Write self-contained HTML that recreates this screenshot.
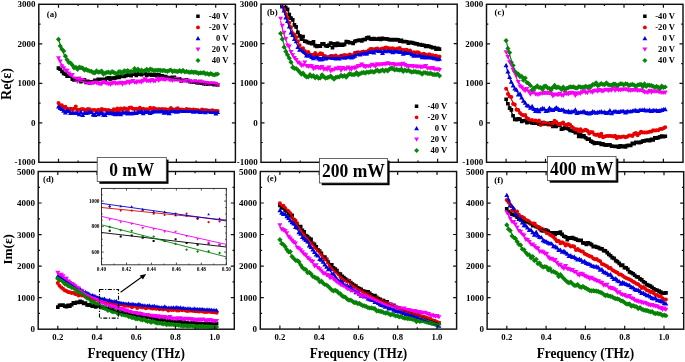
<!DOCTYPE html>
<html><head><meta charset="utf-8"><style>
html,body{margin:0;padding:0;background:#fff;}
body{width:685px;height:362px;overflow:hidden;font-family:"Liberation Serif",serif;}
svg{display:block;will-change:transform;filter:blur(0.3px);}
</style></head><body>
<svg width="685" height="362" viewBox="0 0 685 362">
<rect width="685" height="362" fill="#fff"/>
<defs>
<clipPath id="cpa"><rect x="38.8" y="4.3" width="196.6" height="158.0"/></clipPath>
<clipPath id="cpi"><rect x="101.5" y="188.4" width="124.8" height="76.4"/></clipPath>
<clipPath id="cpb"><rect x="261.0" y="4.2" width="196.2" height="158.1"/></clipPath>
<clipPath id="cpc"><rect x="486.5" y="4.3" width="196.5" height="158.0"/></clipPath>
<clipPath id="cpd"><rect x="38.2" y="171.5" width="196.1" height="157.7"/></clipPath>
<clipPath id="cpe"><rect x="260.3" y="171.5" width="196.3" height="157.6"/></clipPath>
<clipPath id="cpf"><rect x="487.1" y="171.7" width="196.6" height="157.5"/></clipPath>
</defs>
<g clip-path="url(#cpa)">
<path fill="#000000" d="M56.6 66.3h3.7v3.7h-3.7zM58.3 67.4h3.7v3.7h-3.7zM60.1 69.5h3.7v3.7h-3.7zM61.8 71.6h3.7v3.7h-3.7zM63.5 72.3h3.7v3.7h-3.7zM65.3 74.3h3.7v3.7h-3.7zM67.0 74.3h3.7v3.7h-3.7zM68.7 74.1h3.7v3.7h-3.7zM70.5 77.2h3.7v3.7h-3.7zM72.2 78.1h3.7v3.7h-3.7zM73.9 77.3h3.7v3.7h-3.7zM75.6 77.7h3.7v3.7h-3.7zM77.4 78.3h3.7v3.7h-3.7zM79.1 79.7h3.7v3.7h-3.7zM80.8 78.8h3.7v3.7h-3.7zM82.6 78.1h3.7v3.7h-3.7zM84.3 80.5h3.7v3.7h-3.7zM86.0 79.5h3.7v3.7h-3.7zM87.8 81.0h3.7v3.7h-3.7zM89.5 80.2h3.7v3.7h-3.7zM91.2 80.6h3.7v3.7h-3.7zM92.9 78.6h3.7v3.7h-3.7zM94.7 79.5h3.7v3.7h-3.7zM96.4 77.6h3.7v3.7h-3.7zM98.1 77.5h3.7v3.7h-3.7zM99.9 77.6h3.7v3.7h-3.7zM101.6 79.7h3.7v3.7h-3.7zM103.3 77.4h3.7v3.7h-3.7zM105.1 76.6h3.7v3.7h-3.7zM106.8 76.1h3.7v3.7h-3.7zM108.5 77.5h3.7v3.7h-3.7zM110.2 76.2h3.7v3.7h-3.7zM112.0 76.4h3.7v3.7h-3.7zM113.7 76.0h3.7v3.7h-3.7zM115.4 74.0h3.7v3.7h-3.7zM117.2 75.5h3.7v3.7h-3.7zM118.9 74.6h3.7v3.7h-3.7zM120.6 73.5h3.7v3.7h-3.7zM122.4 74.6h3.7v3.7h-3.7zM124.1 73.8h3.7v3.7h-3.7zM125.8 73.2h3.7v3.7h-3.7zM127.5 72.9h3.7v3.7h-3.7zM129.3 73.7h3.7v3.7h-3.7zM131.0 72.3h3.7v3.7h-3.7zM132.7 71.0h3.7v3.7h-3.7zM134.5 73.5h3.7v3.7h-3.7zM136.2 71.5h3.7v3.7h-3.7zM137.9 72.2h3.7v3.7h-3.7zM139.7 72.9h3.7v3.7h-3.7zM141.4 70.8h3.7v3.7h-3.7zM143.1 71.9h3.7v3.7h-3.7zM144.8 73.6h3.7v3.7h-3.7zM146.6 72.7h3.7v3.7h-3.7zM148.3 72.5h3.7v3.7h-3.7zM150.0 73.2h3.7v3.7h-3.7zM151.8 72.7h3.7v3.7h-3.7zM153.5 73.4h3.7v3.7h-3.7zM155.2 73.0h3.7v3.7h-3.7zM157.0 72.7h3.7v3.7h-3.7zM158.7 74.5h3.7v3.7h-3.7zM160.4 74.1h3.7v3.7h-3.7zM162.1 74.8h3.7v3.7h-3.7zM163.9 74.7h3.7v3.7h-3.7zM165.6 75.9h3.7v3.7h-3.7zM167.3 75.8h3.7v3.7h-3.7zM169.1 75.8h3.7v3.7h-3.7zM170.8 75.4h3.7v3.7h-3.7zM172.5 75.6h3.7v3.7h-3.7zM174.3 77.5h3.7v3.7h-3.7zM176.0 77.5h3.7v3.7h-3.7zM177.7 76.9h3.7v3.7h-3.7zM179.4 79.0h3.7v3.7h-3.7zM181.2 78.4h3.7v3.7h-3.7zM182.9 78.6h3.7v3.7h-3.7zM184.6 78.1h3.7v3.7h-3.7zM186.4 78.8h3.7v3.7h-3.7zM188.1 79.8h3.7v3.7h-3.7zM189.8 80.1h3.7v3.7h-3.7zM191.6 80.3h3.7v3.7h-3.7zM193.3 79.5h3.7v3.7h-3.7zM195.0 80.9h3.7v3.7h-3.7zM196.7 81.1h3.7v3.7h-3.7zM198.5 80.9h3.7v3.7h-3.7zM200.2 81.4h3.7v3.7h-3.7zM201.9 81.7h3.7v3.7h-3.7zM203.7 82.4h3.7v3.7h-3.7zM205.4 82.0h3.7v3.7h-3.7zM207.1 82.4h3.7v3.7h-3.7zM208.9 81.8h3.7v3.7h-3.7zM210.6 82.2h3.7v3.7h-3.7zM212.3 82.7h3.7v3.7h-3.7zM214.0 82.5h3.7v3.7h-3.7zM215.8 83.1h3.7v3.7h-3.7z"/>
<path fill="#ee0000" d="M56.5 103.1a2.0 2.0 0 1 0 4.0 0a2.0 2.0 0 1 0 -4.0 0zM58.2 105.2a2.0 2.0 0 1 0 4.0 0a2.0 2.0 0 1 0 -4.0 0zM59.9 105.2a2.0 2.0 0 1 0 4.0 0a2.0 2.0 0 1 0 -4.0 0zM61.7 108.1a2.0 2.0 0 1 0 4.0 0a2.0 2.0 0 1 0 -4.0 0zM63.4 106.7a2.0 2.0 0 1 0 4.0 0a2.0 2.0 0 1 0 -4.0 0zM65.1 109.6a2.0 2.0 0 1 0 4.0 0a2.0 2.0 0 1 0 -4.0 0zM66.8 110.4a2.0 2.0 0 1 0 4.0 0a2.0 2.0 0 1 0 -4.0 0zM68.6 108.7a2.0 2.0 0 1 0 4.0 0a2.0 2.0 0 1 0 -4.0 0zM70.3 109.7a2.0 2.0 0 1 0 4.0 0a2.0 2.0 0 1 0 -4.0 0zM72.0 108.7a2.0 2.0 0 1 0 4.0 0a2.0 2.0 0 1 0 -4.0 0zM73.8 106.5a2.0 2.0 0 1 0 4.0 0a2.0 2.0 0 1 0 -4.0 0zM75.5 110.1a2.0 2.0 0 1 0 4.0 0a2.0 2.0 0 1 0 -4.0 0zM77.2 110.0a2.0 2.0 0 1 0 4.0 0a2.0 2.0 0 1 0 -4.0 0zM79.0 109.2a2.0 2.0 0 1 0 4.0 0a2.0 2.0 0 1 0 -4.0 0zM80.7 109.0a2.0 2.0 0 1 0 4.0 0a2.0 2.0 0 1 0 -4.0 0zM82.4 109.8a2.0 2.0 0 1 0 4.0 0a2.0 2.0 0 1 0 -4.0 0zM84.1 109.9a2.0 2.0 0 1 0 4.0 0a2.0 2.0 0 1 0 -4.0 0zM85.9 109.0a2.0 2.0 0 1 0 4.0 0a2.0 2.0 0 1 0 -4.0 0zM87.6 109.3a2.0 2.0 0 1 0 4.0 0a2.0 2.0 0 1 0 -4.0 0zM89.3 111.0a2.0 2.0 0 1 0 4.0 0a2.0 2.0 0 1 0 -4.0 0zM91.1 110.0a2.0 2.0 0 1 0 4.0 0a2.0 2.0 0 1 0 -4.0 0zM92.8 109.9a2.0 2.0 0 1 0 4.0 0a2.0 2.0 0 1 0 -4.0 0zM94.5 111.1a2.0 2.0 0 1 0 4.0 0a2.0 2.0 0 1 0 -4.0 0zM96.3 109.7a2.0 2.0 0 1 0 4.0 0a2.0 2.0 0 1 0 -4.0 0zM98.0 110.9a2.0 2.0 0 1 0 4.0 0a2.0 2.0 0 1 0 -4.0 0zM99.7 109.0a2.0 2.0 0 1 0 4.0 0a2.0 2.0 0 1 0 -4.0 0zM101.4 109.8a2.0 2.0 0 1 0 4.0 0a2.0 2.0 0 1 0 -4.0 0zM103.2 109.8a2.0 2.0 0 1 0 4.0 0a2.0 2.0 0 1 0 -4.0 0zM104.9 110.5a2.0 2.0 0 1 0 4.0 0a2.0 2.0 0 1 0 -4.0 0zM106.6 109.9a2.0 2.0 0 1 0 4.0 0a2.0 2.0 0 1 0 -4.0 0zM108.4 111.7a2.0 2.0 0 1 0 4.0 0a2.0 2.0 0 1 0 -4.0 0zM110.1 110.7a2.0 2.0 0 1 0 4.0 0a2.0 2.0 0 1 0 -4.0 0zM111.8 109.2a2.0 2.0 0 1 0 4.0 0a2.0 2.0 0 1 0 -4.0 0zM113.6 111.5a2.0 2.0 0 1 0 4.0 0a2.0 2.0 0 1 0 -4.0 0zM115.3 108.6a2.0 2.0 0 1 0 4.0 0a2.0 2.0 0 1 0 -4.0 0zM117.0 110.9a2.0 2.0 0 1 0 4.0 0a2.0 2.0 0 1 0 -4.0 0zM118.7 108.5a2.0 2.0 0 1 0 4.0 0a2.0 2.0 0 1 0 -4.0 0zM120.5 109.9a2.0 2.0 0 1 0 4.0 0a2.0 2.0 0 1 0 -4.0 0zM122.2 108.3a2.0 2.0 0 1 0 4.0 0a2.0 2.0 0 1 0 -4.0 0zM123.9 108.8a2.0 2.0 0 1 0 4.0 0a2.0 2.0 0 1 0 -4.0 0zM125.7 110.2a2.0 2.0 0 1 0 4.0 0a2.0 2.0 0 1 0 -4.0 0zM127.4 107.7a2.0 2.0 0 1 0 4.0 0a2.0 2.0 0 1 0 -4.0 0zM129.1 107.5a2.0 2.0 0 1 0 4.0 0a2.0 2.0 0 1 0 -4.0 0zM130.9 108.8a2.0 2.0 0 1 0 4.0 0a2.0 2.0 0 1 0 -4.0 0zM132.6 108.9a2.0 2.0 0 1 0 4.0 0a2.0 2.0 0 1 0 -4.0 0zM134.3 108.8a2.0 2.0 0 1 0 4.0 0a2.0 2.0 0 1 0 -4.0 0zM136.0 109.5a2.0 2.0 0 1 0 4.0 0a2.0 2.0 0 1 0 -4.0 0zM137.8 107.8a2.0 2.0 0 1 0 4.0 0a2.0 2.0 0 1 0 -4.0 0zM139.5 109.2a2.0 2.0 0 1 0 4.0 0a2.0 2.0 0 1 0 -4.0 0zM141.2 108.8a2.0 2.0 0 1 0 4.0 0a2.0 2.0 0 1 0 -4.0 0zM143.0 109.4a2.0 2.0 0 1 0 4.0 0a2.0 2.0 0 1 0 -4.0 0zM144.7 109.3a2.0 2.0 0 1 0 4.0 0a2.0 2.0 0 1 0 -4.0 0zM146.4 109.8a2.0 2.0 0 1 0 4.0 0a2.0 2.0 0 1 0 -4.0 0zM148.2 107.8a2.0 2.0 0 1 0 4.0 0a2.0 2.0 0 1 0 -4.0 0zM149.9 108.9a2.0 2.0 0 1 0 4.0 0a2.0 2.0 0 1 0 -4.0 0zM151.6 108.1a2.0 2.0 0 1 0 4.0 0a2.0 2.0 0 1 0 -4.0 0zM153.3 108.8a2.0 2.0 0 1 0 4.0 0a2.0 2.0 0 1 0 -4.0 0zM155.1 109.4a2.0 2.0 0 1 0 4.0 0a2.0 2.0 0 1 0 -4.0 0zM156.8 109.1a2.0 2.0 0 1 0 4.0 0a2.0 2.0 0 1 0 -4.0 0zM158.5 109.3a2.0 2.0 0 1 0 4.0 0a2.0 2.0 0 1 0 -4.0 0zM160.3 108.9a2.0 2.0 0 1 0 4.0 0a2.0 2.0 0 1 0 -4.0 0zM162.0 109.2a2.0 2.0 0 1 0 4.0 0a2.0 2.0 0 1 0 -4.0 0zM163.7 109.2a2.0 2.0 0 1 0 4.0 0a2.0 2.0 0 1 0 -4.0 0zM165.5 110.0a2.0 2.0 0 1 0 4.0 0a2.0 2.0 0 1 0 -4.0 0zM167.2 109.6a2.0 2.0 0 1 0 4.0 0a2.0 2.0 0 1 0 -4.0 0zM168.9 107.9a2.0 2.0 0 1 0 4.0 0a2.0 2.0 0 1 0 -4.0 0zM170.6 109.5a2.0 2.0 0 1 0 4.0 0a2.0 2.0 0 1 0 -4.0 0zM172.4 109.8a2.0 2.0 0 1 0 4.0 0a2.0 2.0 0 1 0 -4.0 0zM174.1 108.9a2.0 2.0 0 1 0 4.0 0a2.0 2.0 0 1 0 -4.0 0zM175.8 108.3a2.0 2.0 0 1 0 4.0 0a2.0 2.0 0 1 0 -4.0 0zM177.6 110.2a2.0 2.0 0 1 0 4.0 0a2.0 2.0 0 1 0 -4.0 0zM179.3 109.4a2.0 2.0 0 1 0 4.0 0a2.0 2.0 0 1 0 -4.0 0zM181.0 109.7a2.0 2.0 0 1 0 4.0 0a2.0 2.0 0 1 0 -4.0 0zM182.8 110.5a2.0 2.0 0 1 0 4.0 0a2.0 2.0 0 1 0 -4.0 0zM184.5 109.0a2.0 2.0 0 1 0 4.0 0a2.0 2.0 0 1 0 -4.0 0zM186.2 109.5a2.0 2.0 0 1 0 4.0 0a2.0 2.0 0 1 0 -4.0 0zM187.9 109.5a2.0 2.0 0 1 0 4.0 0a2.0 2.0 0 1 0 -4.0 0zM189.7 110.1a2.0 2.0 0 1 0 4.0 0a2.0 2.0 0 1 0 -4.0 0zM191.4 109.4a2.0 2.0 0 1 0 4.0 0a2.0 2.0 0 1 0 -4.0 0zM193.1 110.1a2.0 2.0 0 1 0 4.0 0a2.0 2.0 0 1 0 -4.0 0zM194.9 109.9a2.0 2.0 0 1 0 4.0 0a2.0 2.0 0 1 0 -4.0 0zM196.6 110.5a2.0 2.0 0 1 0 4.0 0a2.0 2.0 0 1 0 -4.0 0zM198.3 110.7a2.0 2.0 0 1 0 4.0 0a2.0 2.0 0 1 0 -4.0 0zM200.1 109.4a2.0 2.0 0 1 0 4.0 0a2.0 2.0 0 1 0 -4.0 0zM201.8 110.4a2.0 2.0 0 1 0 4.0 0a2.0 2.0 0 1 0 -4.0 0zM203.5 110.1a2.0 2.0 0 1 0 4.0 0a2.0 2.0 0 1 0 -4.0 0zM205.2 110.4a2.0 2.0 0 1 0 4.0 0a2.0 2.0 0 1 0 -4.0 0zM207.0 110.7a2.0 2.0 0 1 0 4.0 0a2.0 2.0 0 1 0 -4.0 0zM208.7 110.8a2.0 2.0 0 1 0 4.0 0a2.0 2.0 0 1 0 -4.0 0zM210.4 110.3a2.0 2.0 0 1 0 4.0 0a2.0 2.0 0 1 0 -4.0 0zM212.2 110.9a2.0 2.0 0 1 0 4.0 0a2.0 2.0 0 1 0 -4.0 0zM213.9 110.9a2.0 2.0 0 1 0 4.0 0a2.0 2.0 0 1 0 -4.0 0zM215.6 110.9a2.0 2.0 0 1 0 4.0 0a2.0 2.0 0 1 0 -4.0 0z"/>
<path fill="#0000ee" d="M58.5 104.1l2.5 4.4h-5.0zM60.2 105.5l2.5 4.4h-5.0zM61.9 106.6l2.5 4.4h-5.0zM63.7 108.4l2.5 4.4h-5.0zM65.4 110.0l2.5 4.4h-5.0zM67.1 107.9l2.5 4.4h-5.0zM68.8 108.7l2.5 4.4h-5.0zM70.6 110.6l2.5 4.4h-5.0zM72.3 110.4l2.5 4.4h-5.0zM74.0 110.4l2.5 4.4h-5.0zM75.8 110.5l2.5 4.4h-5.0zM77.5 110.3l2.5 4.4h-5.0zM79.2 111.9l2.5 4.4h-5.0zM81.0 109.6l2.5 4.4h-5.0zM82.7 112.7l2.5 4.4h-5.0zM84.4 110.3l2.5 4.4h-5.0zM86.1 110.6l2.5 4.4h-5.0zM87.9 110.2l2.5 4.4h-5.0zM89.6 109.0l2.5 4.4h-5.0zM91.3 109.4l2.5 4.4h-5.0zM93.1 112.1l2.5 4.4h-5.0zM94.8 112.6l2.5 4.4h-5.0zM96.5 109.9l2.5 4.4h-5.0zM98.3 111.8l2.5 4.4h-5.0zM100.0 110.7l2.5 4.4h-5.0zM101.7 109.8l2.5 4.4h-5.0zM103.4 112.3l2.5 4.4h-5.0zM105.2 112.7l2.5 4.4h-5.0zM106.9 110.3l2.5 4.4h-5.0zM108.6 110.5l2.5 4.4h-5.0zM110.4 110.8l2.5 4.4h-5.0zM112.1 110.5l2.5 4.4h-5.0zM113.8 111.3l2.5 4.4h-5.0zM115.6 111.9l2.5 4.4h-5.0zM117.3 110.6l2.5 4.4h-5.0zM119.0 111.3l2.5 4.4h-5.0zM120.7 111.9l2.5 4.4h-5.0zM122.5 109.9l2.5 4.4h-5.0zM124.2 110.4l2.5 4.4h-5.0zM125.9 109.9l2.5 4.4h-5.0zM127.7 111.1l2.5 4.4h-5.0zM129.4 110.8l2.5 4.4h-5.0zM131.1 111.1l2.5 4.4h-5.0zM132.9 110.9l2.5 4.4h-5.0zM134.6 109.9l2.5 4.4h-5.0zM136.3 110.7l2.5 4.4h-5.0zM138.0 109.7l2.5 4.4h-5.0zM139.8 109.7l2.5 4.4h-5.0zM141.5 108.2l2.5 4.4h-5.0zM143.2 110.9l2.5 4.4h-5.0zM145.0 109.0l2.5 4.4h-5.0zM146.7 109.7l2.5 4.4h-5.0zM148.4 109.5l2.5 4.4h-5.0zM150.2 110.6l2.5 4.4h-5.0zM151.9 109.7l2.5 4.4h-5.0zM153.6 108.6l2.5 4.4h-5.0zM155.3 109.2l2.5 4.4h-5.0zM157.1 109.0l2.5 4.4h-5.0zM158.8 109.2l2.5 4.4h-5.0zM160.5 108.0l2.5 4.4h-5.0zM162.3 108.8l2.5 4.4h-5.0zM164.0 110.3l2.5 4.4h-5.0zM165.7 109.1l2.5 4.4h-5.0zM167.5 110.0l2.5 4.4h-5.0zM169.2 110.8l2.5 4.4h-5.0zM170.9 108.9l2.5 4.4h-5.0zM172.6 107.6l2.5 4.4h-5.0zM174.4 108.5l2.5 4.4h-5.0zM176.1 109.3l2.5 4.4h-5.0zM177.8 109.1l2.5 4.4h-5.0zM179.6 107.8l2.5 4.4h-5.0zM181.3 108.4l2.5 4.4h-5.0zM183.0 108.5l2.5 4.4h-5.0zM184.8 108.6l2.5 4.4h-5.0zM186.5 108.6l2.5 4.4h-5.0zM188.2 108.1l2.5 4.4h-5.0zM189.9 108.3l2.5 4.4h-5.0zM191.7 108.6l2.5 4.4h-5.0zM193.4 109.3l2.5 4.4h-5.0zM195.1 108.5l2.5 4.4h-5.0zM196.9 109.2l2.5 4.4h-5.0zM198.6 108.3l2.5 4.4h-5.0zM200.3 109.6l2.5 4.4h-5.0zM202.1 109.1l2.5 4.4h-5.0zM203.8 109.1l2.5 4.4h-5.0zM205.5 109.9l2.5 4.4h-5.0zM207.2 108.4l2.5 4.4h-5.0zM209.0 108.6l2.5 4.4h-5.0zM210.7 109.7l2.5 4.4h-5.0zM212.4 109.2l2.5 4.4h-5.0zM214.2 109.5l2.5 4.4h-5.0zM215.9 111.0l2.5 4.4h-5.0zM217.6 109.7l2.5 4.4h-5.0z"/>
<path fill="#ff00ff" d="M58.5 60.6l2.5 -4.4h-5.0zM60.2 64.0l2.5 -4.4h-5.0zM61.9 68.7l2.5 -4.4h-5.0zM63.7 70.6l2.5 -4.4h-5.0zM65.4 72.8l2.5 -4.4h-5.0zM67.1 73.2l2.5 -4.4h-5.0zM68.8 75.9l2.5 -4.4h-5.0zM70.6 77.9l2.5 -4.4h-5.0zM72.3 77.4l2.5 -4.4h-5.0zM74.0 81.0l2.5 -4.4h-5.0zM75.8 81.7l2.5 -4.4h-5.0zM77.5 84.1l2.5 -4.4h-5.0zM79.2 81.0l2.5 -4.4h-5.0zM81.0 82.4l2.5 -4.4h-5.0zM82.7 83.0l2.5 -4.4h-5.0zM84.4 83.8l2.5 -4.4h-5.0zM86.1 84.7l2.5 -4.4h-5.0zM87.9 84.9l2.5 -4.4h-5.0zM89.6 85.6l2.5 -4.4h-5.0zM91.3 85.7l2.5 -4.4h-5.0zM93.1 85.5l2.5 -4.4h-5.0zM94.8 84.1l2.5 -4.4h-5.0zM96.5 85.2l2.5 -4.4h-5.0zM98.3 85.9l2.5 -4.4h-5.0zM100.0 86.4l2.5 -4.4h-5.0zM101.7 86.5l2.5 -4.4h-5.0zM103.4 84.2l2.5 -4.4h-5.0zM105.2 85.3l2.5 -4.4h-5.0zM106.9 85.8l2.5 -4.4h-5.0zM108.6 86.2l2.5 -4.4h-5.0zM110.4 86.9l2.5 -4.4h-5.0zM112.1 85.9l2.5 -4.4h-5.0zM113.8 85.0l2.5 -4.4h-5.0zM115.6 86.1l2.5 -4.4h-5.0zM117.3 85.8l2.5 -4.4h-5.0zM119.0 85.7l2.5 -4.4h-5.0zM120.7 85.2l2.5 -4.4h-5.0zM122.5 86.7l2.5 -4.4h-5.0zM124.2 85.3l2.5 -4.4h-5.0zM125.9 85.7l2.5 -4.4h-5.0zM127.7 84.1l2.5 -4.4h-5.0zM129.4 85.5l2.5 -4.4h-5.0zM131.1 84.2l2.5 -4.4h-5.0zM132.9 83.3l2.5 -4.4h-5.0zM134.6 84.8l2.5 -4.4h-5.0zM136.3 84.9l2.5 -4.4h-5.0zM138.0 84.0l2.5 -4.4h-5.0zM139.8 84.0l2.5 -4.4h-5.0zM141.5 84.6l2.5 -4.4h-5.0zM143.2 83.2l2.5 -4.4h-5.0zM145.0 81.7l2.5 -4.4h-5.0zM146.7 83.4l2.5 -4.4h-5.0zM148.4 83.2l2.5 -4.4h-5.0zM150.2 83.7l2.5 -4.4h-5.0zM151.9 82.4l2.5 -4.4h-5.0zM153.6 83.6l2.5 -4.4h-5.0zM155.3 83.4l2.5 -4.4h-5.0zM157.1 81.5l2.5 -4.4h-5.0zM158.8 83.1l2.5 -4.4h-5.0zM160.5 81.6l2.5 -4.4h-5.0zM162.3 81.2l2.5 -4.4h-5.0zM164.0 82.1l2.5 -4.4h-5.0zM165.7 81.9l2.5 -4.4h-5.0zM167.5 80.8l2.5 -4.4h-5.0zM169.2 82.3l2.5 -4.4h-5.0zM170.9 82.6l2.5 -4.4h-5.0zM172.6 83.1l2.5 -4.4h-5.0zM174.4 82.1l2.5 -4.4h-5.0zM176.1 81.2l2.5 -4.4h-5.0zM177.8 81.7l2.5 -4.4h-5.0zM179.6 83.1l2.5 -4.4h-5.0zM181.3 83.2l2.5 -4.4h-5.0zM183.0 83.1l2.5 -4.4h-5.0zM184.8 82.9l2.5 -4.4h-5.0zM186.5 83.4l2.5 -4.4h-5.0zM188.2 83.4l2.5 -4.4h-5.0zM189.9 83.5l2.5 -4.4h-5.0zM191.7 84.1l2.5 -4.4h-5.0zM193.4 84.1l2.5 -4.4h-5.0zM195.1 84.1l2.5 -4.4h-5.0zM196.9 84.5l2.5 -4.4h-5.0zM198.6 84.3l2.5 -4.4h-5.0zM200.3 83.8l2.5 -4.4h-5.0zM202.1 84.7l2.5 -4.4h-5.0zM203.8 85.1l2.5 -4.4h-5.0zM205.5 86.2l2.5 -4.4h-5.0zM207.2 85.3l2.5 -4.4h-5.0zM209.0 86.7l2.5 -4.4h-5.0zM210.7 86.6l2.5 -4.4h-5.0zM212.4 85.7l2.5 -4.4h-5.0zM214.2 85.9l2.5 -4.4h-5.0zM215.9 86.6l2.5 -4.4h-5.0zM217.6 87.5l2.5 -4.4h-5.0z"/>
<path fill="#0a850a" d="M58.5 36.7l2.6 2.6l-2.6 2.6l-2.6 -2.6zM60.2 43.4l2.6 2.6l-2.6 2.6l-2.6 -2.6zM61.9 46.6l2.6 2.6l-2.6 2.6l-2.6 -2.6zM63.7 48.3l2.6 2.6l-2.6 2.6l-2.6 -2.6zM65.4 53.6l2.6 2.6l-2.6 2.6l-2.6 -2.6zM67.1 57.2l2.6 2.6l-2.6 2.6l-2.6 -2.6zM68.8 59.8l2.6 2.6l-2.6 2.6l-2.6 -2.6zM70.6 60.4l2.6 2.6l-2.6 2.6l-2.6 -2.6zM72.3 62.5l2.6 2.6l-2.6 2.6l-2.6 -2.6zM74.0 65.2l2.6 2.6l-2.6 2.6l-2.6 -2.6zM75.8 64.7l2.6 2.6l-2.6 2.6l-2.6 -2.6zM77.5 66.7l2.6 2.6l-2.6 2.6l-2.6 -2.6zM79.2 64.6l2.6 2.6l-2.6 2.6l-2.6 -2.6zM81.0 65.1l2.6 2.6l-2.6 2.6l-2.6 -2.6zM82.7 65.4l2.6 2.6l-2.6 2.6l-2.6 -2.6zM84.4 67.5l2.6 2.6l-2.6 2.6l-2.6 -2.6zM86.1 66.7l2.6 2.6l-2.6 2.6l-2.6 -2.6zM87.9 67.8l2.6 2.6l-2.6 2.6l-2.6 -2.6zM89.6 68.4l2.6 2.6l-2.6 2.6l-2.6 -2.6zM91.3 68.7l2.6 2.6l-2.6 2.6l-2.6 -2.6zM93.1 70.0l2.6 2.6l-2.6 2.6l-2.6 -2.6zM94.8 70.4l2.6 2.6l-2.6 2.6l-2.6 -2.6zM96.5 68.3l2.6 2.6l-2.6 2.6l-2.6 -2.6zM98.3 69.6l2.6 2.6l-2.6 2.6l-2.6 -2.6zM100.0 69.3l2.6 2.6l-2.6 2.6l-2.6 -2.6zM101.7 68.6l2.6 2.6l-2.6 2.6l-2.6 -2.6zM103.4 71.5l2.6 2.6l-2.6 2.6l-2.6 -2.6zM105.2 70.6l2.6 2.6l-2.6 2.6l-2.6 -2.6zM106.9 69.7l2.6 2.6l-2.6 2.6l-2.6 -2.6zM108.6 69.6l2.6 2.6l-2.6 2.6l-2.6 -2.6zM110.4 70.4l2.6 2.6l-2.6 2.6l-2.6 -2.6zM112.1 69.0l2.6 2.6l-2.6 2.6l-2.6 -2.6zM113.8 69.8l2.6 2.6l-2.6 2.6l-2.6 -2.6zM115.6 71.1l2.6 2.6l-2.6 2.6l-2.6 -2.6zM117.3 70.8l2.6 2.6l-2.6 2.6l-2.6 -2.6zM119.0 69.0l2.6 2.6l-2.6 2.6l-2.6 -2.6zM120.7 69.3l2.6 2.6l-2.6 2.6l-2.6 -2.6zM122.5 71.3l2.6 2.6l-2.6 2.6l-2.6 -2.6zM124.2 68.2l2.6 2.6l-2.6 2.6l-2.6 -2.6zM125.9 68.8l2.6 2.6l-2.6 2.6l-2.6 -2.6zM127.7 67.9l2.6 2.6l-2.6 2.6l-2.6 -2.6zM129.4 69.2l2.6 2.6l-2.6 2.6l-2.6 -2.6zM131.1 68.8l2.6 2.6l-2.6 2.6l-2.6 -2.6zM132.9 69.3l2.6 2.6l-2.6 2.6l-2.6 -2.6zM134.6 66.0l2.6 2.6l-2.6 2.6l-2.6 -2.6zM136.3 68.2l2.6 2.6l-2.6 2.6l-2.6 -2.6zM138.0 66.6l2.6 2.6l-2.6 2.6l-2.6 -2.6zM139.8 68.4l2.6 2.6l-2.6 2.6l-2.6 -2.6zM141.5 67.6l2.6 2.6l-2.6 2.6l-2.6 -2.6zM143.2 69.0l2.6 2.6l-2.6 2.6l-2.6 -2.6zM145.0 67.9l2.6 2.6l-2.6 2.6l-2.6 -2.6zM146.7 66.7l2.6 2.6l-2.6 2.6l-2.6 -2.6zM148.4 68.4l2.6 2.6l-2.6 2.6l-2.6 -2.6zM150.2 66.5l2.6 2.6l-2.6 2.6l-2.6 -2.6zM151.9 67.1l2.6 2.6l-2.6 2.6l-2.6 -2.6zM153.6 68.1l2.6 2.6l-2.6 2.6l-2.6 -2.6zM155.3 67.7l2.6 2.6l-2.6 2.6l-2.6 -2.6zM157.1 67.7l2.6 2.6l-2.6 2.6l-2.6 -2.6zM158.8 67.4l2.6 2.6l-2.6 2.6l-2.6 -2.6zM160.5 67.8l2.6 2.6l-2.6 2.6l-2.6 -2.6zM162.3 68.1l2.6 2.6l-2.6 2.6l-2.6 -2.6zM164.0 67.8l2.6 2.6l-2.6 2.6l-2.6 -2.6zM165.7 68.4l2.6 2.6l-2.6 2.6l-2.6 -2.6zM167.5 68.7l2.6 2.6l-2.6 2.6l-2.6 -2.6zM169.2 67.9l2.6 2.6l-2.6 2.6l-2.6 -2.6zM170.9 67.4l2.6 2.6l-2.6 2.6l-2.6 -2.6zM172.6 69.1l2.6 2.6l-2.6 2.6l-2.6 -2.6zM174.4 68.2l2.6 2.6l-2.6 2.6l-2.6 -2.6zM176.1 68.7l2.6 2.6l-2.6 2.6l-2.6 -2.6zM177.8 69.0l2.6 2.6l-2.6 2.6l-2.6 -2.6zM179.6 68.0l2.6 2.6l-2.6 2.6l-2.6 -2.6zM181.3 69.0l2.6 2.6l-2.6 2.6l-2.6 -2.6zM183.0 67.8l2.6 2.6l-2.6 2.6l-2.6 -2.6zM184.8 69.4l2.6 2.6l-2.6 2.6l-2.6 -2.6zM186.5 68.8l2.6 2.6l-2.6 2.6l-2.6 -2.6zM188.2 69.4l2.6 2.6l-2.6 2.6l-2.6 -2.6zM189.9 69.8l2.6 2.6l-2.6 2.6l-2.6 -2.6zM191.7 69.2l2.6 2.6l-2.6 2.6l-2.6 -2.6zM193.4 69.8l2.6 2.6l-2.6 2.6l-2.6 -2.6zM195.1 69.5l2.6 2.6l-2.6 2.6l-2.6 -2.6zM196.9 70.0l2.6 2.6l-2.6 2.6l-2.6 -2.6zM198.6 70.7l2.6 2.6l-2.6 2.6l-2.6 -2.6zM200.3 70.3l2.6 2.6l-2.6 2.6l-2.6 -2.6zM202.1 70.4l2.6 2.6l-2.6 2.6l-2.6 -2.6zM203.8 70.1l2.6 2.6l-2.6 2.6l-2.6 -2.6zM205.5 71.2l2.6 2.6l-2.6 2.6l-2.6 -2.6zM207.2 70.9l2.6 2.6l-2.6 2.6l-2.6 -2.6zM209.0 71.9l2.6 2.6l-2.6 2.6l-2.6 -2.6zM210.7 70.9l2.6 2.6l-2.6 2.6l-2.6 -2.6zM212.4 71.9l2.6 2.6l-2.6 2.6l-2.6 -2.6zM214.2 72.4l2.6 2.6l-2.6 2.6l-2.6 -2.6zM215.9 71.7l2.6 2.6l-2.6 2.6l-2.6 -2.6zM217.6 71.4l2.6 2.6l-2.6 2.6l-2.6 -2.6z"/>
<polyline fill="none" stroke="#000000" stroke-width="1.2" points="58.5,68.2 60.5,69.9 62.5,71.5 64.5,73.0 66.5,74.5 68.5,76.0 70.6,77.5 72.6,78.7 74.6,79.4 76.6,79.8 78.6,80.2 80.6,80.4 82.6,80.6 84.7,80.8 86.7,80.8 88.7,80.8 90.7,80.7 92.7,80.5 94.7,80.2 96.8,80.0 98.8,79.7 100.8,79.4 102.8,79.1 104.8,78.8 106.8,78.4 108.9,78.1 110.9,77.7 112.9,77.4 114.9,77.1 116.9,76.9 118.9,76.6 120.9,76.3 123.0,76.1 125.0,75.7 127.0,75.3 129.0,74.9 131.0,74.5 133.0,74.1 135.1,74.0 137.1,74.0 139.1,74.1 141.1,74.2 143.1,74.3 145.1,74.4 147.2,74.5 149.2,74.7 151.2,74.9 153.2,75.0 155.2,75.2 157.2,75.4 159.2,75.7 161.3,75.9 163.3,76.2 165.3,76.6 167.3,76.9 169.3,77.3 171.3,77.6 173.4,78.0 175.4,78.4 177.4,78.8 179.4,79.2 181.4,79.6 183.4,80.1 185.5,80.5 187.5,80.9 189.5,81.3 191.5,81.7 193.5,82.0 195.5,82.3 197.5,82.6 199.6,82.9 201.6,83.1 203.6,83.4 205.6,83.6 207.6,83.9 209.6,84.1 211.7,84.3 213.7,84.5 215.7,84.7 217.7,84.8"/>
<polyline fill="none" stroke="#dd0000" stroke-width="1.2" points="58.5,104.4 60.5,105.3 62.5,106.2 64.5,106.9 66.5,107.4 68.5,107.9 70.6,108.4 72.6,108.7 74.6,109.0 76.6,109.1 78.6,109.3 80.6,109.4 82.6,109.5 84.7,109.6 86.7,109.7 88.7,109.8 90.7,109.9 92.7,109.9 94.7,110.0 96.8,110.0 98.8,110.0 100.8,110.0 102.8,110.0 104.8,109.9 106.8,109.9 108.9,109.8 110.9,109.7 112.9,109.6 114.9,109.5 116.9,109.4 118.9,109.3 120.9,109.2 123.0,109.0 125.0,109.0 127.0,108.9 129.0,108.8 131.0,108.7 133.0,108.7 135.1,108.7 137.1,108.7 139.1,108.7 141.1,108.7 143.1,108.7 145.1,108.7 147.2,108.7 149.2,108.8 151.2,108.8 153.2,108.8 155.2,108.8 157.2,108.9 159.2,108.9 161.3,108.9 163.3,108.9 165.3,109.0 167.3,109.0 169.3,109.0 171.3,109.1 173.4,109.1 175.4,109.1 177.4,109.2 179.4,109.2 181.4,109.3 183.4,109.3 185.5,109.4 187.5,109.5 189.5,109.5 191.5,109.6 193.5,109.7 195.5,109.8 197.5,109.9 199.6,110.0 201.6,110.1 203.6,110.2 205.6,110.3 207.6,110.4 209.6,110.5 211.7,110.6 213.7,110.7 215.7,110.8 217.7,111.0"/>
<polyline fill="none" stroke="#0000cc" stroke-width="1.2" points="58.5,108.1 60.5,109.0 62.5,109.8 64.5,110.6 66.5,111.3 68.5,112.2 70.6,113.0 72.6,113.6 74.6,113.9 76.6,113.9 78.6,113.9 80.6,113.8 82.6,113.8 84.7,113.7 86.7,113.6 88.7,113.6 90.7,113.5 92.7,113.4 94.7,113.3 96.8,113.3 98.8,113.2 100.8,113.2 102.8,113.1 104.8,113.1 106.8,113.1 108.9,113.0 110.9,113.0 112.9,113.0 114.9,112.9 116.9,112.9 118.9,112.9 120.9,112.9 123.0,112.8 125.0,112.8 127.0,112.8 129.0,112.7 131.0,112.7 133.0,112.7 135.1,112.6 137.1,112.5 139.1,112.5 141.1,112.4 143.1,112.3 145.1,112.2 147.2,112.1 149.2,112.0 151.2,111.9 153.2,111.7 155.2,111.6 157.2,111.5 159.2,111.4 161.3,111.3 163.3,111.2 165.3,111.2 167.3,111.1 169.3,111.0 171.3,111.0 173.4,111.0 175.4,111.0 177.4,111.0 179.4,111.0 181.4,111.0 183.4,111.0 185.5,111.1 187.5,111.1 189.5,111.1 191.5,111.2 193.5,111.2 195.5,111.3 197.5,111.4 199.6,111.4 201.6,111.5 203.6,111.6 205.6,111.7 207.6,111.8 209.6,111.9 211.7,112.0 213.7,112.1 215.7,112.2 217.7,112.4"/>
<polyline fill="none" stroke="#ee00ee" stroke-width="1.2" points="58.5,58.0 60.5,62.2 62.5,65.9 64.5,69.0 66.5,71.4 68.5,73.5 70.6,75.4 72.6,76.9 74.6,78.1 76.6,79.1 78.6,80.0 80.6,80.9 82.6,81.5 84.7,82.1 86.7,82.5 88.7,82.7 90.7,82.9 92.7,83.0 94.7,83.2 96.8,83.3 98.8,83.3 100.8,83.3 102.8,83.3 104.8,83.3 106.8,83.3 108.9,83.3 110.9,83.3 112.9,83.3 114.9,83.3 116.9,83.1 118.9,83.0 120.9,82.8 123.0,82.7 125.0,82.5 127.0,82.4 129.0,82.3 131.0,82.2 133.0,82.1 135.1,81.9 137.1,81.8 139.1,81.6 141.1,81.3 143.1,81.1 145.1,80.9 147.2,80.6 149.2,80.4 151.2,80.2 153.2,80.1 155.2,80.0 157.2,80.0 159.2,79.9 161.3,79.9 163.3,79.8 165.3,79.8 167.3,79.7 169.3,79.7 171.3,79.7 173.4,79.7 175.4,79.7 177.4,79.8 179.4,79.9 181.4,80.1 183.4,80.4 185.5,80.6 187.5,80.9 189.5,81.1 191.5,81.4 193.5,81.6 195.5,81.8 197.5,82.0 199.6,82.2 201.6,82.4 203.6,82.6 205.6,82.9 207.6,83.1 209.6,83.3 211.7,83.5 213.7,83.7 215.7,84.0 217.7,84.2"/>
<polyline fill="none" stroke="#008000" stroke-width="1.2" points="58.5,38.8 60.5,46.1 62.5,51.3 64.5,55.1 66.5,58.1 68.5,60.6 70.6,62.9 72.6,65.2 74.6,66.8 76.6,67.7 78.6,68.3 80.6,68.8 82.6,69.2 84.7,69.6 86.7,70.0 88.7,70.4 90.7,70.8 92.7,71.2 94.7,71.5 96.8,71.8 98.8,72.0 100.8,72.2 102.8,72.3 104.8,72.4 106.8,72.5 108.9,72.6 110.9,72.6 112.9,72.6 114.9,72.6 116.9,72.5 118.9,72.4 120.9,72.3 123.0,72.2 125.0,72.0 127.0,71.8 129.0,71.5 131.0,71.2 133.0,70.9 135.1,70.7 137.1,70.6 139.1,70.5 141.1,70.4 143.1,70.2 145.1,70.1 147.2,70.1 149.2,70.0 151.2,69.9 153.2,69.9 155.2,69.9 157.2,69.9 159.2,70.0 161.3,70.1 163.3,70.2 165.3,70.3 167.3,70.4 169.3,70.5 171.3,70.6 173.4,70.7 175.4,70.8 177.4,71.0 179.4,71.1 181.4,71.3 183.4,71.4 185.5,71.6 187.5,71.8 189.5,71.9 191.5,72.1 193.5,72.3 195.5,72.4 197.5,72.6 199.6,72.8 201.6,73.0 203.6,73.1 205.6,73.3 207.6,73.5 209.6,73.7 211.7,73.9 213.7,74.1 215.7,74.3 217.7,74.5"/>
</g>
<g clip-path="url(#cpb)">
<path fill="#000000" d="M278.8 -5.1h3.7v3.7h-3.7zM280.5 -1.9h3.7v3.7h-3.7zM282.2 1.4h3.7v3.7h-3.7zM283.9 5.7h3.7v3.7h-3.7zM285.7 7.6h3.7v3.7h-3.7zM287.4 12.8h3.7v3.7h-3.7zM289.1 16.3h3.7v3.7h-3.7zM290.9 18.0h3.7v3.7h-3.7zM292.6 23.0h3.7v3.7h-3.7zM294.3 25.1h3.7v3.7h-3.7zM296.0 30.6h3.7v3.7h-3.7zM297.8 34.0h3.7v3.7h-3.7zM299.5 37.2h3.7v3.7h-3.7zM301.2 34.8h3.7v3.7h-3.7zM302.9 39.2h3.7v3.7h-3.7zM304.7 39.7h3.7v3.7h-3.7zM306.4 40.8h3.7v3.7h-3.7zM308.1 41.1h3.7v3.7h-3.7zM309.8 41.7h3.7v3.7h-3.7zM311.6 40.0h3.7v3.7h-3.7zM313.3 43.7h3.7v3.7h-3.7zM315.0 44.6h3.7v3.7h-3.7zM316.8 44.1h3.7v3.7h-3.7zM318.5 44.4h3.7v3.7h-3.7zM320.2 42.1h3.7v3.7h-3.7zM321.9 42.0h3.7v3.7h-3.7zM323.7 43.9h3.7v3.7h-3.7zM325.4 44.4h3.7v3.7h-3.7zM327.1 43.2h3.7v3.7h-3.7zM328.8 41.2h3.7v3.7h-3.7zM330.6 45.7h3.7v3.7h-3.7zM332.3 42.0h3.7v3.7h-3.7zM334.0 43.6h3.7v3.7h-3.7zM335.7 41.4h3.7v3.7h-3.7zM337.5 43.4h3.7v3.7h-3.7zM339.2 42.4h3.7v3.7h-3.7zM340.9 43.4h3.7v3.7h-3.7zM342.7 42.5h3.7v3.7h-3.7zM344.4 39.8h3.7v3.7h-3.7zM346.1 40.0h3.7v3.7h-3.7zM347.8 40.8h3.7v3.7h-3.7zM349.6 40.9h3.7v3.7h-3.7zM351.3 41.5h3.7v3.7h-3.7zM353.0 39.6h3.7v3.7h-3.7zM354.7 38.9h3.7v3.7h-3.7zM356.5 38.6h3.7v3.7h-3.7zM358.2 38.3h3.7v3.7h-3.7zM359.9 39.0h3.7v3.7h-3.7zM361.6 37.8h3.7v3.7h-3.7zM363.4 37.6h3.7v3.7h-3.7zM365.1 36.1h3.7v3.7h-3.7zM366.8 35.4h3.7v3.7h-3.7zM368.6 37.0h3.7v3.7h-3.7zM370.3 37.4h3.7v3.7h-3.7zM372.0 36.7h3.7v3.7h-3.7zM373.7 37.2h3.7v3.7h-3.7zM375.5 37.3h3.7v3.7h-3.7zM377.2 36.8h3.7v3.7h-3.7zM378.9 37.6h3.7v3.7h-3.7zM380.6 36.4h3.7v3.7h-3.7zM382.4 37.0h3.7v3.7h-3.7zM384.1 36.9h3.7v3.7h-3.7zM385.8 37.3h3.7v3.7h-3.7zM387.5 37.8h3.7v3.7h-3.7zM389.3 38.1h3.7v3.7h-3.7zM391.0 37.7h3.7v3.7h-3.7zM392.7 38.1h3.7v3.7h-3.7zM394.4 37.7h3.7v3.7h-3.7zM396.2 38.1h3.7v3.7h-3.7zM397.9 39.3h3.7v3.7h-3.7zM399.6 38.6h3.7v3.7h-3.7zM401.4 39.9h3.7v3.7h-3.7zM403.1 39.7h3.7v3.7h-3.7zM404.8 39.9h3.7v3.7h-3.7zM406.5 41.4h3.7v3.7h-3.7zM408.3 40.4h3.7v3.7h-3.7zM410.0 40.7h3.7v3.7h-3.7zM411.7 41.2h3.7v3.7h-3.7zM413.4 41.8h3.7v3.7h-3.7zM415.2 42.1h3.7v3.7h-3.7zM416.9 42.8h3.7v3.7h-3.7zM418.6 42.8h3.7v3.7h-3.7zM420.3 43.3h3.7v3.7h-3.7zM422.1 43.4h3.7v3.7h-3.7zM423.8 44.5h3.7v3.7h-3.7zM425.5 44.1h3.7v3.7h-3.7zM427.3 44.6h3.7v3.7h-3.7zM429.0 45.1h3.7v3.7h-3.7zM430.7 45.7h3.7v3.7h-3.7zM432.4 45.7h3.7v3.7h-3.7zM434.2 47.3h3.7v3.7h-3.7zM435.9 46.6h3.7v3.7h-3.7zM437.6 47.2h3.7v3.7h-3.7z"/>
<path fill="#ee0000" d="M278.6 -1.7a2.0 2.0 0 1 0 4.0 0a2.0 2.0 0 1 0 -4.0 0zM280.3 3.0a2.0 2.0 0 1 0 4.0 0a2.0 2.0 0 1 0 -4.0 0zM282.1 9.4a2.0 2.0 0 1 0 4.0 0a2.0 2.0 0 1 0 -4.0 0zM283.8 14.0a2.0 2.0 0 1 0 4.0 0a2.0 2.0 0 1 0 -4.0 0zM285.5 17.9a2.0 2.0 0 1 0 4.0 0a2.0 2.0 0 1 0 -4.0 0zM287.3 22.8a2.0 2.0 0 1 0 4.0 0a2.0 2.0 0 1 0 -4.0 0zM289.0 27.3a2.0 2.0 0 1 0 4.0 0a2.0 2.0 0 1 0 -4.0 0zM290.7 33.3a2.0 2.0 0 1 0 4.0 0a2.0 2.0 0 1 0 -4.0 0zM292.4 34.4a2.0 2.0 0 1 0 4.0 0a2.0 2.0 0 1 0 -4.0 0zM294.2 37.3a2.0 2.0 0 1 0 4.0 0a2.0 2.0 0 1 0 -4.0 0zM295.9 41.3a2.0 2.0 0 1 0 4.0 0a2.0 2.0 0 1 0 -4.0 0zM297.6 45.3a2.0 2.0 0 1 0 4.0 0a2.0 2.0 0 1 0 -4.0 0zM299.3 49.6a2.0 2.0 0 1 0 4.0 0a2.0 2.0 0 1 0 -4.0 0zM301.1 48.2a2.0 2.0 0 1 0 4.0 0a2.0 2.0 0 1 0 -4.0 0zM302.8 50.9a2.0 2.0 0 1 0 4.0 0a2.0 2.0 0 1 0 -4.0 0zM304.5 54.8a2.0 2.0 0 1 0 4.0 0a2.0 2.0 0 1 0 -4.0 0zM306.2 52.1a2.0 2.0 0 1 0 4.0 0a2.0 2.0 0 1 0 -4.0 0zM308.0 54.9a2.0 2.0 0 1 0 4.0 0a2.0 2.0 0 1 0 -4.0 0zM309.7 55.1a2.0 2.0 0 1 0 4.0 0a2.0 2.0 0 1 0 -4.0 0zM311.4 54.8a2.0 2.0 0 1 0 4.0 0a2.0 2.0 0 1 0 -4.0 0zM313.2 53.0a2.0 2.0 0 1 0 4.0 0a2.0 2.0 0 1 0 -4.0 0zM314.9 55.2a2.0 2.0 0 1 0 4.0 0a2.0 2.0 0 1 0 -4.0 0zM316.6 54.7a2.0 2.0 0 1 0 4.0 0a2.0 2.0 0 1 0 -4.0 0zM318.3 53.3a2.0 2.0 0 1 0 4.0 0a2.0 2.0 0 1 0 -4.0 0zM320.1 53.7a2.0 2.0 0 1 0 4.0 0a2.0 2.0 0 1 0 -4.0 0zM321.8 55.8a2.0 2.0 0 1 0 4.0 0a2.0 2.0 0 1 0 -4.0 0zM323.5 56.2a2.0 2.0 0 1 0 4.0 0a2.0 2.0 0 1 0 -4.0 0zM325.2 57.5a2.0 2.0 0 1 0 4.0 0a2.0 2.0 0 1 0 -4.0 0zM327.0 57.0a2.0 2.0 0 1 0 4.0 0a2.0 2.0 0 1 0 -4.0 0zM328.7 56.0a2.0 2.0 0 1 0 4.0 0a2.0 2.0 0 1 0 -4.0 0zM330.4 56.1a2.0 2.0 0 1 0 4.0 0a2.0 2.0 0 1 0 -4.0 0zM332.1 56.5a2.0 2.0 0 1 0 4.0 0a2.0 2.0 0 1 0 -4.0 0zM333.9 55.6a2.0 2.0 0 1 0 4.0 0a2.0 2.0 0 1 0 -4.0 0zM335.6 57.5a2.0 2.0 0 1 0 4.0 0a2.0 2.0 0 1 0 -4.0 0zM337.3 56.7a2.0 2.0 0 1 0 4.0 0a2.0 2.0 0 1 0 -4.0 0zM339.0 55.7a2.0 2.0 0 1 0 4.0 0a2.0 2.0 0 1 0 -4.0 0zM340.8 55.6a2.0 2.0 0 1 0 4.0 0a2.0 2.0 0 1 0 -4.0 0zM342.5 54.9a2.0 2.0 0 1 0 4.0 0a2.0 2.0 0 1 0 -4.0 0zM344.2 55.2a2.0 2.0 0 1 0 4.0 0a2.0 2.0 0 1 0 -4.0 0zM346.0 55.5a2.0 2.0 0 1 0 4.0 0a2.0 2.0 0 1 0 -4.0 0zM347.7 54.4a2.0 2.0 0 1 0 4.0 0a2.0 2.0 0 1 0 -4.0 0zM349.4 55.3a2.0 2.0 0 1 0 4.0 0a2.0 2.0 0 1 0 -4.0 0zM351.1 55.4a2.0 2.0 0 1 0 4.0 0a2.0 2.0 0 1 0 -4.0 0zM352.9 52.8a2.0 2.0 0 1 0 4.0 0a2.0 2.0 0 1 0 -4.0 0zM354.6 53.0a2.0 2.0 0 1 0 4.0 0a2.0 2.0 0 1 0 -4.0 0zM356.3 52.2a2.0 2.0 0 1 0 4.0 0a2.0 2.0 0 1 0 -4.0 0zM358.0 53.6a2.0 2.0 0 1 0 4.0 0a2.0 2.0 0 1 0 -4.0 0zM359.8 52.0a2.0 2.0 0 1 0 4.0 0a2.0 2.0 0 1 0 -4.0 0zM361.5 51.8a2.0 2.0 0 1 0 4.0 0a2.0 2.0 0 1 0 -4.0 0zM363.2 51.7a2.0 2.0 0 1 0 4.0 0a2.0 2.0 0 1 0 -4.0 0zM364.9 52.4a2.0 2.0 0 1 0 4.0 0a2.0 2.0 0 1 0 -4.0 0zM366.7 50.3a2.0 2.0 0 1 0 4.0 0a2.0 2.0 0 1 0 -4.0 0zM368.4 48.9a2.0 2.0 0 1 0 4.0 0a2.0 2.0 0 1 0 -4.0 0zM370.1 49.0a2.0 2.0 0 1 0 4.0 0a2.0 2.0 0 1 0 -4.0 0zM371.9 49.7a2.0 2.0 0 1 0 4.0 0a2.0 2.0 0 1 0 -4.0 0zM373.6 49.1a2.0 2.0 0 1 0 4.0 0a2.0 2.0 0 1 0 -4.0 0zM375.3 48.4a2.0 2.0 0 1 0 4.0 0a2.0 2.0 0 1 0 -4.0 0zM377.0 51.2a2.0 2.0 0 1 0 4.0 0a2.0 2.0 0 1 0 -4.0 0zM378.8 49.0a2.0 2.0 0 1 0 4.0 0a2.0 2.0 0 1 0 -4.0 0zM380.5 48.4a2.0 2.0 0 1 0 4.0 0a2.0 2.0 0 1 0 -4.0 0zM382.2 48.3a2.0 2.0 0 1 0 4.0 0a2.0 2.0 0 1 0 -4.0 0zM383.9 47.5a2.0 2.0 0 1 0 4.0 0a2.0 2.0 0 1 0 -4.0 0zM385.7 47.9a2.0 2.0 0 1 0 4.0 0a2.0 2.0 0 1 0 -4.0 0zM387.4 48.5a2.0 2.0 0 1 0 4.0 0a2.0 2.0 0 1 0 -4.0 0zM389.1 48.5a2.0 2.0 0 1 0 4.0 0a2.0 2.0 0 1 0 -4.0 0zM390.8 48.2a2.0 2.0 0 1 0 4.0 0a2.0 2.0 0 1 0 -4.0 0zM392.6 49.2a2.0 2.0 0 1 0 4.0 0a2.0 2.0 0 1 0 -4.0 0zM394.3 48.9a2.0 2.0 0 1 0 4.0 0a2.0 2.0 0 1 0 -4.0 0zM396.0 48.4a2.0 2.0 0 1 0 4.0 0a2.0 2.0 0 1 0 -4.0 0zM397.8 47.9a2.0 2.0 0 1 0 4.0 0a2.0 2.0 0 1 0 -4.0 0zM399.5 49.7a2.0 2.0 0 1 0 4.0 0a2.0 2.0 0 1 0 -4.0 0zM401.2 49.9a2.0 2.0 0 1 0 4.0 0a2.0 2.0 0 1 0 -4.0 0zM402.9 50.1a2.0 2.0 0 1 0 4.0 0a2.0 2.0 0 1 0 -4.0 0zM404.7 49.7a2.0 2.0 0 1 0 4.0 0a2.0 2.0 0 1 0 -4.0 0zM406.4 51.0a2.0 2.0 0 1 0 4.0 0a2.0 2.0 0 1 0 -4.0 0zM408.1 50.4a2.0 2.0 0 1 0 4.0 0a2.0 2.0 0 1 0 -4.0 0zM409.8 52.4a2.0 2.0 0 1 0 4.0 0a2.0 2.0 0 1 0 -4.0 0zM411.6 52.2a2.0 2.0 0 1 0 4.0 0a2.0 2.0 0 1 0 -4.0 0zM413.3 52.5a2.0 2.0 0 1 0 4.0 0a2.0 2.0 0 1 0 -4.0 0zM415.0 52.2a2.0 2.0 0 1 0 4.0 0a2.0 2.0 0 1 0 -4.0 0zM416.7 52.4a2.0 2.0 0 1 0 4.0 0a2.0 2.0 0 1 0 -4.0 0zM418.5 54.2a2.0 2.0 0 1 0 4.0 0a2.0 2.0 0 1 0 -4.0 0zM420.2 54.2a2.0 2.0 0 1 0 4.0 0a2.0 2.0 0 1 0 -4.0 0zM421.9 53.8a2.0 2.0 0 1 0 4.0 0a2.0 2.0 0 1 0 -4.0 0zM423.7 54.7a2.0 2.0 0 1 0 4.0 0a2.0 2.0 0 1 0 -4.0 0zM425.4 55.5a2.0 2.0 0 1 0 4.0 0a2.0 2.0 0 1 0 -4.0 0zM427.1 54.3a2.0 2.0 0 1 0 4.0 0a2.0 2.0 0 1 0 -4.0 0zM428.8 55.0a2.0 2.0 0 1 0 4.0 0a2.0 2.0 0 1 0 -4.0 0zM430.6 55.3a2.0 2.0 0 1 0 4.0 0a2.0 2.0 0 1 0 -4.0 0zM432.3 56.2a2.0 2.0 0 1 0 4.0 0a2.0 2.0 0 1 0 -4.0 0zM434.0 55.7a2.0 2.0 0 1 0 4.0 0a2.0 2.0 0 1 0 -4.0 0zM435.7 56.7a2.0 2.0 0 1 0 4.0 0a2.0 2.0 0 1 0 -4.0 0zM437.5 56.4a2.0 2.0 0 1 0 4.0 0a2.0 2.0 0 1 0 -4.0 0z"/>
<path fill="#0000ee" d="M280.6 -1.4l2.5 4.4h-5.0zM282.3 4.0l2.5 4.4h-5.0zM284.1 8.1l2.5 4.4h-5.0zM285.8 15.0l2.5 4.4h-5.0zM287.5 18.6l2.5 4.4h-5.0zM289.3 24.1l2.5 4.4h-5.0zM291.0 30.0l2.5 4.4h-5.0zM292.7 32.5l2.5 4.4h-5.0zM294.4 36.7l2.5 4.4h-5.0zM296.2 38.9l2.5 4.4h-5.0zM297.9 44.6l2.5 4.4h-5.0zM299.6 47.3l2.5 4.4h-5.0zM301.3 47.4l2.5 4.4h-5.0zM303.1 48.0l2.5 4.4h-5.0zM304.8 49.7l2.5 4.4h-5.0zM306.5 53.0l2.5 4.4h-5.0zM308.2 53.4l2.5 4.4h-5.0zM310.0 52.2l2.5 4.4h-5.0zM311.7 54.5l2.5 4.4h-5.0zM313.4 55.8l2.5 4.4h-5.0zM315.2 54.8l2.5 4.4h-5.0zM316.9 54.5l2.5 4.4h-5.0zM318.6 56.1l2.5 4.4h-5.0zM320.3 57.0l2.5 4.4h-5.0zM322.1 56.8l2.5 4.4h-5.0zM323.8 54.4l2.5 4.4h-5.0zM325.5 56.0l2.5 4.4h-5.0zM327.2 55.3l2.5 4.4h-5.0zM329.0 54.9l2.5 4.4h-5.0zM330.7 54.5l2.5 4.4h-5.0zM332.4 55.5l2.5 4.4h-5.0zM334.1 54.7l2.5 4.4h-5.0zM335.9 56.1l2.5 4.4h-5.0zM337.6 55.5l2.5 4.4h-5.0zM339.3 56.2l2.5 4.4h-5.0zM341.0 53.9l2.5 4.4h-5.0zM342.8 54.9l2.5 4.4h-5.0zM344.5 55.4l2.5 4.4h-5.0zM346.2 54.8l2.5 4.4h-5.0zM348.0 54.4l2.5 4.4h-5.0zM349.7 53.2l2.5 4.4h-5.0zM351.4 55.1l2.5 4.4h-5.0zM353.1 54.3l2.5 4.4h-5.0zM354.9 53.3l2.5 4.4h-5.0zM356.6 50.3l2.5 4.4h-5.0zM358.3 51.4l2.5 4.4h-5.0zM360.0 52.1l2.5 4.4h-5.0zM361.8 51.1l2.5 4.4h-5.0zM363.5 49.6l2.5 4.4h-5.0zM365.2 51.3l2.5 4.4h-5.0zM366.9 51.1l2.5 4.4h-5.0zM368.7 49.3l2.5 4.4h-5.0zM370.4 49.6l2.5 4.4h-5.0zM372.1 49.2l2.5 4.4h-5.0zM373.9 50.0l2.5 4.4h-5.0zM375.6 47.8l2.5 4.4h-5.0zM377.3 47.9l2.5 4.4h-5.0zM379.0 48.7l2.5 4.4h-5.0zM380.8 48.5l2.5 4.4h-5.0zM382.5 50.6l2.5 4.4h-5.0zM384.2 48.3l2.5 4.4h-5.0zM385.9 48.9l2.5 4.4h-5.0zM387.7 48.4l2.5 4.4h-5.0zM389.4 48.1l2.5 4.4h-5.0zM391.1 48.9l2.5 4.4h-5.0zM392.8 49.8l2.5 4.4h-5.0zM394.6 48.3l2.5 4.4h-5.0zM396.3 49.2l2.5 4.4h-5.0zM398.0 49.1l2.5 4.4h-5.0zM399.8 49.6l2.5 4.4h-5.0zM401.5 49.7l2.5 4.4h-5.0zM403.2 51.4l2.5 4.4h-5.0zM404.9 49.4l2.5 4.4h-5.0zM406.7 50.5l2.5 4.4h-5.0zM408.4 50.3l2.5 4.4h-5.0zM410.1 50.1l2.5 4.4h-5.0zM411.8 51.8l2.5 4.4h-5.0zM413.6 53.3l2.5 4.4h-5.0zM415.3 53.0l2.5 4.4h-5.0zM417.0 53.4l2.5 4.4h-5.0zM418.7 53.3l2.5 4.4h-5.0zM420.5 53.2l2.5 4.4h-5.0zM422.2 54.8l2.5 4.4h-5.0zM423.9 53.7l2.5 4.4h-5.0zM425.7 55.0l2.5 4.4h-5.0zM427.4 54.3l2.5 4.4h-5.0zM429.1 54.8l2.5 4.4h-5.0zM430.8 55.2l2.5 4.4h-5.0zM432.6 55.3l2.5 4.4h-5.0zM434.3 55.8l2.5 4.4h-5.0zM436.0 56.1l2.5 4.4h-5.0zM437.7 56.9l2.5 4.4h-5.0zM439.5 56.4l2.5 4.4h-5.0z"/>
<path fill="#ff00ff" d="M280.6 21.1l2.5 -4.4h-5.0zM282.3 28.1l2.5 -4.4h-5.0zM284.1 35.2l2.5 -4.4h-5.0zM285.8 41.3l2.5 -4.4h-5.0zM287.5 47.8l2.5 -4.4h-5.0zM289.3 49.0l2.5 -4.4h-5.0zM291.0 54.5l2.5 -4.4h-5.0zM292.7 57.6l2.5 -4.4h-5.0zM294.4 60.5l2.5 -4.4h-5.0zM296.2 62.3l2.5 -4.4h-5.0zM297.9 64.9l2.5 -4.4h-5.0zM299.6 65.8l2.5 -4.4h-5.0zM301.3 67.9l2.5 -4.4h-5.0zM303.1 67.7l2.5 -4.4h-5.0zM304.8 65.0l2.5 -4.4h-5.0zM306.5 68.3l2.5 -4.4h-5.0zM308.2 68.9l2.5 -4.4h-5.0zM310.0 68.4l2.5 -4.4h-5.0zM311.7 68.7l2.5 -4.4h-5.0zM313.4 71.2l2.5 -4.4h-5.0zM315.2 70.5l2.5 -4.4h-5.0zM316.9 69.5l2.5 -4.4h-5.0zM318.6 70.5l2.5 -4.4h-5.0zM320.3 70.8l2.5 -4.4h-5.0zM322.1 69.3l2.5 -4.4h-5.0zM323.8 71.9l2.5 -4.4h-5.0zM325.5 71.2l2.5 -4.4h-5.0zM327.2 71.9l2.5 -4.4h-5.0zM329.0 69.8l2.5 -4.4h-5.0zM330.7 73.6l2.5 -4.4h-5.0zM332.4 72.2l2.5 -4.4h-5.0zM334.1 72.1l2.5 -4.4h-5.0zM335.9 70.9l2.5 -4.4h-5.0zM337.6 71.0l2.5 -4.4h-5.0zM339.3 70.1l2.5 -4.4h-5.0zM341.0 73.0l2.5 -4.4h-5.0zM342.8 70.5l2.5 -4.4h-5.0zM344.5 71.4l2.5 -4.4h-5.0zM346.2 71.5l2.5 -4.4h-5.0zM348.0 70.0l2.5 -4.4h-5.0zM349.7 71.2l2.5 -4.4h-5.0zM351.4 72.0l2.5 -4.4h-5.0zM353.1 70.1l2.5 -4.4h-5.0zM354.9 70.8l2.5 -4.4h-5.0zM356.6 69.7l2.5 -4.4h-5.0zM358.3 68.5l2.5 -4.4h-5.0zM360.0 68.3l2.5 -4.4h-5.0zM361.8 67.0l2.5 -4.4h-5.0zM363.5 68.4l2.5 -4.4h-5.0zM365.2 69.4l2.5 -4.4h-5.0zM366.9 68.6l2.5 -4.4h-5.0zM368.7 68.6l2.5 -4.4h-5.0zM370.4 68.7l2.5 -4.4h-5.0zM372.1 67.1l2.5 -4.4h-5.0zM373.9 67.9l2.5 -4.4h-5.0zM375.6 68.9l2.5 -4.4h-5.0zM377.3 66.6l2.5 -4.4h-5.0zM379.0 67.2l2.5 -4.4h-5.0zM380.8 66.7l2.5 -4.4h-5.0zM382.5 66.8l2.5 -4.4h-5.0zM384.2 66.3l2.5 -4.4h-5.0zM385.9 66.7l2.5 -4.4h-5.0zM387.7 65.7l2.5 -4.4h-5.0zM389.4 66.3l2.5 -4.4h-5.0zM391.1 66.3l2.5 -4.4h-5.0zM392.8 66.3l2.5 -4.4h-5.0zM394.6 67.7l2.5 -4.4h-5.0zM396.3 66.8l2.5 -4.4h-5.0zM398.0 66.9l2.5 -4.4h-5.0zM399.8 66.7l2.5 -4.4h-5.0zM401.5 68.0l2.5 -4.4h-5.0zM403.2 66.1l2.5 -4.4h-5.0zM404.9 67.4l2.5 -4.4h-5.0zM406.7 68.5l2.5 -4.4h-5.0zM408.4 69.0l2.5 -4.4h-5.0zM410.1 68.3l2.5 -4.4h-5.0zM411.8 68.4l2.5 -4.4h-5.0zM413.6 69.0l2.5 -4.4h-5.0zM415.3 68.6l2.5 -4.4h-5.0zM417.0 69.3l2.5 -4.4h-5.0zM418.7 68.8l2.5 -4.4h-5.0zM420.5 69.7l2.5 -4.4h-5.0zM422.2 69.5l2.5 -4.4h-5.0zM423.9 69.2l2.5 -4.4h-5.0zM425.7 68.5l2.5 -4.4h-5.0zM427.4 70.7l2.5 -4.4h-5.0zM429.1 70.6l2.5 -4.4h-5.0zM430.8 71.1l2.5 -4.4h-5.0zM432.6 70.4l2.5 -4.4h-5.0zM434.3 71.7l2.5 -4.4h-5.0zM436.0 71.6l2.5 -4.4h-5.0zM437.7 71.6l2.5 -4.4h-5.0zM439.5 72.3l2.5 -4.4h-5.0z"/>
<path fill="#0a850a" d="M280.6 30.8l2.6 2.6l-2.6 2.6l-2.6 -2.6zM282.3 36.6l2.6 2.6l-2.6 2.6l-2.6 -2.6zM284.1 44.6l2.6 2.6l-2.6 2.6l-2.6 -2.6zM285.8 49.0l2.6 2.6l-2.6 2.6l-2.6 -2.6zM287.5 52.2l2.6 2.6l-2.6 2.6l-2.6 -2.6zM289.3 55.6l2.6 2.6l-2.6 2.6l-2.6 -2.6zM291.0 59.6l2.6 2.6l-2.6 2.6l-2.6 -2.6zM292.7 64.8l2.6 2.6l-2.6 2.6l-2.6 -2.6zM294.4 65.7l2.6 2.6l-2.6 2.6l-2.6 -2.6zM296.2 65.9l2.6 2.6l-2.6 2.6l-2.6 -2.6zM297.9 67.5l2.6 2.6l-2.6 2.6l-2.6 -2.6zM299.6 69.5l2.6 2.6l-2.6 2.6l-2.6 -2.6zM301.3 71.5l2.6 2.6l-2.6 2.6l-2.6 -2.6zM303.1 70.6l2.6 2.6l-2.6 2.6l-2.6 -2.6zM304.8 73.0l2.6 2.6l-2.6 2.6l-2.6 -2.6zM306.5 74.3l2.6 2.6l-2.6 2.6l-2.6 -2.6zM308.2 74.3l2.6 2.6l-2.6 2.6l-2.6 -2.6zM310.0 72.1l2.6 2.6l-2.6 2.6l-2.6 -2.6zM311.7 73.9l2.6 2.6l-2.6 2.6l-2.6 -2.6zM313.4 73.1l2.6 2.6l-2.6 2.6l-2.6 -2.6zM315.2 75.2l2.6 2.6l-2.6 2.6l-2.6 -2.6zM316.9 73.8l2.6 2.6l-2.6 2.6l-2.6 -2.6zM318.6 75.6l2.6 2.6l-2.6 2.6l-2.6 -2.6zM320.3 75.2l2.6 2.6l-2.6 2.6l-2.6 -2.6zM322.1 72.2l2.6 2.6l-2.6 2.6l-2.6 -2.6zM323.8 74.1l2.6 2.6l-2.6 2.6l-2.6 -2.6zM325.5 75.5l2.6 2.6l-2.6 2.6l-2.6 -2.6zM327.2 75.0l2.6 2.6l-2.6 2.6l-2.6 -2.6zM329.0 74.5l2.6 2.6l-2.6 2.6l-2.6 -2.6zM330.7 73.5l2.6 2.6l-2.6 2.6l-2.6 -2.6zM332.4 75.2l2.6 2.6l-2.6 2.6l-2.6 -2.6zM334.1 76.5l2.6 2.6l-2.6 2.6l-2.6 -2.6zM335.9 74.8l2.6 2.6l-2.6 2.6l-2.6 -2.6zM337.6 74.4l2.6 2.6l-2.6 2.6l-2.6 -2.6zM339.3 74.2l2.6 2.6l-2.6 2.6l-2.6 -2.6zM341.0 72.8l2.6 2.6l-2.6 2.6l-2.6 -2.6zM342.8 73.7l2.6 2.6l-2.6 2.6l-2.6 -2.6zM344.5 72.9l2.6 2.6l-2.6 2.6l-2.6 -2.6zM346.2 74.6l2.6 2.6l-2.6 2.6l-2.6 -2.6zM348.0 72.4l2.6 2.6l-2.6 2.6l-2.6 -2.6zM349.7 70.9l2.6 2.6l-2.6 2.6l-2.6 -2.6zM351.4 71.9l2.6 2.6l-2.6 2.6l-2.6 -2.6zM353.1 72.1l2.6 2.6l-2.6 2.6l-2.6 -2.6zM354.9 71.8l2.6 2.6l-2.6 2.6l-2.6 -2.6zM356.6 70.0l2.6 2.6l-2.6 2.6l-2.6 -2.6zM358.3 72.2l2.6 2.6l-2.6 2.6l-2.6 -2.6zM360.0 71.1l2.6 2.6l-2.6 2.6l-2.6 -2.6zM361.8 70.3l2.6 2.6l-2.6 2.6l-2.6 -2.6zM363.5 69.8l2.6 2.6l-2.6 2.6l-2.6 -2.6zM365.2 70.5l2.6 2.6l-2.6 2.6l-2.6 -2.6zM366.9 69.5l2.6 2.6l-2.6 2.6l-2.6 -2.6zM368.7 69.7l2.6 2.6l-2.6 2.6l-2.6 -2.6zM370.4 69.1l2.6 2.6l-2.6 2.6l-2.6 -2.6zM372.1 69.0l2.6 2.6l-2.6 2.6l-2.6 -2.6zM373.9 69.6l2.6 2.6l-2.6 2.6l-2.6 -2.6zM375.6 68.5l2.6 2.6l-2.6 2.6l-2.6 -2.6zM377.3 67.6l2.6 2.6l-2.6 2.6l-2.6 -2.6zM379.0 68.9l2.6 2.6l-2.6 2.6l-2.6 -2.6zM380.8 68.2l2.6 2.6l-2.6 2.6l-2.6 -2.6zM382.5 67.3l2.6 2.6l-2.6 2.6l-2.6 -2.6zM384.2 68.5l2.6 2.6l-2.6 2.6l-2.6 -2.6zM385.9 67.4l2.6 2.6l-2.6 2.6l-2.6 -2.6zM387.7 68.3l2.6 2.6l-2.6 2.6l-2.6 -2.6zM389.4 66.5l2.6 2.6l-2.6 2.6l-2.6 -2.6zM391.1 65.5l2.6 2.6l-2.6 2.6l-2.6 -2.6zM392.8 65.7l2.6 2.6l-2.6 2.6l-2.6 -2.6zM394.6 67.4l2.6 2.6l-2.6 2.6l-2.6 -2.6zM396.3 66.8l2.6 2.6l-2.6 2.6l-2.6 -2.6zM398.0 67.3l2.6 2.6l-2.6 2.6l-2.6 -2.6zM399.8 67.5l2.6 2.6l-2.6 2.6l-2.6 -2.6zM401.5 66.6l2.6 2.6l-2.6 2.6l-2.6 -2.6zM403.2 68.8l2.6 2.6l-2.6 2.6l-2.6 -2.6zM404.9 67.4l2.6 2.6l-2.6 2.6l-2.6 -2.6zM406.7 68.4l2.6 2.6l-2.6 2.6l-2.6 -2.6zM408.4 67.6l2.6 2.6l-2.6 2.6l-2.6 -2.6zM410.1 68.7l2.6 2.6l-2.6 2.6l-2.6 -2.6zM411.8 69.5l2.6 2.6l-2.6 2.6l-2.6 -2.6zM413.6 69.0l2.6 2.6l-2.6 2.6l-2.6 -2.6zM415.3 69.0l2.6 2.6l-2.6 2.6l-2.6 -2.6zM417.0 69.6l2.6 2.6l-2.6 2.6l-2.6 -2.6zM418.7 69.5l2.6 2.6l-2.6 2.6l-2.6 -2.6zM420.5 70.3l2.6 2.6l-2.6 2.6l-2.6 -2.6zM422.2 71.5l2.6 2.6l-2.6 2.6l-2.6 -2.6zM423.9 69.9l2.6 2.6l-2.6 2.6l-2.6 -2.6zM425.7 70.2l2.6 2.6l-2.6 2.6l-2.6 -2.6zM427.4 70.8l2.6 2.6l-2.6 2.6l-2.6 -2.6zM429.1 71.0l2.6 2.6l-2.6 2.6l-2.6 -2.6zM430.8 70.7l2.6 2.6l-2.6 2.6l-2.6 -2.6zM432.6 71.8l2.6 2.6l-2.6 2.6l-2.6 -2.6zM434.3 72.1l2.6 2.6l-2.6 2.6l-2.6 -2.6zM436.0 72.1l2.6 2.6l-2.6 2.6l-2.6 -2.6zM437.7 71.6l2.6 2.6l-2.6 2.6l-2.6 -2.6zM439.5 73.2l2.6 2.6l-2.6 2.6l-2.6 -2.6z"/>
<polyline fill="none" stroke="#000000" stroke-width="1.2" points="280.6,-5.3 282.6,-0.9 284.6,3.6 286.7,8.0 288.7,12.4 290.7,16.6 292.7,20.5 294.7,24.5 296.7,28.7 298.7,32.8 300.7,36.0 302.7,38.5 304.8,40.6 306.8,42.0 308.8,42.8 310.8,43.4 312.8,43.9 314.8,44.3 316.8,44.6 318.8,44.8 320.9,44.8 322.9,44.8 324.9,44.7 326.9,44.7 328.9,44.6 330.9,44.6 332.9,44.5 334.9,44.4 336.9,44.3 339.0,44.2 341.0,44.0 343.0,43.7 345.0,43.3 347.0,42.9 349.0,42.5 351.0,42.0 353.0,41.5 355.1,41.1 357.1,40.7 359.1,40.3 361.1,39.9 363.1,39.7 365.1,39.4 367.1,39.1 369.1,38.9 371.1,38.7 373.2,38.5 375.2,38.5 377.2,38.5 379.2,38.6 381.2,38.7 383.2,38.7 385.2,38.9 387.2,39.0 389.3,39.1 391.3,39.3 393.3,39.4 395.3,39.6 397.3,39.8 399.3,40.1 401.3,40.5 403.3,40.9 405.3,41.3 407.4,41.7 409.4,42.1 411.4,42.5 413.4,43.0 415.4,43.4 417.4,43.8 419.4,44.2 421.4,44.7 423.4,45.1 425.5,45.6 427.5,46.1 429.5,46.6 431.5,47.1 433.5,47.6 435.5,48.1 437.5,48.7 439.5,49.2"/>
<polyline fill="none" stroke="#dd0000" stroke-width="1.2" points="280.6,-1.3 282.6,4.4 284.6,10.2 286.7,16.2 288.7,21.8 290.7,26.9 292.7,31.4 294.7,35.6 296.7,40.1 298.7,44.2 300.7,47.0 302.7,49.1 304.8,50.7 306.8,51.9 308.8,52.7 310.8,53.4 312.8,53.9 314.8,54.4 316.8,54.7 318.8,55.0 320.9,55.3 322.9,55.6 324.9,55.8 326.9,56.1 328.9,56.3 330.9,56.4 332.9,56.6 334.9,56.7 336.9,56.7 339.0,56.6 341.0,56.5 343.0,56.2 345.0,55.8 347.0,55.4 349.0,54.9 351.0,54.4 353.0,53.9 355.1,53.3 357.1,52.8 359.1,52.3 361.1,51.8 363.1,51.4 365.1,50.9 367.1,50.4 369.1,49.9 371.1,49.5 373.2,49.2 375.2,49.1 377.2,49.0 379.2,49.0 381.2,48.9 383.2,48.9 385.2,48.8 387.2,48.8 389.3,48.8 391.3,48.8 393.3,48.7 395.3,48.8 397.3,48.9 399.3,49.2 401.3,49.5 403.3,49.9 405.3,50.3 407.4,50.8 409.4,51.2 411.4,51.7 413.4,52.0 415.4,52.4 417.4,52.8 419.4,53.1 421.4,53.5 423.4,53.9 425.5,54.2 427.5,54.6 429.5,55.0 431.5,55.4 433.5,55.8 435.5,56.1 437.5,56.5 439.5,56.9"/>
<polyline fill="none" stroke="#0000cc" stroke-width="1.2" points="280.6,-0.1 282.6,6.2 284.6,12.8 286.7,19.3 288.7,25.3 290.7,30.6 292.7,35.1 294.7,39.3 296.7,43.8 298.7,47.9 300.7,50.7 302.7,52.9 304.8,54.6 306.8,55.7 308.8,56.3 310.8,56.7 312.8,57.1 314.8,57.4 316.8,57.6 318.8,57.7 320.9,57.7 322.9,57.7 324.9,57.7 326.9,57.7 328.9,57.7 330.9,57.7 332.9,57.7 334.9,57.7 336.9,57.7 339.0,57.6 341.0,57.5 343.0,57.4 345.0,57.1 347.0,56.8 349.0,56.5 351.0,56.2 353.0,55.8 355.1,55.4 357.1,55.1 359.1,54.7 361.1,54.4 363.1,54.0 365.1,53.6 367.1,53.2 369.1,52.8 371.1,52.4 373.2,52.2 375.2,52.0 377.2,51.8 379.2,51.7 381.2,51.5 383.2,51.4 385.2,51.3 387.2,51.2 389.3,51.1 391.3,51.1 393.3,51.1 395.3,51.1 397.3,51.3 399.3,51.6 401.3,51.9 403.3,52.4 405.3,52.8 407.4,53.3 409.4,53.8 411.4,54.2 413.4,54.6 415.4,54.9 417.4,55.3 419.4,55.6 421.4,55.9 423.4,56.3 425.5,56.6 427.5,56.9 429.5,57.3 431.5,57.6 433.5,57.9 435.5,58.2 437.5,58.5 439.5,58.9"/>
<polyline fill="none" stroke="#ee00ee" stroke-width="1.2" points="280.6,21.1 282.6,29.3 284.6,36.3 286.7,42.1 288.7,47.1 290.7,51.3 292.7,55.0 294.7,58.0 296.7,60.6 298.7,62.6 300.7,63.8 302.7,64.6 304.8,65.2 306.8,65.8 308.8,66.3 310.8,66.8 312.8,67.3 314.8,67.7 316.8,68.0 318.8,68.3 320.9,68.5 322.9,68.6 324.9,68.7 326.9,68.8 328.9,68.9 330.9,69.0 332.9,69.0 334.9,69.1 336.9,69.1 339.0,69.1 341.0,68.9 343.0,68.8 345.0,68.5 347.0,68.2 349.0,67.9 351.0,67.6 353.0,67.2 355.1,66.9 357.1,66.6 359.1,66.3 361.1,66.0 363.1,65.8 365.1,65.6 367.1,65.4 369.1,65.2 371.1,65.0 373.2,64.9 375.2,64.8 377.2,64.7 379.2,64.6 381.2,64.5 383.2,64.4 385.2,64.3 387.2,64.2 389.3,64.1 391.3,64.1 393.3,64.1 395.3,64.1 397.3,64.2 399.3,64.3 401.3,64.5 403.3,64.7 405.3,65.0 407.4,65.2 409.4,65.5 411.4,65.8 413.4,66.0 415.4,66.2 417.4,66.4 419.4,66.7 421.4,66.9 423.4,67.2 425.5,67.4 427.5,67.7 429.5,67.9 431.5,68.2 433.5,68.5 435.5,68.8 437.5,69.0 439.5,69.3"/>
<polyline fill="none" stroke="#008000" stroke-width="1.2" points="280.6,32.1 282.6,39.6 284.6,46.3 286.7,52.0 288.7,57.1 290.7,61.4 292.7,65.1 294.7,68.0 296.7,70.0 298.7,71.4 300.7,72.6 302.7,73.8 304.8,74.9 306.8,75.6 308.8,76.1 310.8,76.5 312.8,76.9 314.8,77.2 316.8,77.5 318.8,77.6 320.9,77.6 322.9,77.6 324.9,77.5 326.9,77.5 328.9,77.4 330.9,77.4 332.9,77.3 334.9,77.2 336.9,77.1 339.0,77.0 341.0,76.8 343.0,76.6 345.0,76.3 347.0,76.0 349.0,75.6 351.0,75.3 353.0,74.9 355.1,74.5 357.1,74.2 359.1,73.8 361.1,73.4 363.1,73.1 365.1,72.7 367.1,72.4 369.1,72.0 371.1,71.6 373.2,71.3 375.2,71.1 377.2,70.9 379.2,70.7 381.2,70.5 383.2,70.4 385.2,70.2 387.2,70.1 389.3,70.0 391.3,69.9 393.3,69.9 395.3,69.9 397.3,70.0 399.3,70.1 401.3,70.3 403.3,70.5 405.3,70.8 407.4,71.0 409.4,71.3 411.4,71.6 413.4,71.8 415.4,72.0 417.4,72.3 419.4,72.5 421.4,72.7 423.4,73.0 425.5,73.2 427.5,73.5 429.5,73.7 431.5,74.0 433.5,74.3 435.5,74.5 437.5,74.8 439.5,75.1"/>
</g>
<g clip-path="url(#cpc)">
<path fill="#000000" d="M504.3 97.4h3.7v3.7h-3.7zM506.0 101.9h3.7v3.7h-3.7zM507.8 106.2h3.7v3.7h-3.7zM509.5 108.1h3.7v3.7h-3.7zM511.2 113.9h3.7v3.7h-3.7zM512.9 117.6h3.7v3.7h-3.7zM514.7 117.8h3.7v3.7h-3.7zM516.4 117.0h3.7v3.7h-3.7zM518.1 117.2h3.7v3.7h-3.7zM519.9 119.6h3.7v3.7h-3.7zM521.6 118.9h3.7v3.7h-3.7zM523.3 118.8h3.7v3.7h-3.7zM525.1 120.7h3.7v3.7h-3.7zM526.8 119.7h3.7v3.7h-3.7zM528.5 120.3h3.7v3.7h-3.7zM530.2 121.1h3.7v3.7h-3.7zM532.0 121.3h3.7v3.7h-3.7zM533.7 120.9h3.7v3.7h-3.7zM535.4 121.2h3.7v3.7h-3.7zM537.2 122.2h3.7v3.7h-3.7zM538.9 122.3h3.7v3.7h-3.7zM540.6 120.8h3.7v3.7h-3.7zM542.3 122.1h3.7v3.7h-3.7zM544.1 121.6h3.7v3.7h-3.7zM545.8 121.6h3.7v3.7h-3.7zM547.5 122.5h3.7v3.7h-3.7zM549.3 121.0h3.7v3.7h-3.7zM551.0 124.6h3.7v3.7h-3.7zM552.7 123.1h3.7v3.7h-3.7zM554.4 124.6h3.7v3.7h-3.7zM556.2 122.6h3.7v3.7h-3.7zM557.9 123.1h3.7v3.7h-3.7zM559.6 127.4h3.7v3.7h-3.7zM561.4 126.8h3.7v3.7h-3.7zM563.1 125.7h3.7v3.7h-3.7zM564.8 126.3h3.7v3.7h-3.7zM566.6 127.0h3.7v3.7h-3.7zM568.3 128.6h3.7v3.7h-3.7zM570.0 128.8h3.7v3.7h-3.7zM571.7 129.4h3.7v3.7h-3.7zM573.5 130.9h3.7v3.7h-3.7zM575.2 130.7h3.7v3.7h-3.7zM576.9 134.6h3.7v3.7h-3.7zM578.7 132.6h3.7v3.7h-3.7zM580.4 134.9h3.7v3.7h-3.7zM582.1 133.9h3.7v3.7h-3.7zM583.8 135.9h3.7v3.7h-3.7zM585.6 137.4h3.7v3.7h-3.7zM587.3 137.2h3.7v3.7h-3.7zM589.0 139.3h3.7v3.7h-3.7zM590.8 140.2h3.7v3.7h-3.7zM592.5 141.6h3.7v3.7h-3.7zM594.2 141.0h3.7v3.7h-3.7zM595.9 141.2h3.7v3.7h-3.7zM597.7 141.3h3.7v3.7h-3.7zM599.4 142.6h3.7v3.7h-3.7zM601.1 141.9h3.7v3.7h-3.7zM602.9 143.1h3.7v3.7h-3.7zM604.6 143.4h3.7v3.7h-3.7zM606.3 143.1h3.7v3.7h-3.7zM608.1 143.0h3.7v3.7h-3.7zM609.8 144.3h3.7v3.7h-3.7zM611.5 144.4h3.7v3.7h-3.7zM613.2 144.5h3.7v3.7h-3.7zM615.0 144.4h3.7v3.7h-3.7zM616.7 145.2h3.7v3.7h-3.7zM618.4 143.9h3.7v3.7h-3.7zM620.2 144.9h3.7v3.7h-3.7zM621.9 144.2h3.7v3.7h-3.7zM623.6 145.0h3.7v3.7h-3.7zM625.3 143.8h3.7v3.7h-3.7zM627.1 143.4h3.7v3.7h-3.7zM628.8 143.5h3.7v3.7h-3.7zM630.5 141.4h3.7v3.7h-3.7zM632.3 141.9h3.7v3.7h-3.7zM634.0 140.5h3.7v3.7h-3.7zM635.7 140.4h3.7v3.7h-3.7zM637.4 140.9h3.7v3.7h-3.7zM639.2 140.2h3.7v3.7h-3.7zM640.9 139.2h3.7v3.7h-3.7zM642.6 139.0h3.7v3.7h-3.7zM644.4 138.6h3.7v3.7h-3.7zM646.1 138.3h3.7v3.7h-3.7zM647.8 138.7h3.7v3.7h-3.7zM649.6 137.4h3.7v3.7h-3.7zM651.3 138.0h3.7v3.7h-3.7zM653.0 136.1h3.7v3.7h-3.7zM654.7 136.3h3.7v3.7h-3.7zM656.5 135.8h3.7v3.7h-3.7zM658.2 135.0h3.7v3.7h-3.7zM659.9 134.3h3.7v3.7h-3.7zM661.7 134.7h3.7v3.7h-3.7zM663.4 134.4h3.7v3.7h-3.7z"/>
<path fill="#ee0000" d="M504.1 88.7a2.0 2.0 0 1 0 4.0 0a2.0 2.0 0 1 0 -4.0 0zM505.9 93.9a2.0 2.0 0 1 0 4.0 0a2.0 2.0 0 1 0 -4.0 0zM507.6 96.4a2.0 2.0 0 1 0 4.0 0a2.0 2.0 0 1 0 -4.0 0zM509.3 97.0a2.0 2.0 0 1 0 4.0 0a2.0 2.0 0 1 0 -4.0 0zM511.1 104.0a2.0 2.0 0 1 0 4.0 0a2.0 2.0 0 1 0 -4.0 0zM512.8 104.6a2.0 2.0 0 1 0 4.0 0a2.0 2.0 0 1 0 -4.0 0zM514.5 109.7a2.0 2.0 0 1 0 4.0 0a2.0 2.0 0 1 0 -4.0 0zM516.3 109.9a2.0 2.0 0 1 0 4.0 0a2.0 2.0 0 1 0 -4.0 0zM518.0 112.9a2.0 2.0 0 1 0 4.0 0a2.0 2.0 0 1 0 -4.0 0zM519.7 114.4a2.0 2.0 0 1 0 4.0 0a2.0 2.0 0 1 0 -4.0 0zM521.4 115.2a2.0 2.0 0 1 0 4.0 0a2.0 2.0 0 1 0 -4.0 0zM523.2 115.1a2.0 2.0 0 1 0 4.0 0a2.0 2.0 0 1 0 -4.0 0zM524.9 118.1a2.0 2.0 0 1 0 4.0 0a2.0 2.0 0 1 0 -4.0 0zM526.6 119.0a2.0 2.0 0 1 0 4.0 0a2.0 2.0 0 1 0 -4.0 0zM528.4 121.1a2.0 2.0 0 1 0 4.0 0a2.0 2.0 0 1 0 -4.0 0zM530.1 119.9a2.0 2.0 0 1 0 4.0 0a2.0 2.0 0 1 0 -4.0 0zM531.8 121.4a2.0 2.0 0 1 0 4.0 0a2.0 2.0 0 1 0 -4.0 0zM533.5 120.6a2.0 2.0 0 1 0 4.0 0a2.0 2.0 0 1 0 -4.0 0zM535.3 122.1a2.0 2.0 0 1 0 4.0 0a2.0 2.0 0 1 0 -4.0 0zM537.0 120.4a2.0 2.0 0 1 0 4.0 0a2.0 2.0 0 1 0 -4.0 0zM538.7 125.1a2.0 2.0 0 1 0 4.0 0a2.0 2.0 0 1 0 -4.0 0zM540.5 123.4a2.0 2.0 0 1 0 4.0 0a2.0 2.0 0 1 0 -4.0 0zM542.2 122.4a2.0 2.0 0 1 0 4.0 0a2.0 2.0 0 1 0 -4.0 0zM543.9 123.9a2.0 2.0 0 1 0 4.0 0a2.0 2.0 0 1 0 -4.0 0zM545.7 124.5a2.0 2.0 0 1 0 4.0 0a2.0 2.0 0 1 0 -4.0 0zM547.4 123.9a2.0 2.0 0 1 0 4.0 0a2.0 2.0 0 1 0 -4.0 0zM549.1 125.0a2.0 2.0 0 1 0 4.0 0a2.0 2.0 0 1 0 -4.0 0zM550.8 123.3a2.0 2.0 0 1 0 4.0 0a2.0 2.0 0 1 0 -4.0 0zM552.6 120.7a2.0 2.0 0 1 0 4.0 0a2.0 2.0 0 1 0 -4.0 0zM554.3 122.0a2.0 2.0 0 1 0 4.0 0a2.0 2.0 0 1 0 -4.0 0zM556.0 124.3a2.0 2.0 0 1 0 4.0 0a2.0 2.0 0 1 0 -4.0 0zM557.8 124.0a2.0 2.0 0 1 0 4.0 0a2.0 2.0 0 1 0 -4.0 0zM559.5 123.6a2.0 2.0 0 1 0 4.0 0a2.0 2.0 0 1 0 -4.0 0zM561.2 122.4a2.0 2.0 0 1 0 4.0 0a2.0 2.0 0 1 0 -4.0 0zM562.9 124.7a2.0 2.0 0 1 0 4.0 0a2.0 2.0 0 1 0 -4.0 0zM564.7 125.1a2.0 2.0 0 1 0 4.0 0a2.0 2.0 0 1 0 -4.0 0zM566.4 124.1a2.0 2.0 0 1 0 4.0 0a2.0 2.0 0 1 0 -4.0 0zM568.1 124.8a2.0 2.0 0 1 0 4.0 0a2.0 2.0 0 1 0 -4.0 0zM569.9 126.8a2.0 2.0 0 1 0 4.0 0a2.0 2.0 0 1 0 -4.0 0zM571.6 128.3a2.0 2.0 0 1 0 4.0 0a2.0 2.0 0 1 0 -4.0 0zM573.3 129.5a2.0 2.0 0 1 0 4.0 0a2.0 2.0 0 1 0 -4.0 0zM575.0 129.3a2.0 2.0 0 1 0 4.0 0a2.0 2.0 0 1 0 -4.0 0zM576.8 131.4a2.0 2.0 0 1 0 4.0 0a2.0 2.0 0 1 0 -4.0 0zM578.5 129.2a2.0 2.0 0 1 0 4.0 0a2.0 2.0 0 1 0 -4.0 0zM580.2 131.0a2.0 2.0 0 1 0 4.0 0a2.0 2.0 0 1 0 -4.0 0zM582.0 130.4a2.0 2.0 0 1 0 4.0 0a2.0 2.0 0 1 0 -4.0 0zM583.7 129.7a2.0 2.0 0 1 0 4.0 0a2.0 2.0 0 1 0 -4.0 0zM585.4 130.8a2.0 2.0 0 1 0 4.0 0a2.0 2.0 0 1 0 -4.0 0zM587.2 133.4a2.0 2.0 0 1 0 4.0 0a2.0 2.0 0 1 0 -4.0 0zM588.9 132.1a2.0 2.0 0 1 0 4.0 0a2.0 2.0 0 1 0 -4.0 0zM590.6 132.3a2.0 2.0 0 1 0 4.0 0a2.0 2.0 0 1 0 -4.0 0zM592.3 134.4a2.0 2.0 0 1 0 4.0 0a2.0 2.0 0 1 0 -4.0 0zM594.1 135.0a2.0 2.0 0 1 0 4.0 0a2.0 2.0 0 1 0 -4.0 0zM595.8 134.6a2.0 2.0 0 1 0 4.0 0a2.0 2.0 0 1 0 -4.0 0zM597.5 136.2a2.0 2.0 0 1 0 4.0 0a2.0 2.0 0 1 0 -4.0 0zM599.3 133.8a2.0 2.0 0 1 0 4.0 0a2.0 2.0 0 1 0 -4.0 0zM601.0 137.3a2.0 2.0 0 1 0 4.0 0a2.0 2.0 0 1 0 -4.0 0zM602.7 136.4a2.0 2.0 0 1 0 4.0 0a2.0 2.0 0 1 0 -4.0 0zM604.4 135.9a2.0 2.0 0 1 0 4.0 0a2.0 2.0 0 1 0 -4.0 0zM606.2 136.1a2.0 2.0 0 1 0 4.0 0a2.0 2.0 0 1 0 -4.0 0zM607.9 135.9a2.0 2.0 0 1 0 4.0 0a2.0 2.0 0 1 0 -4.0 0zM609.6 136.0a2.0 2.0 0 1 0 4.0 0a2.0 2.0 0 1 0 -4.0 0zM611.4 136.6a2.0 2.0 0 1 0 4.0 0a2.0 2.0 0 1 0 -4.0 0zM613.1 135.7a2.0 2.0 0 1 0 4.0 0a2.0 2.0 0 1 0 -4.0 0zM614.8 138.2a2.0 2.0 0 1 0 4.0 0a2.0 2.0 0 1 0 -4.0 0zM616.5 136.7a2.0 2.0 0 1 0 4.0 0a2.0 2.0 0 1 0 -4.0 0zM618.3 137.3a2.0 2.0 0 1 0 4.0 0a2.0 2.0 0 1 0 -4.0 0zM620.0 136.7a2.0 2.0 0 1 0 4.0 0a2.0 2.0 0 1 0 -4.0 0zM621.7 136.6a2.0 2.0 0 1 0 4.0 0a2.0 2.0 0 1 0 -4.0 0zM623.5 137.3a2.0 2.0 0 1 0 4.0 0a2.0 2.0 0 1 0 -4.0 0zM625.2 136.8a2.0 2.0 0 1 0 4.0 0a2.0 2.0 0 1 0 -4.0 0zM626.9 135.6a2.0 2.0 0 1 0 4.0 0a2.0 2.0 0 1 0 -4.0 0zM628.7 135.6a2.0 2.0 0 1 0 4.0 0a2.0 2.0 0 1 0 -4.0 0zM630.4 135.9a2.0 2.0 0 1 0 4.0 0a2.0 2.0 0 1 0 -4.0 0zM632.1 133.7a2.0 2.0 0 1 0 4.0 0a2.0 2.0 0 1 0 -4.0 0zM633.8 133.1a2.0 2.0 0 1 0 4.0 0a2.0 2.0 0 1 0 -4.0 0zM635.6 135.2a2.0 2.0 0 1 0 4.0 0a2.0 2.0 0 1 0 -4.0 0zM637.3 133.6a2.0 2.0 0 1 0 4.0 0a2.0 2.0 0 1 0 -4.0 0zM639.0 131.8a2.0 2.0 0 1 0 4.0 0a2.0 2.0 0 1 0 -4.0 0zM640.8 132.5a2.0 2.0 0 1 0 4.0 0a2.0 2.0 0 1 0 -4.0 0zM642.5 132.5a2.0 2.0 0 1 0 4.0 0a2.0 2.0 0 1 0 -4.0 0zM644.2 132.4a2.0 2.0 0 1 0 4.0 0a2.0 2.0 0 1 0 -4.0 0zM645.9 132.2a2.0 2.0 0 1 0 4.0 0a2.0 2.0 0 1 0 -4.0 0zM647.7 131.7a2.0 2.0 0 1 0 4.0 0a2.0 2.0 0 1 0 -4.0 0zM649.4 131.5a2.0 2.0 0 1 0 4.0 0a2.0 2.0 0 1 0 -4.0 0zM651.1 130.3a2.0 2.0 0 1 0 4.0 0a2.0 2.0 0 1 0 -4.0 0zM652.9 130.6a2.0 2.0 0 1 0 4.0 0a2.0 2.0 0 1 0 -4.0 0zM654.6 130.2a2.0 2.0 0 1 0 4.0 0a2.0 2.0 0 1 0 -4.0 0zM656.3 130.2a2.0 2.0 0 1 0 4.0 0a2.0 2.0 0 1 0 -4.0 0zM658.0 129.1a2.0 2.0 0 1 0 4.0 0a2.0 2.0 0 1 0 -4.0 0zM659.8 129.1a2.0 2.0 0 1 0 4.0 0a2.0 2.0 0 1 0 -4.0 0zM661.5 128.3a2.0 2.0 0 1 0 4.0 0a2.0 2.0 0 1 0 -4.0 0zM663.2 127.2a2.0 2.0 0 1 0 4.0 0a2.0 2.0 0 1 0 -4.0 0z"/>
<path fill="#0000ee" d="M506.1 62.8l2.5 4.4h-5.0zM507.9 69.0l2.5 4.4h-5.0zM509.6 74.7l2.5 4.4h-5.0zM511.3 79.4l2.5 4.4h-5.0zM513.1 83.1l2.5 4.4h-5.0zM514.8 86.1l2.5 4.4h-5.0zM516.5 87.3l2.5 4.4h-5.0zM518.3 92.1l2.5 4.4h-5.0zM520.0 91.3l2.5 4.4h-5.0zM521.7 95.2l2.5 4.4h-5.0zM523.4 98.4l2.5 4.4h-5.0zM525.2 100.4l2.5 4.4h-5.0zM526.9 102.9l2.5 4.4h-5.0zM528.6 103.4l2.5 4.4h-5.0zM530.4 105.4l2.5 4.4h-5.0zM532.1 103.8l2.5 4.4h-5.0zM533.8 106.6l2.5 4.4h-5.0zM535.5 108.7l2.5 4.4h-5.0zM537.3 107.2l2.5 4.4h-5.0zM539.0 108.9l2.5 4.4h-5.0zM540.7 106.8l2.5 4.4h-5.0zM542.5 105.7l2.5 4.4h-5.0zM544.2 106.3l2.5 4.4h-5.0zM545.9 108.7l2.5 4.4h-5.0zM547.7 108.1l2.5 4.4h-5.0zM549.4 105.4l2.5 4.4h-5.0zM551.1 107.1l2.5 4.4h-5.0zM552.8 107.5l2.5 4.4h-5.0zM554.6 106.4l2.5 4.4h-5.0zM556.3 104.9l2.5 4.4h-5.0zM558.0 106.2l2.5 4.4h-5.0zM559.8 107.5l2.5 4.4h-5.0zM561.5 107.4l2.5 4.4h-5.0zM563.2 107.3l2.5 4.4h-5.0zM564.9 108.8l2.5 4.4h-5.0zM566.7 109.4l2.5 4.4h-5.0zM568.4 108.6l2.5 4.4h-5.0zM570.1 109.8l2.5 4.4h-5.0zM571.9 109.1l2.5 4.4h-5.0zM573.6 109.2l2.5 4.4h-5.0zM575.3 107.2l2.5 4.4h-5.0zM577.0 110.5l2.5 4.4h-5.0zM578.8 109.9l2.5 4.4h-5.0zM580.5 109.9l2.5 4.4h-5.0zM582.2 109.4l2.5 4.4h-5.0zM584.0 108.8l2.5 4.4h-5.0zM585.7 110.2l2.5 4.4h-5.0zM587.4 110.5l2.5 4.4h-5.0zM589.2 111.2l2.5 4.4h-5.0zM590.9 110.5l2.5 4.4h-5.0zM592.6 109.1l2.5 4.4h-5.0zM594.3 109.5l2.5 4.4h-5.0zM596.1 110.4l2.5 4.4h-5.0zM597.8 109.8l2.5 4.4h-5.0zM599.5 109.4l2.5 4.4h-5.0zM601.3 109.0l2.5 4.4h-5.0zM603.0 109.9l2.5 4.4h-5.0zM604.7 109.5l2.5 4.4h-5.0zM606.4 110.7l2.5 4.4h-5.0zM608.2 110.1l2.5 4.4h-5.0zM609.9 107.9l2.5 4.4h-5.0zM611.6 110.8l2.5 4.4h-5.0zM613.4 109.3l2.5 4.4h-5.0zM615.1 108.8l2.5 4.4h-5.0zM616.8 109.2l2.5 4.4h-5.0zM618.5 109.5l2.5 4.4h-5.0zM620.3 108.9l2.5 4.4h-5.0zM622.0 108.8l2.5 4.4h-5.0zM623.7 108.8l2.5 4.4h-5.0zM625.5 110.0l2.5 4.4h-5.0zM627.2 108.8l2.5 4.4h-5.0zM628.9 109.2l2.5 4.4h-5.0zM630.7 108.9l2.5 4.4h-5.0zM632.4 108.4l2.5 4.4h-5.0zM634.1 108.1l2.5 4.4h-5.0zM635.8 107.8l2.5 4.4h-5.0zM637.6 108.7l2.5 4.4h-5.0zM639.3 107.7l2.5 4.4h-5.0zM641.0 107.5l2.5 4.4h-5.0zM642.8 107.5l2.5 4.4h-5.0zM644.5 107.3l2.5 4.4h-5.0zM646.2 108.2l2.5 4.4h-5.0zM647.9 108.1l2.5 4.4h-5.0zM649.7 107.5l2.5 4.4h-5.0zM651.4 108.7l2.5 4.4h-5.0zM653.1 107.7l2.5 4.4h-5.0zM654.9 108.1l2.5 4.4h-5.0zM656.6 107.9l2.5 4.4h-5.0zM658.3 108.5l2.5 4.4h-5.0zM660.0 108.0l2.5 4.4h-5.0zM661.8 107.5l2.5 4.4h-5.0zM663.5 106.9l2.5 4.4h-5.0zM665.2 106.8l2.5 4.4h-5.0z"/>
<path fill="#ff00ff" d="M506.1 54.6l2.5 -4.4h-5.0zM507.9 59.3l2.5 -4.4h-5.0zM509.6 64.6l2.5 -4.4h-5.0zM511.3 67.3l2.5 -4.4h-5.0zM513.1 72.5l2.5 -4.4h-5.0zM514.8 75.6l2.5 -4.4h-5.0zM516.5 78.5l2.5 -4.4h-5.0zM518.3 84.5l2.5 -4.4h-5.0zM520.0 88.8l2.5 -4.4h-5.0zM521.7 89.8l2.5 -4.4h-5.0zM523.4 92.1l2.5 -4.4h-5.0zM525.2 93.2l2.5 -4.4h-5.0zM526.9 91.5l2.5 -4.4h-5.0zM528.6 93.9l2.5 -4.4h-5.0zM530.4 96.8l2.5 -4.4h-5.0zM532.1 94.8l2.5 -4.4h-5.0zM533.8 94.5l2.5 -4.4h-5.0zM535.5 96.6l2.5 -4.4h-5.0zM537.3 97.1l2.5 -4.4h-5.0zM539.0 96.8l2.5 -4.4h-5.0zM540.7 96.1l2.5 -4.4h-5.0zM542.5 95.8l2.5 -4.4h-5.0zM544.2 95.2l2.5 -4.4h-5.0zM545.9 95.2l2.5 -4.4h-5.0zM547.7 95.3l2.5 -4.4h-5.0zM549.4 95.2l2.5 -4.4h-5.0zM551.1 96.1l2.5 -4.4h-5.0zM552.8 98.6l2.5 -4.4h-5.0zM554.6 97.2l2.5 -4.4h-5.0zM556.3 96.8l2.5 -4.4h-5.0zM558.0 97.6l2.5 -4.4h-5.0zM559.8 96.2l2.5 -4.4h-5.0zM561.5 97.6l2.5 -4.4h-5.0zM563.2 98.1l2.5 -4.4h-5.0zM564.9 95.5l2.5 -4.4h-5.0zM566.7 96.2l2.5 -4.4h-5.0zM568.4 96.4l2.5 -4.4h-5.0zM570.1 95.5l2.5 -4.4h-5.0zM571.9 95.2l2.5 -4.4h-5.0zM573.6 95.6l2.5 -4.4h-5.0zM575.3 98.1l2.5 -4.4h-5.0zM577.0 96.2l2.5 -4.4h-5.0zM578.8 95.7l2.5 -4.4h-5.0zM580.5 96.0l2.5 -4.4h-5.0zM582.2 94.7l2.5 -4.4h-5.0zM584.0 93.6l2.5 -4.4h-5.0zM585.7 95.0l2.5 -4.4h-5.0zM587.4 95.3l2.5 -4.4h-5.0zM589.2 92.3l2.5 -4.4h-5.0zM590.9 94.3l2.5 -4.4h-5.0zM592.6 94.8l2.5 -4.4h-5.0zM594.3 93.3l2.5 -4.4h-5.0zM596.1 93.0l2.5 -4.4h-5.0zM597.8 93.8l2.5 -4.4h-5.0zM599.5 92.4l2.5 -4.4h-5.0zM601.3 93.4l2.5 -4.4h-5.0zM603.0 93.7l2.5 -4.4h-5.0zM604.7 92.7l2.5 -4.4h-5.0zM606.4 92.1l2.5 -4.4h-5.0zM608.2 93.2l2.5 -4.4h-5.0zM609.9 92.4l2.5 -4.4h-5.0zM611.6 92.7l2.5 -4.4h-5.0zM613.4 90.3l2.5 -4.4h-5.0zM615.1 93.0l2.5 -4.4h-5.0zM616.8 91.4l2.5 -4.4h-5.0zM618.5 92.5l2.5 -4.4h-5.0zM620.3 92.5l2.5 -4.4h-5.0zM622.0 91.9l2.5 -4.4h-5.0zM623.7 91.8l2.5 -4.4h-5.0zM625.5 91.6l2.5 -4.4h-5.0zM627.2 92.3l2.5 -4.4h-5.0zM628.9 93.0l2.5 -4.4h-5.0zM630.7 93.1l2.5 -4.4h-5.0zM632.4 92.5l2.5 -4.4h-5.0zM634.1 92.6l2.5 -4.4h-5.0zM635.8 92.2l2.5 -4.4h-5.0zM637.6 93.0l2.5 -4.4h-5.0zM639.3 92.8l2.5 -4.4h-5.0zM641.0 92.6l2.5 -4.4h-5.0zM642.8 93.6l2.5 -4.4h-5.0zM644.5 94.7l2.5 -4.4h-5.0zM646.2 94.6l2.5 -4.4h-5.0zM647.9 94.9l2.5 -4.4h-5.0zM649.7 93.2l2.5 -4.4h-5.0zM651.4 94.7l2.5 -4.4h-5.0zM653.1 93.6l2.5 -4.4h-5.0zM654.9 94.1l2.5 -4.4h-5.0zM656.6 93.6l2.5 -4.4h-5.0zM658.3 94.1l2.5 -4.4h-5.0zM660.0 94.8l2.5 -4.4h-5.0zM661.8 95.0l2.5 -4.4h-5.0zM663.5 95.0l2.5 -4.4h-5.0zM665.2 95.0l2.5 -4.4h-5.0z"/>
<path fill="#0a850a" d="M506.1 38.0l2.6 2.6l-2.6 2.6l-2.6 -2.6zM507.9 45.8l2.6 2.6l-2.6 2.6l-2.6 -2.6zM509.6 50.0l2.6 2.6l-2.6 2.6l-2.6 -2.6zM511.3 59.8l2.6 2.6l-2.6 2.6l-2.6 -2.6zM513.1 62.8l2.6 2.6l-2.6 2.6l-2.6 -2.6zM514.8 68.9l2.6 2.6l-2.6 2.6l-2.6 -2.6zM516.5 70.4l2.6 2.6l-2.6 2.6l-2.6 -2.6zM518.3 71.5l2.6 2.6l-2.6 2.6l-2.6 -2.6zM520.0 74.0l2.6 2.6l-2.6 2.6l-2.6 -2.6zM521.7 73.8l2.6 2.6l-2.6 2.6l-2.6 -2.6zM523.4 77.6l2.6 2.6l-2.6 2.6l-2.6 -2.6zM525.2 75.5l2.6 2.6l-2.6 2.6l-2.6 -2.6zM526.9 80.0l2.6 2.6l-2.6 2.6l-2.6 -2.6zM528.6 80.9l2.6 2.6l-2.6 2.6l-2.6 -2.6zM530.4 82.9l2.6 2.6l-2.6 2.6l-2.6 -2.6zM532.1 87.3l2.6 2.6l-2.6 2.6l-2.6 -2.6zM533.8 85.7l2.6 2.6l-2.6 2.6l-2.6 -2.6zM535.5 84.8l2.6 2.6l-2.6 2.6l-2.6 -2.6zM537.3 83.3l2.6 2.6l-2.6 2.6l-2.6 -2.6zM539.0 84.9l2.6 2.6l-2.6 2.6l-2.6 -2.6zM540.7 85.0l2.6 2.6l-2.6 2.6l-2.6 -2.6zM542.5 86.9l2.6 2.6l-2.6 2.6l-2.6 -2.6zM544.2 83.7l2.6 2.6l-2.6 2.6l-2.6 -2.6zM545.9 83.4l2.6 2.6l-2.6 2.6l-2.6 -2.6zM547.7 85.4l2.6 2.6l-2.6 2.6l-2.6 -2.6zM549.4 85.8l2.6 2.6l-2.6 2.6l-2.6 -2.6zM551.1 87.4l2.6 2.6l-2.6 2.6l-2.6 -2.6zM552.8 84.7l2.6 2.6l-2.6 2.6l-2.6 -2.6zM554.6 82.8l2.6 2.6l-2.6 2.6l-2.6 -2.6zM556.3 85.1l2.6 2.6l-2.6 2.6l-2.6 -2.6zM558.0 84.5l2.6 2.6l-2.6 2.6l-2.6 -2.6zM559.8 85.3l2.6 2.6l-2.6 2.6l-2.6 -2.6zM561.5 86.9l2.6 2.6l-2.6 2.6l-2.6 -2.6zM563.2 84.4l2.6 2.6l-2.6 2.6l-2.6 -2.6zM564.9 87.0l2.6 2.6l-2.6 2.6l-2.6 -2.6zM566.7 85.8l2.6 2.6l-2.6 2.6l-2.6 -2.6zM568.4 85.1l2.6 2.6l-2.6 2.6l-2.6 -2.6zM570.1 84.3l2.6 2.6l-2.6 2.6l-2.6 -2.6zM571.9 84.5l2.6 2.6l-2.6 2.6l-2.6 -2.6zM573.6 84.3l2.6 2.6l-2.6 2.6l-2.6 -2.6zM575.3 85.2l2.6 2.6l-2.6 2.6l-2.6 -2.6zM577.0 85.5l2.6 2.6l-2.6 2.6l-2.6 -2.6zM578.8 84.0l2.6 2.6l-2.6 2.6l-2.6 -2.6zM580.5 84.5l2.6 2.6l-2.6 2.6l-2.6 -2.6zM582.2 84.9l2.6 2.6l-2.6 2.6l-2.6 -2.6zM584.0 84.6l2.6 2.6l-2.6 2.6l-2.6 -2.6zM585.7 83.7l2.6 2.6l-2.6 2.6l-2.6 -2.6zM587.4 84.7l2.6 2.6l-2.6 2.6l-2.6 -2.6zM589.2 84.0l2.6 2.6l-2.6 2.6l-2.6 -2.6zM590.9 84.0l2.6 2.6l-2.6 2.6l-2.6 -2.6zM592.6 82.1l2.6 2.6l-2.6 2.6l-2.6 -2.6zM594.3 81.7l2.6 2.6l-2.6 2.6l-2.6 -2.6zM596.1 80.2l2.6 2.6l-2.6 2.6l-2.6 -2.6zM597.8 83.1l2.6 2.6l-2.6 2.6l-2.6 -2.6zM599.5 82.3l2.6 2.6l-2.6 2.6l-2.6 -2.6zM601.3 80.9l2.6 2.6l-2.6 2.6l-2.6 -2.6zM603.0 81.9l2.6 2.6l-2.6 2.6l-2.6 -2.6zM604.7 82.0l2.6 2.6l-2.6 2.6l-2.6 -2.6zM606.4 80.3l2.6 2.6l-2.6 2.6l-2.6 -2.6zM608.2 82.0l2.6 2.6l-2.6 2.6l-2.6 -2.6zM609.9 82.6l2.6 2.6l-2.6 2.6l-2.6 -2.6zM611.6 82.7l2.6 2.6l-2.6 2.6l-2.6 -2.6zM613.4 81.4l2.6 2.6l-2.6 2.6l-2.6 -2.6zM615.1 81.5l2.6 2.6l-2.6 2.6l-2.6 -2.6zM616.8 82.7l2.6 2.6l-2.6 2.6l-2.6 -2.6zM618.5 82.4l2.6 2.6l-2.6 2.6l-2.6 -2.6zM620.3 81.3l2.6 2.6l-2.6 2.6l-2.6 -2.6zM622.0 81.3l2.6 2.6l-2.6 2.6l-2.6 -2.6zM623.7 82.2l2.6 2.6l-2.6 2.6l-2.6 -2.6zM625.5 81.3l2.6 2.6l-2.6 2.6l-2.6 -2.6zM627.2 81.4l2.6 2.6l-2.6 2.6l-2.6 -2.6zM628.9 83.1l2.6 2.6l-2.6 2.6l-2.6 -2.6zM630.7 82.2l2.6 2.6l-2.6 2.6l-2.6 -2.6zM632.4 81.8l2.6 2.6l-2.6 2.6l-2.6 -2.6zM634.1 82.5l2.6 2.6l-2.6 2.6l-2.6 -2.6zM635.8 83.7l2.6 2.6l-2.6 2.6l-2.6 -2.6zM637.6 82.6l2.6 2.6l-2.6 2.6l-2.6 -2.6zM639.3 82.0l2.6 2.6l-2.6 2.6l-2.6 -2.6zM641.0 81.7l2.6 2.6l-2.6 2.6l-2.6 -2.6zM642.8 84.1l2.6 2.6l-2.6 2.6l-2.6 -2.6zM644.5 81.3l2.6 2.6l-2.6 2.6l-2.6 -2.6zM646.2 83.7l2.6 2.6l-2.6 2.6l-2.6 -2.6zM647.9 82.6l2.6 2.6l-2.6 2.6l-2.6 -2.6zM649.7 82.7l2.6 2.6l-2.6 2.6l-2.6 -2.6zM651.4 83.0l2.6 2.6l-2.6 2.6l-2.6 -2.6zM653.1 83.7l2.6 2.6l-2.6 2.6l-2.6 -2.6zM654.9 84.6l2.6 2.6l-2.6 2.6l-2.6 -2.6zM656.6 83.8l2.6 2.6l-2.6 2.6l-2.6 -2.6zM658.3 84.8l2.6 2.6l-2.6 2.6l-2.6 -2.6zM660.0 86.0l2.6 2.6l-2.6 2.6l-2.6 -2.6zM661.8 83.4l2.6 2.6l-2.6 2.6l-2.6 -2.6zM663.5 84.7l2.6 2.6l-2.6 2.6l-2.6 -2.6zM665.2 84.4l2.6 2.6l-2.6 2.6l-2.6 -2.6z"/>
<polyline fill="none" stroke="#000000" stroke-width="1.2" points="506.1,100.8 508.2,103.4 510.2,108.2 512.2,113.9 514.2,117.1 516.2,119.0 518.2,120.1 520.3,120.6 522.3,121.1 524.3,121.4 526.3,121.7 528.3,121.9 530.3,122.1 532.3,122.4 534.4,122.6 536.4,122.9 538.4,123.2 540.4,123.6 542.4,123.9 544.4,124.2 546.4,124.6 548.5,124.9 550.5,125.2 552.5,125.5 554.5,125.8 556.5,126.1 558.5,126.5 560.5,126.9 562.6,127.5 564.6,128.1 566.6,128.9 568.6,129.7 570.6,130.6 572.6,131.5 574.7,132.4 576.7,133.3 578.7,134.2 580.7,135.1 582.7,136.0 584.7,137.0 586.7,138.1 588.8,139.2 590.8,140.3 592.8,141.3 594.8,142.3 596.8,143.1 598.8,143.8 600.8,144.3 602.9,144.6 604.9,145.0 606.9,145.3 608.9,145.5 610.9,145.8 612.9,146.0 614.9,146.2 617.0,146.3 619.0,146.4 621.0,146.5 623.0,146.5 625.0,146.3 627.0,146.0 629.0,145.5 631.1,145.0 633.1,144.4 635.1,143.7 637.1,143.1 639.1,142.4 641.1,141.8 643.2,141.2 645.2,140.7 647.2,140.2 649.2,139.7 651.2,139.1 653.2,138.6 655.2,138.1 657.3,137.5 659.3,137.0 661.3,136.4 663.3,135.9 665.3,135.4"/>
<polyline fill="none" stroke="#dd0000" stroke-width="1.2" points="506.1,87.2 508.2,91.8 510.2,96.4 512.2,100.9 514.2,104.5 516.2,107.5 518.2,110.3 520.3,112.8 522.3,114.9 524.3,116.6 526.3,118.0 528.3,119.0 530.3,119.9 532.3,120.7 534.4,121.3 536.4,121.8 538.4,122.3 540.4,122.7 542.4,123.1 544.4,123.4 546.4,123.5 548.5,123.6 550.5,123.5 552.5,123.4 554.5,123.3 556.5,123.2 558.5,123.1 560.5,123.1 562.6,123.3 564.6,123.8 566.6,124.4 568.6,125.1 570.6,125.9 572.6,126.8 574.7,127.7 576.7,128.5 578.7,129.3 580.7,129.9 582.7,130.5 584.7,131.1 586.7,131.7 588.8,132.3 590.8,132.8 592.8,133.4 594.8,133.9 596.8,134.3 598.8,134.7 600.8,135.0 602.9,135.3 604.9,135.5 606.9,135.7 608.9,136.0 610.9,136.2 612.9,136.4 614.9,136.5 617.0,136.6 619.0,136.7 621.0,136.8 623.0,136.8 625.0,136.6 627.0,136.4 629.0,136.1 631.1,135.7 633.1,135.3 635.1,134.8 637.1,134.3 639.1,133.8 641.1,133.4 643.2,132.9 645.2,132.5 647.2,132.1 649.2,131.6 651.2,131.2 653.2,130.7 655.2,130.3 657.3,129.8 659.3,129.3 661.3,128.8 663.3,128.3 665.3,127.7"/>
<polyline fill="none" stroke="#0000cc" stroke-width="1.2" points="506.1,65.8 508.2,73.2 510.2,79.2 512.2,83.8 514.2,87.3 516.2,90.4 518.2,93.2 520.3,95.9 522.3,98.5 524.3,101.1 526.3,103.9 528.3,105.9 530.3,107.0 532.3,107.8 534.4,108.3 536.4,108.7 538.4,109.0 540.4,109.2 542.4,109.4 544.4,109.6 546.4,109.7 548.5,109.8 550.5,109.9 552.5,109.9 554.5,110.0 556.5,110.1 558.5,110.1 560.5,110.2 562.6,110.4 564.6,110.6 566.6,110.9 568.6,111.1 570.6,111.4 572.6,111.7 574.7,111.9 576.7,112.1 578.7,112.2 580.7,112.3 582.7,112.3 584.7,112.3 586.7,112.2 588.8,112.2 590.8,112.2 592.8,112.1 594.8,112.1 596.8,112.0 598.8,112.0 600.8,111.9 602.9,111.9 604.9,111.8 606.9,111.8 608.9,111.7 610.9,111.6 612.9,111.6 614.9,111.5 617.0,111.5 619.0,111.4 621.0,111.3 623.0,111.3 625.0,111.2 627.0,111.2 629.0,111.1 631.1,111.1 633.1,111.0 635.1,111.0 637.1,110.9 639.1,110.8 641.1,110.8 643.2,110.7 645.2,110.6 647.2,110.6 649.2,110.5 651.2,110.4 653.2,110.3 655.2,110.2 657.3,110.2 659.3,110.1 661.3,110.0 663.3,109.9 665.3,109.8"/>
<polyline fill="none" stroke="#ee00ee" stroke-width="1.2" points="506.1,52.0 508.2,57.3 510.2,62.5 512.2,67.5 514.2,72.5 516.2,77.5 518.2,81.9 520.3,84.7 522.3,86.7 524.3,88.5 526.3,90.1 528.3,91.5 530.3,92.5 532.3,93.1 534.4,93.6 536.4,93.8 538.4,93.9 540.4,94.0 542.4,94.0 544.4,94.1 546.4,94.1 548.5,94.2 550.5,94.3 552.5,94.4 554.5,94.5 556.5,94.6 558.5,94.7 560.5,94.7 562.6,94.6 564.6,94.5 566.6,94.3 568.6,94.1 570.6,93.9 572.6,93.6 574.7,93.3 576.7,93.1 578.7,92.8 580.7,92.6 582.7,92.4 584.7,92.1 586.7,91.9 588.8,91.7 590.8,91.4 592.8,91.2 594.8,91.0 596.8,90.8 598.8,90.6 600.8,90.5 602.9,90.4 604.9,90.3 606.9,90.3 608.9,90.2 610.9,90.1 612.9,90.0 614.9,90.0 617.0,89.9 619.0,89.9 621.0,89.9 623.0,89.9 625.0,89.9 627.0,90.0 629.0,90.1 631.1,90.3 633.1,90.4 635.1,90.6 637.1,90.8 639.1,90.9 641.1,91.1 643.2,91.2 645.2,91.3 647.2,91.5 649.2,91.6 651.2,91.7 653.2,91.9 655.2,92.0 657.3,92.1 659.3,92.2 661.3,92.4 663.3,92.5 665.3,92.6"/>
<polyline fill="none" stroke="#008000" stroke-width="1.2" points="506.1,39.9 508.2,49.6 510.2,56.6 512.2,63.0 514.2,69.0 516.2,72.8 518.2,75.2 520.3,76.7 522.3,77.6 524.3,78.7 526.3,80.9 528.3,83.9 530.3,85.7 532.3,86.9 534.4,87.5 536.4,87.7 538.4,87.8 540.4,87.9 542.4,87.9 544.4,88.0 546.4,88.0 548.5,88.1 550.5,88.2 552.5,88.3 554.5,88.4 556.5,88.4 558.5,88.5 560.5,88.5 562.6,88.4 564.6,88.3 566.6,88.2 568.6,87.9 570.6,87.7 572.6,87.4 574.7,87.2 576.7,86.9 578.7,86.6 580.7,86.4 582.7,86.2 584.7,85.9 586.7,85.7 588.8,85.4 590.8,85.1 592.8,84.9 594.8,84.7 596.8,84.5 598.8,84.4 600.8,84.3 602.9,84.3 604.9,84.3 606.9,84.3 608.9,84.3 610.9,84.3 612.9,84.3 614.9,84.3 617.0,84.3 619.0,84.3 621.0,84.3 623.0,84.3 625.0,84.3 627.0,84.4 629.0,84.5 631.1,84.6 633.1,84.7 635.1,84.8 637.1,85.0 639.1,85.1 641.1,85.3 643.2,85.4 645.2,85.6 647.2,85.7 649.2,85.9 651.2,86.1 653.2,86.4 655.2,86.6 657.3,86.9 659.3,87.1 661.3,87.4 663.3,87.7 665.3,88.0"/>
</g>
<g clip-path="url(#cpd)">
<path fill="#000000" d="M56.0 305.2h3.7v3.7h-3.7zM57.7 303.4h3.7v3.7h-3.7zM59.4 303.3h3.7v3.7h-3.7zM61.1 303.2h3.7v3.7h-3.7zM62.9 304.2h3.7v3.7h-3.7zM64.6 304.7h3.7v3.7h-3.7zM66.3 303.6h3.7v3.7h-3.7zM68.0 304.2h3.7v3.7h-3.7zM69.8 302.9h3.7v3.7h-3.7zM71.5 300.9h3.7v3.7h-3.7zM73.2 301.2h3.7v3.7h-3.7zM74.9 300.6h3.7v3.7h-3.7zM76.7 300.6h3.7v3.7h-3.7zM78.4 299.5h3.7v3.7h-3.7zM80.1 300.3h3.7v3.7h-3.7zM81.8 301.6h3.7v3.7h-3.7zM83.6 301.3h3.7v3.7h-3.7zM85.3 303.1h3.7v3.7h-3.7zM87.0 303.2h3.7v3.7h-3.7zM88.7 302.8h3.7v3.7h-3.7zM90.5 304.4h3.7v3.7h-3.7zM92.2 304.1h3.7v3.7h-3.7zM93.9 305.0h3.7v3.7h-3.7zM95.7 304.4h3.7v3.7h-3.7zM97.4 303.7h3.7v3.7h-3.7zM99.1 305.5h3.7v3.7h-3.7zM100.8 305.2h3.7v3.7h-3.7zM102.6 306.2h3.7v3.7h-3.7zM104.3 306.7h3.7v3.7h-3.7zM106.0 307.2h3.7v3.7h-3.7zM107.7 306.2h3.7v3.7h-3.7zM109.5 306.3h3.7v3.7h-3.7zM111.2 308.1h3.7v3.7h-3.7zM112.9 309.4h3.7v3.7h-3.7zM114.6 309.2h3.7v3.7h-3.7zM116.4 310.2h3.7v3.7h-3.7zM118.1 310.0h3.7v3.7h-3.7zM119.8 310.6h3.7v3.7h-3.7zM121.5 311.0h3.7v3.7h-3.7zM123.3 311.1h3.7v3.7h-3.7zM125.0 312.1h3.7v3.7h-3.7zM126.7 312.3h3.7v3.7h-3.7zM128.4 313.3h3.7v3.7h-3.7zM130.2 312.9h3.7v3.7h-3.7zM131.9 313.7h3.7v3.7h-3.7zM133.6 313.4h3.7v3.7h-3.7zM135.3 314.0h3.7v3.7h-3.7zM137.1 313.8h3.7v3.7h-3.7zM138.8 313.9h3.7v3.7h-3.7zM140.5 315.1h3.7v3.7h-3.7zM142.2 315.1h3.7v3.7h-3.7zM144.0 315.5h3.7v3.7h-3.7zM145.7 315.0h3.7v3.7h-3.7zM147.4 314.9h3.7v3.7h-3.7zM149.1 315.7h3.7v3.7h-3.7zM150.9 316.6h3.7v3.7h-3.7zM152.6 316.2h3.7v3.7h-3.7zM154.3 317.9h3.7v3.7h-3.7zM156.0 316.9h3.7v3.7h-3.7zM157.8 318.1h3.7v3.7h-3.7zM159.5 319.3h3.7v3.7h-3.7zM161.2 317.3h3.7v3.7h-3.7zM163.0 318.0h3.7v3.7h-3.7zM164.7 319.3h3.7v3.7h-3.7zM166.4 319.0h3.7v3.7h-3.7zM168.1 319.3h3.7v3.7h-3.7zM169.9 319.4h3.7v3.7h-3.7zM171.6 320.1h3.7v3.7h-3.7zM173.3 320.0h3.7v3.7h-3.7zM175.0 319.7h3.7v3.7h-3.7zM176.8 319.9h3.7v3.7h-3.7zM178.5 319.7h3.7v3.7h-3.7zM180.2 320.3h3.7v3.7h-3.7zM181.9 319.6h3.7v3.7h-3.7zM183.7 320.9h3.7v3.7h-3.7zM185.4 320.7h3.7v3.7h-3.7zM187.1 321.6h3.7v3.7h-3.7zM188.8 321.5h3.7v3.7h-3.7zM190.6 320.7h3.7v3.7h-3.7zM192.3 321.6h3.7v3.7h-3.7zM194.0 321.2h3.7v3.7h-3.7zM195.7 321.5h3.7v3.7h-3.7zM197.5 321.9h3.7v3.7h-3.7zM199.2 321.7h3.7v3.7h-3.7zM200.9 321.9h3.7v3.7h-3.7zM202.6 321.9h3.7v3.7h-3.7zM204.4 321.6h3.7v3.7h-3.7zM206.1 321.7h3.7v3.7h-3.7zM207.8 322.1h3.7v3.7h-3.7zM209.5 322.2h3.7v3.7h-3.7zM211.3 321.9h3.7v3.7h-3.7zM213.0 322.1h3.7v3.7h-3.7zM214.7 321.8h3.7v3.7h-3.7z"/>
<path fill="#ee0000" d="M55.8 283.1a2.0 2.0 0 1 0 4.0 0a2.0 2.0 0 1 0 -4.0 0zM57.5 285.7a2.0 2.0 0 1 0 4.0 0a2.0 2.0 0 1 0 -4.0 0zM59.3 287.5a2.0 2.0 0 1 0 4.0 0a2.0 2.0 0 1 0 -4.0 0zM61.0 288.7a2.0 2.0 0 1 0 4.0 0a2.0 2.0 0 1 0 -4.0 0zM62.7 290.2a2.0 2.0 0 1 0 4.0 0a2.0 2.0 0 1 0 -4.0 0zM64.4 291.1a2.0 2.0 0 1 0 4.0 0a2.0 2.0 0 1 0 -4.0 0zM66.2 292.0a2.0 2.0 0 1 0 4.0 0a2.0 2.0 0 1 0 -4.0 0zM67.9 292.3a2.0 2.0 0 1 0 4.0 0a2.0 2.0 0 1 0 -4.0 0zM69.6 292.9a2.0 2.0 0 1 0 4.0 0a2.0 2.0 0 1 0 -4.0 0zM71.3 292.7a2.0 2.0 0 1 0 4.0 0a2.0 2.0 0 1 0 -4.0 0zM73.1 293.9a2.0 2.0 0 1 0 4.0 0a2.0 2.0 0 1 0 -4.0 0zM74.8 294.3a2.0 2.0 0 1 0 4.0 0a2.0 2.0 0 1 0 -4.0 0zM76.5 295.5a2.0 2.0 0 1 0 4.0 0a2.0 2.0 0 1 0 -4.0 0zM78.2 294.1a2.0 2.0 0 1 0 4.0 0a2.0 2.0 0 1 0 -4.0 0zM80.0 295.4a2.0 2.0 0 1 0 4.0 0a2.0 2.0 0 1 0 -4.0 0zM81.7 295.2a2.0 2.0 0 1 0 4.0 0a2.0 2.0 0 1 0 -4.0 0zM83.4 296.4a2.0 2.0 0 1 0 4.0 0a2.0 2.0 0 1 0 -4.0 0zM85.1 296.5a2.0 2.0 0 1 0 4.0 0a2.0 2.0 0 1 0 -4.0 0zM86.9 298.2a2.0 2.0 0 1 0 4.0 0a2.0 2.0 0 1 0 -4.0 0zM88.6 298.1a2.0 2.0 0 1 0 4.0 0a2.0 2.0 0 1 0 -4.0 0zM90.3 297.4a2.0 2.0 0 1 0 4.0 0a2.0 2.0 0 1 0 -4.0 0zM92.0 300.4a2.0 2.0 0 1 0 4.0 0a2.0 2.0 0 1 0 -4.0 0zM93.8 299.4a2.0 2.0 0 1 0 4.0 0a2.0 2.0 0 1 0 -4.0 0zM95.5 299.6a2.0 2.0 0 1 0 4.0 0a2.0 2.0 0 1 0 -4.0 0zM97.2 300.8a2.0 2.0 0 1 0 4.0 0a2.0 2.0 0 1 0 -4.0 0zM99.0 301.0a2.0 2.0 0 1 0 4.0 0a2.0 2.0 0 1 0 -4.0 0zM100.7 301.0a2.0 2.0 0 1 0 4.0 0a2.0 2.0 0 1 0 -4.0 0zM102.4 302.5a2.0 2.0 0 1 0 4.0 0a2.0 2.0 0 1 0 -4.0 0zM104.1 302.2a2.0 2.0 0 1 0 4.0 0a2.0 2.0 0 1 0 -4.0 0zM105.9 303.3a2.0 2.0 0 1 0 4.0 0a2.0 2.0 0 1 0 -4.0 0zM107.6 303.5a2.0 2.0 0 1 0 4.0 0a2.0 2.0 0 1 0 -4.0 0zM109.3 303.8a2.0 2.0 0 1 0 4.0 0a2.0 2.0 0 1 0 -4.0 0zM111.0 303.8a2.0 2.0 0 1 0 4.0 0a2.0 2.0 0 1 0 -4.0 0zM112.8 303.9a2.0 2.0 0 1 0 4.0 0a2.0 2.0 0 1 0 -4.0 0zM114.5 304.0a2.0 2.0 0 1 0 4.0 0a2.0 2.0 0 1 0 -4.0 0zM116.2 305.3a2.0 2.0 0 1 0 4.0 0a2.0 2.0 0 1 0 -4.0 0zM117.9 303.7a2.0 2.0 0 1 0 4.0 0a2.0 2.0 0 1 0 -4.0 0zM119.7 304.4a2.0 2.0 0 1 0 4.0 0a2.0 2.0 0 1 0 -4.0 0zM121.4 304.9a2.0 2.0 0 1 0 4.0 0a2.0 2.0 0 1 0 -4.0 0zM123.1 305.8a2.0 2.0 0 1 0 4.0 0a2.0 2.0 0 1 0 -4.0 0zM124.8 305.8a2.0 2.0 0 1 0 4.0 0a2.0 2.0 0 1 0 -4.0 0zM126.6 305.7a2.0 2.0 0 1 0 4.0 0a2.0 2.0 0 1 0 -4.0 0zM128.3 306.0a2.0 2.0 0 1 0 4.0 0a2.0 2.0 0 1 0 -4.0 0zM130.0 307.3a2.0 2.0 0 1 0 4.0 0a2.0 2.0 0 1 0 -4.0 0zM131.7 306.2a2.0 2.0 0 1 0 4.0 0a2.0 2.0 0 1 0 -4.0 0zM133.5 305.3a2.0 2.0 0 1 0 4.0 0a2.0 2.0 0 1 0 -4.0 0zM135.2 307.9a2.0 2.0 0 1 0 4.0 0a2.0 2.0 0 1 0 -4.0 0zM136.9 306.6a2.0 2.0 0 1 0 4.0 0a2.0 2.0 0 1 0 -4.0 0zM138.6 307.0a2.0 2.0 0 1 0 4.0 0a2.0 2.0 0 1 0 -4.0 0zM140.4 307.4a2.0 2.0 0 1 0 4.0 0a2.0 2.0 0 1 0 -4.0 0zM142.1 306.8a2.0 2.0 0 1 0 4.0 0a2.0 2.0 0 1 0 -4.0 0zM143.8 308.2a2.0 2.0 0 1 0 4.0 0a2.0 2.0 0 1 0 -4.0 0zM145.5 307.7a2.0 2.0 0 1 0 4.0 0a2.0 2.0 0 1 0 -4.0 0zM147.3 307.2a2.0 2.0 0 1 0 4.0 0a2.0 2.0 0 1 0 -4.0 0zM149.0 308.2a2.0 2.0 0 1 0 4.0 0a2.0 2.0 0 1 0 -4.0 0zM150.7 308.4a2.0 2.0 0 1 0 4.0 0a2.0 2.0 0 1 0 -4.0 0zM152.4 308.3a2.0 2.0 0 1 0 4.0 0a2.0 2.0 0 1 0 -4.0 0zM154.2 308.7a2.0 2.0 0 1 0 4.0 0a2.0 2.0 0 1 0 -4.0 0zM155.9 307.9a2.0 2.0 0 1 0 4.0 0a2.0 2.0 0 1 0 -4.0 0zM157.6 309.2a2.0 2.0 0 1 0 4.0 0a2.0 2.0 0 1 0 -4.0 0zM159.4 308.5a2.0 2.0 0 1 0 4.0 0a2.0 2.0 0 1 0 -4.0 0zM161.1 309.6a2.0 2.0 0 1 0 4.0 0a2.0 2.0 0 1 0 -4.0 0zM162.8 308.8a2.0 2.0 0 1 0 4.0 0a2.0 2.0 0 1 0 -4.0 0zM164.5 309.3a2.0 2.0 0 1 0 4.0 0a2.0 2.0 0 1 0 -4.0 0zM166.3 310.5a2.0 2.0 0 1 0 4.0 0a2.0 2.0 0 1 0 -4.0 0zM168.0 309.5a2.0 2.0 0 1 0 4.0 0a2.0 2.0 0 1 0 -4.0 0zM169.7 310.1a2.0 2.0 0 1 0 4.0 0a2.0 2.0 0 1 0 -4.0 0zM171.4 309.9a2.0 2.0 0 1 0 4.0 0a2.0 2.0 0 1 0 -4.0 0zM173.2 309.2a2.0 2.0 0 1 0 4.0 0a2.0 2.0 0 1 0 -4.0 0zM174.9 310.4a2.0 2.0 0 1 0 4.0 0a2.0 2.0 0 1 0 -4.0 0zM176.6 310.5a2.0 2.0 0 1 0 4.0 0a2.0 2.0 0 1 0 -4.0 0zM178.3 309.6a2.0 2.0 0 1 0 4.0 0a2.0 2.0 0 1 0 -4.0 0zM180.1 310.3a2.0 2.0 0 1 0 4.0 0a2.0 2.0 0 1 0 -4.0 0zM181.8 309.8a2.0 2.0 0 1 0 4.0 0a2.0 2.0 0 1 0 -4.0 0zM183.5 310.4a2.0 2.0 0 1 0 4.0 0a2.0 2.0 0 1 0 -4.0 0zM185.2 311.0a2.0 2.0 0 1 0 4.0 0a2.0 2.0 0 1 0 -4.0 0zM187.0 310.8a2.0 2.0 0 1 0 4.0 0a2.0 2.0 0 1 0 -4.0 0zM188.7 310.4a2.0 2.0 0 1 0 4.0 0a2.0 2.0 0 1 0 -4.0 0zM190.4 310.7a2.0 2.0 0 1 0 4.0 0a2.0 2.0 0 1 0 -4.0 0zM192.1 311.1a2.0 2.0 0 1 0 4.0 0a2.0 2.0 0 1 0 -4.0 0zM193.9 311.2a2.0 2.0 0 1 0 4.0 0a2.0 2.0 0 1 0 -4.0 0zM195.6 311.3a2.0 2.0 0 1 0 4.0 0a2.0 2.0 0 1 0 -4.0 0zM197.3 311.6a2.0 2.0 0 1 0 4.0 0a2.0 2.0 0 1 0 -4.0 0zM199.0 310.9a2.0 2.0 0 1 0 4.0 0a2.0 2.0 0 1 0 -4.0 0zM200.8 311.6a2.0 2.0 0 1 0 4.0 0a2.0 2.0 0 1 0 -4.0 0zM202.5 312.0a2.0 2.0 0 1 0 4.0 0a2.0 2.0 0 1 0 -4.0 0zM204.2 311.9a2.0 2.0 0 1 0 4.0 0a2.0 2.0 0 1 0 -4.0 0zM205.9 311.7a2.0 2.0 0 1 0 4.0 0a2.0 2.0 0 1 0 -4.0 0zM207.7 311.8a2.0 2.0 0 1 0 4.0 0a2.0 2.0 0 1 0 -4.0 0zM209.4 312.1a2.0 2.0 0 1 0 4.0 0a2.0 2.0 0 1 0 -4.0 0zM211.1 312.3a2.0 2.0 0 1 0 4.0 0a2.0 2.0 0 1 0 -4.0 0zM212.8 312.2a2.0 2.0 0 1 0 4.0 0a2.0 2.0 0 1 0 -4.0 0zM214.6 312.8a2.0 2.0 0 1 0 4.0 0a2.0 2.0 0 1 0 -4.0 0z"/>
<path fill="#0000ee" d="M57.8 273.9l2.5 4.4h-5.0zM59.5 273.6l2.5 4.4h-5.0zM61.3 275.7l2.5 4.4h-5.0zM63.0 276.3l2.5 4.4h-5.0zM64.7 276.8l2.5 4.4h-5.0zM66.4 278.4l2.5 4.4h-5.0zM68.2 279.9l2.5 4.4h-5.0zM69.9 279.5l2.5 4.4h-5.0zM71.6 281.6l2.5 4.4h-5.0zM73.3 283.4l2.5 4.4h-5.0zM75.1 283.7l2.5 4.4h-5.0zM76.8 284.9l2.5 4.4h-5.0zM78.5 286.8l2.5 4.4h-5.0zM80.2 287.1l2.5 4.4h-5.0zM82.0 288.1l2.5 4.4h-5.0zM83.7 290.2l2.5 4.4h-5.0zM85.4 289.8l2.5 4.4h-5.0zM87.1 290.7l2.5 4.4h-5.0zM88.9 291.6l2.5 4.4h-5.0zM90.6 293.2l2.5 4.4h-5.0zM92.3 293.1l2.5 4.4h-5.0zM94.0 293.6l2.5 4.4h-5.0zM95.8 294.2l2.5 4.4h-5.0zM97.5 295.6l2.5 4.4h-5.0zM99.2 295.1l2.5 4.4h-5.0zM101.0 296.8l2.5 4.4h-5.0zM102.7 296.8l2.5 4.4h-5.0zM104.4 296.4l2.5 4.4h-5.0zM106.1 298.0l2.5 4.4h-5.0zM107.9 298.3l2.5 4.4h-5.0zM109.6 297.7l2.5 4.4h-5.0zM111.3 298.9l2.5 4.4h-5.0zM113.0 299.2l2.5 4.4h-5.0zM114.8 299.1l2.5 4.4h-5.0zM116.5 299.0l2.5 4.4h-5.0zM118.2 301.1l2.5 4.4h-5.0zM119.9 300.6l2.5 4.4h-5.0zM121.7 301.0l2.5 4.4h-5.0zM123.4 301.3l2.5 4.4h-5.0zM125.1 301.4l2.5 4.4h-5.0zM126.8 301.7l2.5 4.4h-5.0zM128.6 301.3l2.5 4.4h-5.0zM130.3 302.2l2.5 4.4h-5.0zM132.0 301.8l2.5 4.4h-5.0zM133.7 301.9l2.5 4.4h-5.0zM135.5 302.7l2.5 4.4h-5.0zM137.2 302.4l2.5 4.4h-5.0zM138.9 301.8l2.5 4.4h-5.0zM140.6 302.7l2.5 4.4h-5.0zM142.4 303.3l2.5 4.4h-5.0zM144.1 303.2l2.5 4.4h-5.0zM145.8 303.7l2.5 4.4h-5.0zM147.5 303.4l2.5 4.4h-5.0zM149.3 303.3l2.5 4.4h-5.0zM151.0 304.2l2.5 4.4h-5.0zM152.7 304.1l2.5 4.4h-5.0zM154.4 303.7l2.5 4.4h-5.0zM156.2 304.6l2.5 4.4h-5.0zM157.9 304.5l2.5 4.4h-5.0zM159.6 305.2l2.5 4.4h-5.0zM161.4 305.2l2.5 4.4h-5.0zM163.1 305.2l2.5 4.4h-5.0zM164.8 304.2l2.5 4.4h-5.0zM166.5 305.4l2.5 4.4h-5.0zM168.3 305.5l2.5 4.4h-5.0zM170.0 305.6l2.5 4.4h-5.0zM171.7 305.5l2.5 4.4h-5.0zM173.4 305.3l2.5 4.4h-5.0zM175.2 305.6l2.5 4.4h-5.0zM176.9 304.9l2.5 4.4h-5.0zM178.6 305.7l2.5 4.4h-5.0zM180.3 305.3l2.5 4.4h-5.0zM182.1 305.9l2.5 4.4h-5.0zM183.8 305.8l2.5 4.4h-5.0zM185.5 306.6l2.5 4.4h-5.0zM187.2 306.3l2.5 4.4h-5.0zM189.0 306.3l2.5 4.4h-5.0zM190.7 306.5l2.5 4.4h-5.0zM192.4 307.2l2.5 4.4h-5.0zM194.1 306.3l2.5 4.4h-5.0zM195.9 306.8l2.5 4.4h-5.0zM197.6 306.9l2.5 4.4h-5.0zM199.3 306.9l2.5 4.4h-5.0zM201.0 307.0l2.5 4.4h-5.0zM202.8 306.9l2.5 4.4h-5.0zM204.5 307.5l2.5 4.4h-5.0zM206.2 307.5l2.5 4.4h-5.0zM207.9 307.3l2.5 4.4h-5.0zM209.7 307.4l2.5 4.4h-5.0zM211.4 307.7l2.5 4.4h-5.0zM213.1 307.9l2.5 4.4h-5.0zM214.8 308.0l2.5 4.4h-5.0zM216.6 307.9l2.5 4.4h-5.0z"/>
<path fill="#ff00ff" d="M57.8 275.2l2.5 -4.4h-5.0zM59.5 277.9l2.5 -4.4h-5.0zM61.3 277.1l2.5 -4.4h-5.0zM63.0 278.7l2.5 -4.4h-5.0zM64.7 280.8l2.5 -4.4h-5.0zM66.4 281.2l2.5 -4.4h-5.0zM68.2 284.0l2.5 -4.4h-5.0zM69.9 285.4l2.5 -4.4h-5.0zM71.6 286.4l2.5 -4.4h-5.0zM73.3 287.2l2.5 -4.4h-5.0zM75.1 288.6l2.5 -4.4h-5.0zM76.8 290.1l2.5 -4.4h-5.0zM78.5 291.0l2.5 -4.4h-5.0zM80.2 293.8l2.5 -4.4h-5.0zM82.0 293.3l2.5 -4.4h-5.0zM83.7 295.8l2.5 -4.4h-5.0zM85.4 296.5l2.5 -4.4h-5.0zM87.1 297.5l2.5 -4.4h-5.0zM88.9 299.0l2.5 -4.4h-5.0zM90.6 300.1l2.5 -4.4h-5.0zM92.3 300.8l2.5 -4.4h-5.0zM94.0 301.1l2.5 -4.4h-5.0zM95.8 301.6l2.5 -4.4h-5.0zM97.5 302.4l2.5 -4.4h-5.0zM99.2 304.1l2.5 -4.4h-5.0zM101.0 304.7l2.5 -4.4h-5.0zM102.7 305.5l2.5 -4.4h-5.0zM104.4 305.3l2.5 -4.4h-5.0zM106.1 307.5l2.5 -4.4h-5.0zM107.9 306.3l2.5 -4.4h-5.0zM109.6 308.0l2.5 -4.4h-5.0zM111.3 308.8l2.5 -4.4h-5.0zM113.0 308.9l2.5 -4.4h-5.0zM114.8 309.2l2.5 -4.4h-5.0zM116.5 310.3l2.5 -4.4h-5.0zM118.2 310.5l2.5 -4.4h-5.0zM119.9 311.6l2.5 -4.4h-5.0zM121.7 311.5l2.5 -4.4h-5.0zM123.4 312.1l2.5 -4.4h-5.0zM125.1 313.3l2.5 -4.4h-5.0zM126.8 313.0l2.5 -4.4h-5.0zM128.6 314.1l2.5 -4.4h-5.0zM130.3 314.5l2.5 -4.4h-5.0zM132.0 315.4l2.5 -4.4h-5.0zM133.7 315.5l2.5 -4.4h-5.0zM135.5 315.3l2.5 -4.4h-5.0zM137.2 316.7l2.5 -4.4h-5.0zM138.9 316.0l2.5 -4.4h-5.0zM140.6 316.5l2.5 -4.4h-5.0zM142.4 316.8l2.5 -4.4h-5.0zM144.1 318.3l2.5 -4.4h-5.0zM145.8 317.6l2.5 -4.4h-5.0zM147.5 317.5l2.5 -4.4h-5.0zM149.3 318.3l2.5 -4.4h-5.0zM151.0 318.2l2.5 -4.4h-5.0zM152.7 319.5l2.5 -4.4h-5.0zM154.4 318.4l2.5 -4.4h-5.0zM156.2 319.1l2.5 -4.4h-5.0zM157.9 318.7l2.5 -4.4h-5.0zM159.6 320.0l2.5 -4.4h-5.0zM161.4 319.1l2.5 -4.4h-5.0zM163.1 319.7l2.5 -4.4h-5.0zM164.8 319.5l2.5 -4.4h-5.0zM166.5 320.4l2.5 -4.4h-5.0zM168.3 320.4l2.5 -4.4h-5.0zM170.0 319.5l2.5 -4.4h-5.0zM171.7 320.9l2.5 -4.4h-5.0zM173.4 321.0l2.5 -4.4h-5.0zM175.2 321.0l2.5 -4.4h-5.0zM176.9 321.4l2.5 -4.4h-5.0zM178.6 320.7l2.5 -4.4h-5.0zM180.3 320.6l2.5 -4.4h-5.0zM182.1 321.6l2.5 -4.4h-5.0zM183.8 322.1l2.5 -4.4h-5.0zM185.5 321.1l2.5 -4.4h-5.0zM187.2 321.2l2.5 -4.4h-5.0zM189.0 321.4l2.5 -4.4h-5.0zM190.7 321.4l2.5 -4.4h-5.0zM192.4 322.2l2.5 -4.4h-5.0zM194.1 322.0l2.5 -4.4h-5.0zM195.9 322.5l2.5 -4.4h-5.0zM197.6 322.6l2.5 -4.4h-5.0zM199.3 322.0l2.5 -4.4h-5.0zM201.0 322.6l2.5 -4.4h-5.0zM202.8 321.8l2.5 -4.4h-5.0zM204.5 322.6l2.5 -4.4h-5.0zM206.2 323.0l2.5 -4.4h-5.0zM207.9 322.7l2.5 -4.4h-5.0zM209.7 322.5l2.5 -4.4h-5.0zM211.4 323.0l2.5 -4.4h-5.0zM213.1 323.7l2.5 -4.4h-5.0zM214.8 323.4l2.5 -4.4h-5.0zM216.6 323.3l2.5 -4.4h-5.0z"/>
<path fill="#0a850a" d="M57.8 276.1l2.6 2.6l-2.6 2.6l-2.6 -2.6zM59.5 277.5l2.6 2.6l-2.6 2.6l-2.6 -2.6zM61.3 277.4l2.6 2.6l-2.6 2.6l-2.6 -2.6zM63.0 279.2l2.6 2.6l-2.6 2.6l-2.6 -2.6zM64.7 281.2l2.6 2.6l-2.6 2.6l-2.6 -2.6zM66.4 281.8l2.6 2.6l-2.6 2.6l-2.6 -2.6zM68.2 283.2l2.6 2.6l-2.6 2.6l-2.6 -2.6zM69.9 283.6l2.6 2.6l-2.6 2.6l-2.6 -2.6zM71.6 284.8l2.6 2.6l-2.6 2.6l-2.6 -2.6zM73.3 285.1l2.6 2.6l-2.6 2.6l-2.6 -2.6zM75.1 286.4l2.6 2.6l-2.6 2.6l-2.6 -2.6zM76.8 289.0l2.6 2.6l-2.6 2.6l-2.6 -2.6zM78.5 288.8l2.6 2.6l-2.6 2.6l-2.6 -2.6zM80.2 289.6l2.6 2.6l-2.6 2.6l-2.6 -2.6zM82.0 291.0l2.6 2.6l-2.6 2.6l-2.6 -2.6zM83.7 291.9l2.6 2.6l-2.6 2.6l-2.6 -2.6zM85.4 294.1l2.6 2.6l-2.6 2.6l-2.6 -2.6zM87.1 295.6l2.6 2.6l-2.6 2.6l-2.6 -2.6zM88.9 295.5l2.6 2.6l-2.6 2.6l-2.6 -2.6zM90.6 297.9l2.6 2.6l-2.6 2.6l-2.6 -2.6zM92.3 299.7l2.6 2.6l-2.6 2.6l-2.6 -2.6zM94.0 298.8l2.6 2.6l-2.6 2.6l-2.6 -2.6zM95.8 300.9l2.6 2.6l-2.6 2.6l-2.6 -2.6zM97.5 301.7l2.6 2.6l-2.6 2.6l-2.6 -2.6zM99.2 303.3l2.6 2.6l-2.6 2.6l-2.6 -2.6zM101.0 304.1l2.6 2.6l-2.6 2.6l-2.6 -2.6zM102.7 304.9l2.6 2.6l-2.6 2.6l-2.6 -2.6zM104.4 305.3l2.6 2.6l-2.6 2.6l-2.6 -2.6zM106.1 305.6l2.6 2.6l-2.6 2.6l-2.6 -2.6zM107.9 307.9l2.6 2.6l-2.6 2.6l-2.6 -2.6zM109.6 306.9l2.6 2.6l-2.6 2.6l-2.6 -2.6zM111.3 308.6l2.6 2.6l-2.6 2.6l-2.6 -2.6zM113.0 309.2l2.6 2.6l-2.6 2.6l-2.6 -2.6zM114.8 308.8l2.6 2.6l-2.6 2.6l-2.6 -2.6zM116.5 309.9l2.6 2.6l-2.6 2.6l-2.6 -2.6zM118.2 311.3l2.6 2.6l-2.6 2.6l-2.6 -2.6zM119.9 310.0l2.6 2.6l-2.6 2.6l-2.6 -2.6zM121.7 312.0l2.6 2.6l-2.6 2.6l-2.6 -2.6zM123.4 312.0l2.6 2.6l-2.6 2.6l-2.6 -2.6zM125.1 312.6l2.6 2.6l-2.6 2.6l-2.6 -2.6zM126.8 312.5l2.6 2.6l-2.6 2.6l-2.6 -2.6zM128.6 314.0l2.6 2.6l-2.6 2.6l-2.6 -2.6zM130.3 313.7l2.6 2.6l-2.6 2.6l-2.6 -2.6zM132.0 315.1l2.6 2.6l-2.6 2.6l-2.6 -2.6zM133.7 314.7l2.6 2.6l-2.6 2.6l-2.6 -2.6zM135.5 316.1l2.6 2.6l-2.6 2.6l-2.6 -2.6zM137.2 316.4l2.6 2.6l-2.6 2.6l-2.6 -2.6zM138.9 315.7l2.6 2.6l-2.6 2.6l-2.6 -2.6zM140.6 316.9l2.6 2.6l-2.6 2.6l-2.6 -2.6zM142.4 317.4l2.6 2.6l-2.6 2.6l-2.6 -2.6zM144.1 316.8l2.6 2.6l-2.6 2.6l-2.6 -2.6zM145.8 318.1l2.6 2.6l-2.6 2.6l-2.6 -2.6zM147.5 318.9l2.6 2.6l-2.6 2.6l-2.6 -2.6zM149.3 318.5l2.6 2.6l-2.6 2.6l-2.6 -2.6zM151.0 319.7l2.6 2.6l-2.6 2.6l-2.6 -2.6zM152.7 318.9l2.6 2.6l-2.6 2.6l-2.6 -2.6zM154.4 319.2l2.6 2.6l-2.6 2.6l-2.6 -2.6zM156.2 320.2l2.6 2.6l-2.6 2.6l-2.6 -2.6zM157.9 320.5l2.6 2.6l-2.6 2.6l-2.6 -2.6zM159.6 320.4l2.6 2.6l-2.6 2.6l-2.6 -2.6zM161.4 320.7l2.6 2.6l-2.6 2.6l-2.6 -2.6zM163.1 321.3l2.6 2.6l-2.6 2.6l-2.6 -2.6zM164.8 320.8l2.6 2.6l-2.6 2.6l-2.6 -2.6zM166.5 322.1l2.6 2.6l-2.6 2.6l-2.6 -2.6zM168.3 321.6l2.6 2.6l-2.6 2.6l-2.6 -2.6zM170.0 321.8l2.6 2.6l-2.6 2.6l-2.6 -2.6zM171.7 321.9l2.6 2.6l-2.6 2.6l-2.6 -2.6zM173.4 321.9l2.6 2.6l-2.6 2.6l-2.6 -2.6zM175.2 322.6l2.6 2.6l-2.6 2.6l-2.6 -2.6zM176.9 322.1l2.6 2.6l-2.6 2.6l-2.6 -2.6zM178.6 322.5l2.6 2.6l-2.6 2.6l-2.6 -2.6zM180.3 322.8l2.6 2.6l-2.6 2.6l-2.6 -2.6zM182.1 323.3l2.6 2.6l-2.6 2.6l-2.6 -2.6zM183.8 323.3l2.6 2.6l-2.6 2.6l-2.6 -2.6zM185.5 322.9l2.6 2.6l-2.6 2.6l-2.6 -2.6zM187.2 323.6l2.6 2.6l-2.6 2.6l-2.6 -2.6zM189.0 323.3l2.6 2.6l-2.6 2.6l-2.6 -2.6zM190.7 323.1l2.6 2.6l-2.6 2.6l-2.6 -2.6zM192.4 323.3l2.6 2.6l-2.6 2.6l-2.6 -2.6zM194.1 323.2l2.6 2.6l-2.6 2.6l-2.6 -2.6zM195.9 323.9l2.6 2.6l-2.6 2.6l-2.6 -2.6zM197.6 324.3l2.6 2.6l-2.6 2.6l-2.6 -2.6zM199.3 323.7l2.6 2.6l-2.6 2.6l-2.6 -2.6zM201.0 324.0l2.6 2.6l-2.6 2.6l-2.6 -2.6zM202.8 323.8l2.6 2.6l-2.6 2.6l-2.6 -2.6zM204.5 324.2l2.6 2.6l-2.6 2.6l-2.6 -2.6zM206.2 323.9l2.6 2.6l-2.6 2.6l-2.6 -2.6zM207.9 324.1l2.6 2.6l-2.6 2.6l-2.6 -2.6zM209.7 324.2l2.6 2.6l-2.6 2.6l-2.6 -2.6zM211.4 324.3l2.6 2.6l-2.6 2.6l-2.6 -2.6zM213.1 324.3l2.6 2.6l-2.6 2.6l-2.6 -2.6zM214.8 324.4l2.6 2.6l-2.6 2.6l-2.6 -2.6zM216.6 324.4l2.6 2.6l-2.6 2.6l-2.6 -2.6z"/>
<polyline fill="none" stroke="#000000" stroke-width="1.2" points="57.8,306.4 59.8,306.3 61.8,306.2 63.8,306.1 65.9,305.8 67.9,305.4 69.9,304.6 71.9,303.5 73.9,302.6 75.9,302.3 77.9,302.3 79.9,302.6 81.9,303.0 83.9,303.5 86.0,304.1 88.0,304.6 90.0,305.1 92.0,305.4 94.0,305.8 96.0,306.1 98.0,306.4 100.0,306.7 102.0,307.1 104.1,307.4 106.1,307.9 108.1,308.4 110.1,309.1 112.1,309.8 114.1,310.6 116.1,311.3 118.1,311.9 120.1,312.3 122.2,312.8 124.2,313.1 126.2,313.5 128.2,313.9 130.2,314.2 132.2,314.6 134.2,314.9 136.2,315.3 138.2,315.6 140.2,315.9 142.3,316.3 144.3,316.6 146.3,317.0 148.3,317.4 150.3,317.8 152.3,318.2 154.3,318.6 156.3,319.1 158.3,319.5 160.4,319.8 162.4,320.2 164.4,320.4 166.4,320.7 168.4,320.9 170.4,321.1 172.4,321.3 174.4,321.5 176.4,321.7 178.4,321.9 180.5,322.0 182.5,322.2 184.5,322.4 186.5,322.6 188.5,322.7 190.5,322.9 192.5,323.0 194.5,323.2 196.5,323.3 198.6,323.4 200.6,323.4 202.6,323.5 204.6,323.6 206.6,323.7 208.6,323.8 210.6,323.8 212.6,323.8 214.6,323.9 216.7,323.9"/>
<polyline fill="none" stroke="#dd0000" stroke-width="1.2" points="57.8,285.1 59.8,286.5 61.8,287.8 63.8,289.1 65.9,290.2 67.9,291.1 69.9,292.0 71.9,292.7 73.9,293.3 75.9,293.9 77.9,294.5 79.9,295.1 81.9,295.7 83.9,296.4 86.0,297.1 88.0,297.7 90.0,298.4 92.0,299.0 94.0,299.6 96.0,300.2 98.0,300.7 100.0,301.2 102.0,301.7 104.1,302.1 106.1,302.5 108.1,302.8 110.1,303.2 112.1,303.5 114.1,303.9 116.1,304.2 118.1,304.5 120.1,304.8 122.2,305.1 124.2,305.4 126.2,305.7 128.2,306.0 130.2,306.2 132.2,306.4 134.2,306.6 136.2,306.8 138.2,307.0 140.2,307.2 142.3,307.4 144.3,307.5 146.3,307.7 148.3,307.9 150.3,308.0 152.3,308.2 154.3,308.3 156.3,308.5 158.3,308.7 160.4,308.8 162.4,309.0 164.4,309.1 166.4,309.2 168.4,309.4 170.4,309.5 172.4,309.7 174.4,309.8 176.4,309.9 178.4,310.1 180.5,310.2 182.5,310.3 184.5,310.5 186.5,310.6 188.5,310.7 190.5,310.9 192.5,311.0 194.5,311.1 196.5,311.2 198.6,311.3 200.6,311.5 202.6,311.6 204.6,311.7 206.6,311.8 208.6,311.9 210.6,312.0 212.6,312.1 214.6,312.2 216.7,312.3"/>
<polyline fill="none" stroke="#0000cc" stroke-width="1.2" points="57.8,275.5 59.8,276.9 61.8,278.3 63.8,279.6 65.9,280.9 67.9,282.2 69.9,283.5 71.9,284.8 73.9,286.0 75.9,287.2 77.9,288.4 79.9,289.5 81.9,290.5 83.9,291.5 86.0,292.5 88.0,293.4 90.0,294.3 92.0,295.2 94.0,296.0 96.0,296.8 98.0,297.6 100.0,298.3 102.0,298.9 104.1,299.5 106.1,300.1 108.1,300.6 110.1,301.0 112.1,301.3 114.1,301.7 116.1,302.0 118.1,302.3 120.1,302.7 122.2,303.0 124.2,303.3 126.2,303.6 128.2,303.9 130.2,304.2 132.2,304.4 134.2,304.7 136.2,304.9 138.2,305.1 140.2,305.3 142.3,305.5 144.3,305.7 146.3,305.9 148.3,306.1 150.3,306.3 152.3,306.5 154.3,306.7 156.3,306.9 158.3,307.1 160.4,307.3 162.4,307.4 164.4,307.6 166.4,307.7 168.4,307.8 170.4,307.9 172.4,308.0 174.4,308.1 176.4,308.2 178.4,308.3 180.5,308.4 182.5,308.5 184.5,308.6 186.5,308.7 188.5,308.8 190.5,308.9 192.5,309.0 194.5,309.1 196.5,309.2 198.6,309.3 200.6,309.4 202.6,309.5 204.6,309.6 206.6,309.8 208.6,309.9 210.6,310.0 212.6,310.2 214.6,310.3 216.7,310.4"/>
<polyline fill="none" stroke="#ee00ee" stroke-width="1.2" points="57.8,273.5 59.8,274.8 61.8,276.1 63.8,277.4 65.9,278.8 67.9,280.2 69.9,281.7 71.9,283.3 73.9,284.9 75.9,286.5 77.9,288.1 79.9,289.7 81.9,291.1 83.9,292.6 86.0,293.9 88.0,295.2 90.0,296.4 92.0,297.5 94.0,298.6 96.0,299.5 98.0,300.5 100.0,301.3 102.0,302.2 104.1,303.0 106.1,303.7 108.1,304.6 110.1,305.4 112.1,306.2 114.1,307.1 116.1,307.8 118.1,308.5 120.1,309.2 122.2,309.9 124.2,310.5 126.2,311.0 128.2,311.6 130.2,312.0 132.2,312.5 134.2,312.9 136.2,313.3 138.2,313.7 140.2,314.1 142.3,314.4 144.3,314.8 146.3,315.1 148.3,315.4 150.3,315.6 152.3,315.9 154.3,316.1 156.3,316.4 158.3,316.6 160.4,316.8 162.4,317.0 164.4,317.3 166.4,317.5 168.4,317.7 170.4,317.9 172.4,318.1 174.4,318.3 176.4,318.5 178.4,318.7 180.5,318.8 182.5,318.9 184.5,319.0 186.5,319.1 188.5,319.2 190.5,319.3 192.5,319.4 194.5,319.5 196.5,319.6 198.6,319.7 200.6,319.9 202.6,320.0 204.6,320.1 206.6,320.3 208.6,320.4 210.6,320.6 212.6,320.8 214.6,321.0 216.7,321.1"/>
<polyline fill="none" stroke="#008000" stroke-width="1.2" points="57.8,278.4 59.8,279.8 61.8,281.1 63.8,282.5 65.9,283.8 67.9,285.1 69.9,286.4 71.9,287.6 73.9,288.8 75.9,290.0 77.9,291.3 79.9,292.6 81.9,293.9 83.9,295.3 86.0,296.7 88.0,298.1 90.0,299.5 92.0,300.7 94.0,302.0 96.0,303.2 98.0,304.4 100.0,305.5 102.0,306.5 104.1,307.5 106.1,308.4 108.1,309.3 110.1,310.1 112.1,310.9 114.1,311.6 116.1,312.3 118.1,313.0 120.1,313.7 122.2,314.3 124.2,315.0 126.2,315.6 128.2,316.2 130.2,316.8 132.2,317.4 134.2,318.0 136.2,318.5 138.2,319.1 140.2,319.6 142.3,320.1 144.3,320.5 146.3,320.9 148.3,321.3 150.3,321.7 152.3,322.0 154.3,322.3 156.3,322.6 158.3,322.9 160.4,323.1 162.4,323.4 164.4,323.6 166.4,323.9 168.4,324.1 170.4,324.3 172.4,324.5 174.4,324.7 176.4,324.9 178.4,325.0 180.5,325.2 182.5,325.4 184.5,325.6 186.5,325.8 188.5,325.9 190.5,326.1 192.5,326.2 194.5,326.3 196.5,326.4 198.6,326.5 200.6,326.6 202.6,326.7 204.6,326.8 206.6,326.9 208.6,326.9 210.6,327.0 212.6,327.0 214.6,327.1 216.7,327.1"/>
</g>
<g clip-path="url(#cpe)">
<path fill="#000000" d="M278.1 203.5h3.7v3.7h-3.7zM279.8 206.1h3.7v3.7h-3.7zM281.5 205.4h3.7v3.7h-3.7zM283.3 208.5h3.7v3.7h-3.7zM285.0 209.1h3.7v3.7h-3.7zM286.7 211.8h3.7v3.7h-3.7zM288.4 213.7h3.7v3.7h-3.7zM290.2 213.6h3.7v3.7h-3.7zM291.9 217.8h3.7v3.7h-3.7zM293.6 220.9h3.7v3.7h-3.7zM295.4 222.7h3.7v3.7h-3.7zM297.1 224.7h3.7v3.7h-3.7zM298.8 224.8h3.7v3.7h-3.7zM300.5 228.6h3.7v3.7h-3.7zM302.3 230.1h3.7v3.7h-3.7zM304.0 233.8h3.7v3.7h-3.7zM305.7 234.7h3.7v3.7h-3.7zM307.4 236.4h3.7v3.7h-3.7zM309.2 237.5h3.7v3.7h-3.7zM310.9 241.5h3.7v3.7h-3.7zM312.6 242.6h3.7v3.7h-3.7zM314.4 244.9h3.7v3.7h-3.7zM316.1 248.0h3.7v3.7h-3.7zM317.8 249.3h3.7v3.7h-3.7zM319.5 251.6h3.7v3.7h-3.7zM321.3 255.3h3.7v3.7h-3.7zM323.0 255.2h3.7v3.7h-3.7zM324.7 257.4h3.7v3.7h-3.7zM326.4 260.3h3.7v3.7h-3.7zM328.2 263.1h3.7v3.7h-3.7zM329.9 263.1h3.7v3.7h-3.7zM331.6 266.0h3.7v3.7h-3.7zM333.4 267.3h3.7v3.7h-3.7zM335.1 268.8h3.7v3.7h-3.7zM336.8 271.7h3.7v3.7h-3.7zM338.5 272.3h3.7v3.7h-3.7zM340.3 274.5h3.7v3.7h-3.7zM342.0 275.8h3.7v3.7h-3.7zM343.7 277.2h3.7v3.7h-3.7zM345.5 278.4h3.7v3.7h-3.7zM347.2 278.9h3.7v3.7h-3.7zM348.9 280.8h3.7v3.7h-3.7zM350.6 282.2h3.7v3.7h-3.7zM352.4 283.4h3.7v3.7h-3.7zM354.1 284.2h3.7v3.7h-3.7zM355.8 286.0h3.7v3.7h-3.7zM357.5 286.8h3.7v3.7h-3.7zM359.3 287.6h3.7v3.7h-3.7zM361.0 288.9h3.7v3.7h-3.7zM362.7 289.5h3.7v3.7h-3.7zM364.5 290.8h3.7v3.7h-3.7zM366.2 290.1h3.7v3.7h-3.7zM367.9 291.4h3.7v3.7h-3.7zM369.6 292.9h3.7v3.7h-3.7zM371.4 294.1h3.7v3.7h-3.7zM373.1 293.7h3.7v3.7h-3.7zM374.8 295.6h3.7v3.7h-3.7zM376.5 296.8h3.7v3.7h-3.7zM378.3 297.5h3.7v3.7h-3.7zM380.0 298.4h3.7v3.7h-3.7zM381.7 298.7h3.7v3.7h-3.7zM383.5 300.4h3.7v3.7h-3.7zM385.2 300.1h3.7v3.7h-3.7zM386.9 302.6h3.7v3.7h-3.7zM388.6 302.6h3.7v3.7h-3.7zM390.4 304.3h3.7v3.7h-3.7zM392.1 303.6h3.7v3.7h-3.7zM393.8 305.5h3.7v3.7h-3.7zM395.5 306.1h3.7v3.7h-3.7zM397.3 306.3h3.7v3.7h-3.7zM399.0 306.8h3.7v3.7h-3.7zM400.7 308.5h3.7v3.7h-3.7zM402.5 308.8h3.7v3.7h-3.7zM404.2 309.9h3.7v3.7h-3.7zM405.9 309.7h3.7v3.7h-3.7zM407.6 310.4h3.7v3.7h-3.7zM409.4 311.1h3.7v3.7h-3.7zM411.1 311.8h3.7v3.7h-3.7zM412.8 312.3h3.7v3.7h-3.7zM414.5 313.0h3.7v3.7h-3.7zM416.3 313.1h3.7v3.7h-3.7zM418.0 313.3h3.7v3.7h-3.7zM419.7 315.4h3.7v3.7h-3.7zM421.5 315.3h3.7v3.7h-3.7zM423.2 316.1h3.7v3.7h-3.7zM424.9 316.4h3.7v3.7h-3.7zM426.6 317.6h3.7v3.7h-3.7zM428.4 318.0h3.7v3.7h-3.7zM430.1 319.0h3.7v3.7h-3.7zM431.8 319.1h3.7v3.7h-3.7zM433.5 320.0h3.7v3.7h-3.7zM435.3 320.7h3.7v3.7h-3.7zM437.0 321.3h3.7v3.7h-3.7z"/>
<path fill="#ee0000" d="M277.9 203.2a2.0 2.0 0 1 0 4.0 0a2.0 2.0 0 1 0 -4.0 0zM279.7 206.0a2.0 2.0 0 1 0 4.0 0a2.0 2.0 0 1 0 -4.0 0zM281.4 205.8a2.0 2.0 0 1 0 4.0 0a2.0 2.0 0 1 0 -4.0 0zM283.1 207.9a2.0 2.0 0 1 0 4.0 0a2.0 2.0 0 1 0 -4.0 0zM284.8 210.2a2.0 2.0 0 1 0 4.0 0a2.0 2.0 0 1 0 -4.0 0zM286.6 211.3a2.0 2.0 0 1 0 4.0 0a2.0 2.0 0 1 0 -4.0 0zM288.3 213.2a2.0 2.0 0 1 0 4.0 0a2.0 2.0 0 1 0 -4.0 0zM290.0 217.6a2.0 2.0 0 1 0 4.0 0a2.0 2.0 0 1 0 -4.0 0zM291.7 219.8a2.0 2.0 0 1 0 4.0 0a2.0 2.0 0 1 0 -4.0 0zM293.5 220.5a2.0 2.0 0 1 0 4.0 0a2.0 2.0 0 1 0 -4.0 0zM295.2 223.2a2.0 2.0 0 1 0 4.0 0a2.0 2.0 0 1 0 -4.0 0zM296.9 227.7a2.0 2.0 0 1 0 4.0 0a2.0 2.0 0 1 0 -4.0 0zM298.7 230.6a2.0 2.0 0 1 0 4.0 0a2.0 2.0 0 1 0 -4.0 0zM300.4 232.5a2.0 2.0 0 1 0 4.0 0a2.0 2.0 0 1 0 -4.0 0zM302.1 234.6a2.0 2.0 0 1 0 4.0 0a2.0 2.0 0 1 0 -4.0 0zM303.8 237.6a2.0 2.0 0 1 0 4.0 0a2.0 2.0 0 1 0 -4.0 0zM305.6 238.3a2.0 2.0 0 1 0 4.0 0a2.0 2.0 0 1 0 -4.0 0zM307.3 241.4a2.0 2.0 0 1 0 4.0 0a2.0 2.0 0 1 0 -4.0 0zM309.0 243.3a2.0 2.0 0 1 0 4.0 0a2.0 2.0 0 1 0 -4.0 0zM310.8 243.6a2.0 2.0 0 1 0 4.0 0a2.0 2.0 0 1 0 -4.0 0zM312.5 246.9a2.0 2.0 0 1 0 4.0 0a2.0 2.0 0 1 0 -4.0 0zM314.2 248.5a2.0 2.0 0 1 0 4.0 0a2.0 2.0 0 1 0 -4.0 0zM315.9 249.9a2.0 2.0 0 1 0 4.0 0a2.0 2.0 0 1 0 -4.0 0zM317.7 251.9a2.0 2.0 0 1 0 4.0 0a2.0 2.0 0 1 0 -4.0 0zM319.4 254.8a2.0 2.0 0 1 0 4.0 0a2.0 2.0 0 1 0 -4.0 0zM321.1 256.6a2.0 2.0 0 1 0 4.0 0a2.0 2.0 0 1 0 -4.0 0zM322.8 259.4a2.0 2.0 0 1 0 4.0 0a2.0 2.0 0 1 0 -4.0 0zM324.6 259.6a2.0 2.0 0 1 0 4.0 0a2.0 2.0 0 1 0 -4.0 0zM326.3 262.7a2.0 2.0 0 1 0 4.0 0a2.0 2.0 0 1 0 -4.0 0zM328.0 266.3a2.0 2.0 0 1 0 4.0 0a2.0 2.0 0 1 0 -4.0 0zM329.8 267.8a2.0 2.0 0 1 0 4.0 0a2.0 2.0 0 1 0 -4.0 0zM331.5 269.4a2.0 2.0 0 1 0 4.0 0a2.0 2.0 0 1 0 -4.0 0zM333.2 271.5a2.0 2.0 0 1 0 4.0 0a2.0 2.0 0 1 0 -4.0 0zM334.9 272.3a2.0 2.0 0 1 0 4.0 0a2.0 2.0 0 1 0 -4.0 0zM336.7 274.2a2.0 2.0 0 1 0 4.0 0a2.0 2.0 0 1 0 -4.0 0zM338.4 277.0a2.0 2.0 0 1 0 4.0 0a2.0 2.0 0 1 0 -4.0 0zM340.1 278.1a2.0 2.0 0 1 0 4.0 0a2.0 2.0 0 1 0 -4.0 0zM341.8 280.2a2.0 2.0 0 1 0 4.0 0a2.0 2.0 0 1 0 -4.0 0zM343.6 280.4a2.0 2.0 0 1 0 4.0 0a2.0 2.0 0 1 0 -4.0 0zM345.3 281.6a2.0 2.0 0 1 0 4.0 0a2.0 2.0 0 1 0 -4.0 0zM347.0 281.1a2.0 2.0 0 1 0 4.0 0a2.0 2.0 0 1 0 -4.0 0zM348.8 283.9a2.0 2.0 0 1 0 4.0 0a2.0 2.0 0 1 0 -4.0 0zM350.5 286.5a2.0 2.0 0 1 0 4.0 0a2.0 2.0 0 1 0 -4.0 0zM352.2 286.6a2.0 2.0 0 1 0 4.0 0a2.0 2.0 0 1 0 -4.0 0zM353.9 287.2a2.0 2.0 0 1 0 4.0 0a2.0 2.0 0 1 0 -4.0 0zM355.7 289.1a2.0 2.0 0 1 0 4.0 0a2.0 2.0 0 1 0 -4.0 0zM357.4 289.9a2.0 2.0 0 1 0 4.0 0a2.0 2.0 0 1 0 -4.0 0zM359.1 290.6a2.0 2.0 0 1 0 4.0 0a2.0 2.0 0 1 0 -4.0 0zM360.8 291.2a2.0 2.0 0 1 0 4.0 0a2.0 2.0 0 1 0 -4.0 0zM362.6 292.4a2.0 2.0 0 1 0 4.0 0a2.0 2.0 0 1 0 -4.0 0zM364.3 293.8a2.0 2.0 0 1 0 4.0 0a2.0 2.0 0 1 0 -4.0 0zM366.0 293.8a2.0 2.0 0 1 0 4.0 0a2.0 2.0 0 1 0 -4.0 0zM367.8 295.5a2.0 2.0 0 1 0 4.0 0a2.0 2.0 0 1 0 -4.0 0zM369.5 296.3a2.0 2.0 0 1 0 4.0 0a2.0 2.0 0 1 0 -4.0 0zM371.2 297.7a2.0 2.0 0 1 0 4.0 0a2.0 2.0 0 1 0 -4.0 0zM372.9 298.3a2.0 2.0 0 1 0 4.0 0a2.0 2.0 0 1 0 -4.0 0zM374.7 298.3a2.0 2.0 0 1 0 4.0 0a2.0 2.0 0 1 0 -4.0 0zM376.4 300.4a2.0 2.0 0 1 0 4.0 0a2.0 2.0 0 1 0 -4.0 0zM378.1 300.4a2.0 2.0 0 1 0 4.0 0a2.0 2.0 0 1 0 -4.0 0zM379.8 300.8a2.0 2.0 0 1 0 4.0 0a2.0 2.0 0 1 0 -4.0 0zM381.6 302.2a2.0 2.0 0 1 0 4.0 0a2.0 2.0 0 1 0 -4.0 0zM383.3 302.6a2.0 2.0 0 1 0 4.0 0a2.0 2.0 0 1 0 -4.0 0zM385.0 304.1a2.0 2.0 0 1 0 4.0 0a2.0 2.0 0 1 0 -4.0 0zM386.8 303.6a2.0 2.0 0 1 0 4.0 0a2.0 2.0 0 1 0 -4.0 0zM388.5 304.5a2.0 2.0 0 1 0 4.0 0a2.0 2.0 0 1 0 -4.0 0zM390.2 305.7a2.0 2.0 0 1 0 4.0 0a2.0 2.0 0 1 0 -4.0 0zM391.9 307.4a2.0 2.0 0 1 0 4.0 0a2.0 2.0 0 1 0 -4.0 0zM393.7 307.7a2.0 2.0 0 1 0 4.0 0a2.0 2.0 0 1 0 -4.0 0zM395.4 307.4a2.0 2.0 0 1 0 4.0 0a2.0 2.0 0 1 0 -4.0 0zM397.1 307.7a2.0 2.0 0 1 0 4.0 0a2.0 2.0 0 1 0 -4.0 0zM398.9 309.0a2.0 2.0 0 1 0 4.0 0a2.0 2.0 0 1 0 -4.0 0zM400.6 309.2a2.0 2.0 0 1 0 4.0 0a2.0 2.0 0 1 0 -4.0 0zM402.3 310.7a2.0 2.0 0 1 0 4.0 0a2.0 2.0 0 1 0 -4.0 0zM404.0 311.1a2.0 2.0 0 1 0 4.0 0a2.0 2.0 0 1 0 -4.0 0zM405.8 311.6a2.0 2.0 0 1 0 4.0 0a2.0 2.0 0 1 0 -4.0 0zM407.5 312.0a2.0 2.0 0 1 0 4.0 0a2.0 2.0 0 1 0 -4.0 0zM409.2 313.5a2.0 2.0 0 1 0 4.0 0a2.0 2.0 0 1 0 -4.0 0zM410.9 313.0a2.0 2.0 0 1 0 4.0 0a2.0 2.0 0 1 0 -4.0 0zM412.7 313.4a2.0 2.0 0 1 0 4.0 0a2.0 2.0 0 1 0 -4.0 0zM414.4 315.1a2.0 2.0 0 1 0 4.0 0a2.0 2.0 0 1 0 -4.0 0zM416.1 315.8a2.0 2.0 0 1 0 4.0 0a2.0 2.0 0 1 0 -4.0 0zM417.9 315.6a2.0 2.0 0 1 0 4.0 0a2.0 2.0 0 1 0 -4.0 0zM419.6 316.7a2.0 2.0 0 1 0 4.0 0a2.0 2.0 0 1 0 -4.0 0zM421.3 317.9a2.0 2.0 0 1 0 4.0 0a2.0 2.0 0 1 0 -4.0 0zM423.0 317.3a2.0 2.0 0 1 0 4.0 0a2.0 2.0 0 1 0 -4.0 0zM424.8 318.1a2.0 2.0 0 1 0 4.0 0a2.0 2.0 0 1 0 -4.0 0zM426.5 319.0a2.0 2.0 0 1 0 4.0 0a2.0 2.0 0 1 0 -4.0 0zM428.2 318.6a2.0 2.0 0 1 0 4.0 0a2.0 2.0 0 1 0 -4.0 0zM429.9 319.9a2.0 2.0 0 1 0 4.0 0a2.0 2.0 0 1 0 -4.0 0zM431.7 320.9a2.0 2.0 0 1 0 4.0 0a2.0 2.0 0 1 0 -4.0 0zM433.4 321.2a2.0 2.0 0 1 0 4.0 0a2.0 2.0 0 1 0 -4.0 0zM435.1 322.2a2.0 2.0 0 1 0 4.0 0a2.0 2.0 0 1 0 -4.0 0zM436.9 322.7a2.0 2.0 0 1 0 4.0 0a2.0 2.0 0 1 0 -4.0 0z"/>
<path fill="#0000ee" d="M279.9 207.9l2.5 4.4h-5.0zM281.7 210.3l2.5 4.4h-5.0zM283.4 211.7l2.5 4.4h-5.0zM285.1 211.4l2.5 4.4h-5.0zM286.8 213.9l2.5 4.4h-5.0zM288.6 215.7l2.5 4.4h-5.0zM290.3 217.9l2.5 4.4h-5.0zM292.0 219.9l2.5 4.4h-5.0zM293.7 221.1l2.5 4.4h-5.0zM295.5 224.5l2.5 4.4h-5.0zM297.2 225.1l2.5 4.4h-5.0zM298.9 229.8l2.5 4.4h-5.0zM300.7 231.4l2.5 4.4h-5.0zM302.4 234.6l2.5 4.4h-5.0zM304.1 236.0l2.5 4.4h-5.0zM305.8 237.5l2.5 4.4h-5.0zM307.6 239.0l2.5 4.4h-5.0zM309.3 243.0l2.5 4.4h-5.0zM311.0 244.7l2.5 4.4h-5.0zM312.8 247.2l2.5 4.4h-5.0zM314.5 249.7l2.5 4.4h-5.0zM316.2 252.1l2.5 4.4h-5.0zM317.9 253.2l2.5 4.4h-5.0zM319.7 256.7l2.5 4.4h-5.0zM321.4 257.3l2.5 4.4h-5.0zM323.1 259.4l2.5 4.4h-5.0zM324.8 262.0l2.5 4.4h-5.0zM326.6 264.4l2.5 4.4h-5.0zM328.3 266.9l2.5 4.4h-5.0zM330.0 266.8l2.5 4.4h-5.0zM331.8 271.5l2.5 4.4h-5.0zM333.5 271.5l2.5 4.4h-5.0zM335.2 274.1l2.5 4.4h-5.0zM336.9 276.5l2.5 4.4h-5.0zM338.7 278.5l2.5 4.4h-5.0zM340.4 278.3l2.5 4.4h-5.0zM342.1 279.1l2.5 4.4h-5.0zM343.8 282.2l2.5 4.4h-5.0zM345.6 282.9l2.5 4.4h-5.0zM347.3 283.1l2.5 4.4h-5.0zM349.0 284.6l2.5 4.4h-5.0zM350.8 284.5l2.5 4.4h-5.0zM352.5 287.3l2.5 4.4h-5.0zM354.2 287.6l2.5 4.4h-5.0zM355.9 289.8l2.5 4.4h-5.0zM357.7 288.6l2.5 4.4h-5.0zM359.4 291.5l2.5 4.4h-5.0zM361.1 293.4l2.5 4.4h-5.0zM362.8 293.1l2.5 4.4h-5.0zM364.6 294.1l2.5 4.4h-5.0zM366.3 293.8l2.5 4.4h-5.0zM368.0 296.1l2.5 4.4h-5.0zM369.8 296.8l2.5 4.4h-5.0zM371.5 297.4l2.5 4.4h-5.0zM373.2 297.7l2.5 4.4h-5.0zM374.9 299.5l2.5 4.4h-5.0zM376.7 299.6l2.5 4.4h-5.0zM378.4 300.7l2.5 4.4h-5.0zM380.1 301.9l2.5 4.4h-5.0zM381.8 302.5l2.5 4.4h-5.0zM383.6 303.2l2.5 4.4h-5.0zM385.3 304.4l2.5 4.4h-5.0zM387.0 303.9l2.5 4.4h-5.0zM388.8 306.0l2.5 4.4h-5.0zM390.5 305.3l2.5 4.4h-5.0zM392.2 306.1l2.5 4.4h-5.0zM393.9 307.3l2.5 4.4h-5.0zM395.7 308.3l2.5 4.4h-5.0zM397.4 308.6l2.5 4.4h-5.0zM399.1 308.9l2.5 4.4h-5.0zM400.9 309.4l2.5 4.4h-5.0zM402.6 310.2l2.5 4.4h-5.0zM404.3 310.5l2.5 4.4h-5.0zM406.0 311.9l2.5 4.4h-5.0zM407.8 312.1l2.5 4.4h-5.0zM409.5 313.5l2.5 4.4h-5.0zM411.2 313.0l2.5 4.4h-5.0zM412.9 313.9l2.5 4.4h-5.0zM414.7 314.7l2.5 4.4h-5.0zM416.4 314.7l2.5 4.4h-5.0zM418.1 315.5l2.5 4.4h-5.0zM419.9 317.5l2.5 4.4h-5.0zM421.6 317.0l2.5 4.4h-5.0zM423.3 318.2l2.5 4.4h-5.0zM425.0 317.8l2.5 4.4h-5.0zM426.8 317.8l2.5 4.4h-5.0zM428.5 319.6l2.5 4.4h-5.0zM430.2 320.0l2.5 4.4h-5.0zM431.9 320.7l2.5 4.4h-5.0zM433.7 321.1l2.5 4.4h-5.0zM435.4 321.6l2.5 4.4h-5.0zM437.1 322.0l2.5 4.4h-5.0zM438.9 323.4l2.5 4.4h-5.0z"/>
<path fill="#ff00ff" d="M279.9 227.6l2.5 -4.4h-5.0zM281.7 231.7l2.5 -4.4h-5.0zM283.4 232.4l2.5 -4.4h-5.0zM285.1 233.4l2.5 -4.4h-5.0zM286.8 235.7l2.5 -4.4h-5.0zM288.6 239.2l2.5 -4.4h-5.0zM290.3 241.0l2.5 -4.4h-5.0zM292.0 242.9l2.5 -4.4h-5.0zM293.7 244.7l2.5 -4.4h-5.0zM295.5 245.8l2.5 -4.4h-5.0zM297.2 250.1l2.5 -4.4h-5.0zM298.9 250.8l2.5 -4.4h-5.0zM300.7 252.7l2.5 -4.4h-5.0zM302.4 254.7l2.5 -4.4h-5.0zM304.1 256.7l2.5 -4.4h-5.0zM305.8 257.6l2.5 -4.4h-5.0zM307.6 260.2l2.5 -4.4h-5.0zM309.3 261.6l2.5 -4.4h-5.0zM311.0 263.5l2.5 -4.4h-5.0zM312.8 264.1l2.5 -4.4h-5.0zM314.5 268.6l2.5 -4.4h-5.0zM316.2 267.6l2.5 -4.4h-5.0zM317.9 270.3l2.5 -4.4h-5.0zM319.7 271.7l2.5 -4.4h-5.0zM321.4 273.6l2.5 -4.4h-5.0zM323.1 275.7l2.5 -4.4h-5.0zM324.8 275.8l2.5 -4.4h-5.0zM326.6 277.4l2.5 -4.4h-5.0zM328.3 277.7l2.5 -4.4h-5.0zM330.0 280.4l2.5 -4.4h-5.0zM331.8 279.5l2.5 -4.4h-5.0zM333.5 281.5l2.5 -4.4h-5.0zM335.2 283.0l2.5 -4.4h-5.0zM336.9 284.5l2.5 -4.4h-5.0zM338.7 285.6l2.5 -4.4h-5.0zM340.4 287.0l2.5 -4.4h-5.0zM342.1 287.6l2.5 -4.4h-5.0zM343.8 288.3l2.5 -4.4h-5.0zM345.6 289.4l2.5 -4.4h-5.0zM347.3 291.3l2.5 -4.4h-5.0zM349.0 291.5l2.5 -4.4h-5.0zM350.8 292.9l2.5 -4.4h-5.0zM352.5 293.1l2.5 -4.4h-5.0zM354.2 292.8l2.5 -4.4h-5.0zM355.9 294.5l2.5 -4.4h-5.0zM357.7 295.9l2.5 -4.4h-5.0zM359.4 297.5l2.5 -4.4h-5.0zM361.1 298.1l2.5 -4.4h-5.0zM362.8 299.0l2.5 -4.4h-5.0zM364.6 298.2l2.5 -4.4h-5.0zM366.3 299.8l2.5 -4.4h-5.0zM368.0 300.0l2.5 -4.4h-5.0zM369.8 301.0l2.5 -4.4h-5.0zM371.5 301.3l2.5 -4.4h-5.0zM373.2 301.1l2.5 -4.4h-5.0zM374.9 303.0l2.5 -4.4h-5.0zM376.7 303.4l2.5 -4.4h-5.0zM378.4 304.3l2.5 -4.4h-5.0zM380.1 304.1l2.5 -4.4h-5.0zM381.8 305.8l2.5 -4.4h-5.0zM383.6 306.5l2.5 -4.4h-5.0zM385.3 307.2l2.5 -4.4h-5.0zM387.0 307.9l2.5 -4.4h-5.0zM388.8 307.5l2.5 -4.4h-5.0zM390.5 307.0l2.5 -4.4h-5.0zM392.2 309.4l2.5 -4.4h-5.0zM393.9 308.9l2.5 -4.4h-5.0zM395.7 309.7l2.5 -4.4h-5.0zM397.4 310.9l2.5 -4.4h-5.0zM399.1 310.9l2.5 -4.4h-5.0zM400.9 311.3l2.5 -4.4h-5.0zM402.6 311.8l2.5 -4.4h-5.0zM404.3 311.0l2.5 -4.4h-5.0zM406.0 313.1l2.5 -4.4h-5.0zM407.8 312.4l2.5 -4.4h-5.0zM409.5 312.7l2.5 -4.4h-5.0zM411.2 313.4l2.5 -4.4h-5.0zM412.9 313.4l2.5 -4.4h-5.0zM414.7 313.5l2.5 -4.4h-5.0zM416.4 314.1l2.5 -4.4h-5.0zM418.1 314.4l2.5 -4.4h-5.0zM419.9 314.6l2.5 -4.4h-5.0zM421.6 316.1l2.5 -4.4h-5.0zM423.3 315.1l2.5 -4.4h-5.0zM425.0 315.1l2.5 -4.4h-5.0zM426.8 316.1l2.5 -4.4h-5.0zM428.5 316.4l2.5 -4.4h-5.0zM430.2 317.8l2.5 -4.4h-5.0zM431.9 317.7l2.5 -4.4h-5.0zM433.7 318.3l2.5 -4.4h-5.0zM435.4 318.7l2.5 -4.4h-5.0zM437.1 318.5l2.5 -4.4h-5.0zM438.9 319.6l2.5 -4.4h-5.0z"/>
<path fill="#0a850a" d="M279.9 237.1l2.6 2.6l-2.6 2.6l-2.6 -2.6zM281.7 241.1l2.6 2.6l-2.6 2.6l-2.6 -2.6zM283.4 241.9l2.6 2.6l-2.6 2.6l-2.6 -2.6zM285.1 244.0l2.6 2.6l-2.6 2.6l-2.6 -2.6zM286.8 247.0l2.6 2.6l-2.6 2.6l-2.6 -2.6zM288.6 249.3l2.6 2.6l-2.6 2.6l-2.6 -2.6zM290.3 249.1l2.6 2.6l-2.6 2.6l-2.6 -2.6zM292.0 254.0l2.6 2.6l-2.6 2.6l-2.6 -2.6zM293.7 255.9l2.6 2.6l-2.6 2.6l-2.6 -2.6zM295.5 257.7l2.6 2.6l-2.6 2.6l-2.6 -2.6zM297.2 257.9l2.6 2.6l-2.6 2.6l-2.6 -2.6zM298.9 259.1l2.6 2.6l-2.6 2.6l-2.6 -2.6zM300.7 262.4l2.6 2.6l-2.6 2.6l-2.6 -2.6zM302.4 265.0l2.6 2.6l-2.6 2.6l-2.6 -2.6zM304.1 266.5l2.6 2.6l-2.6 2.6l-2.6 -2.6zM305.8 266.9l2.6 2.6l-2.6 2.6l-2.6 -2.6zM307.6 270.1l2.6 2.6l-2.6 2.6l-2.6 -2.6zM309.3 269.7l2.6 2.6l-2.6 2.6l-2.6 -2.6zM311.0 271.2l2.6 2.6l-2.6 2.6l-2.6 -2.6zM312.8 273.7l2.6 2.6l-2.6 2.6l-2.6 -2.6zM314.5 274.5l2.6 2.6l-2.6 2.6l-2.6 -2.6zM316.2 275.6l2.6 2.6l-2.6 2.6l-2.6 -2.6zM317.9 276.1l2.6 2.6l-2.6 2.6l-2.6 -2.6zM319.7 279.1l2.6 2.6l-2.6 2.6l-2.6 -2.6zM321.4 278.4l2.6 2.6l-2.6 2.6l-2.6 -2.6zM323.1 280.6l2.6 2.6l-2.6 2.6l-2.6 -2.6zM324.8 281.9l2.6 2.6l-2.6 2.6l-2.6 -2.6zM326.6 282.4l2.6 2.6l-2.6 2.6l-2.6 -2.6zM328.3 283.8l2.6 2.6l-2.6 2.6l-2.6 -2.6zM330.0 285.6l2.6 2.6l-2.6 2.6l-2.6 -2.6zM331.8 287.4l2.6 2.6l-2.6 2.6l-2.6 -2.6zM333.5 288.2l2.6 2.6l-2.6 2.6l-2.6 -2.6zM335.2 287.7l2.6 2.6l-2.6 2.6l-2.6 -2.6zM336.9 288.5l2.6 2.6l-2.6 2.6l-2.6 -2.6zM338.7 290.5l2.6 2.6l-2.6 2.6l-2.6 -2.6zM340.4 291.2l2.6 2.6l-2.6 2.6l-2.6 -2.6zM342.1 293.4l2.6 2.6l-2.6 2.6l-2.6 -2.6zM343.8 294.1l2.6 2.6l-2.6 2.6l-2.6 -2.6zM345.6 294.8l2.6 2.6l-2.6 2.6l-2.6 -2.6zM347.3 296.7l2.6 2.6l-2.6 2.6l-2.6 -2.6zM349.0 297.5l2.6 2.6l-2.6 2.6l-2.6 -2.6zM350.8 297.6l2.6 2.6l-2.6 2.6l-2.6 -2.6zM352.5 298.7l2.6 2.6l-2.6 2.6l-2.6 -2.6zM354.2 300.0l2.6 2.6l-2.6 2.6l-2.6 -2.6zM355.9 299.8l2.6 2.6l-2.6 2.6l-2.6 -2.6zM357.7 301.0l2.6 2.6l-2.6 2.6l-2.6 -2.6zM359.4 300.8l2.6 2.6l-2.6 2.6l-2.6 -2.6zM361.1 302.1l2.6 2.6l-2.6 2.6l-2.6 -2.6zM362.8 303.0l2.6 2.6l-2.6 2.6l-2.6 -2.6zM364.6 303.3l2.6 2.6l-2.6 2.6l-2.6 -2.6zM366.3 304.1l2.6 2.6l-2.6 2.6l-2.6 -2.6zM368.0 305.0l2.6 2.6l-2.6 2.6l-2.6 -2.6zM369.8 305.4l2.6 2.6l-2.6 2.6l-2.6 -2.6zM371.5 305.3l2.6 2.6l-2.6 2.6l-2.6 -2.6zM373.2 305.9l2.6 2.6l-2.6 2.6l-2.6 -2.6zM374.9 306.1l2.6 2.6l-2.6 2.6l-2.6 -2.6zM376.7 308.4l2.6 2.6l-2.6 2.6l-2.6 -2.6zM378.4 308.2l2.6 2.6l-2.6 2.6l-2.6 -2.6zM380.1 308.8l2.6 2.6l-2.6 2.6l-2.6 -2.6zM381.8 309.0l2.6 2.6l-2.6 2.6l-2.6 -2.6zM383.6 309.9l2.6 2.6l-2.6 2.6l-2.6 -2.6zM385.3 310.5l2.6 2.6l-2.6 2.6l-2.6 -2.6zM387.0 310.3l2.6 2.6l-2.6 2.6l-2.6 -2.6zM388.8 311.1l2.6 2.6l-2.6 2.6l-2.6 -2.6zM390.5 312.3l2.6 2.6l-2.6 2.6l-2.6 -2.6zM392.2 311.5l2.6 2.6l-2.6 2.6l-2.6 -2.6zM393.9 312.2l2.6 2.6l-2.6 2.6l-2.6 -2.6zM395.7 313.4l2.6 2.6l-2.6 2.6l-2.6 -2.6zM397.4 313.1l2.6 2.6l-2.6 2.6l-2.6 -2.6zM399.1 314.3l2.6 2.6l-2.6 2.6l-2.6 -2.6zM400.9 313.8l2.6 2.6l-2.6 2.6l-2.6 -2.6zM402.6 314.8l2.6 2.6l-2.6 2.6l-2.6 -2.6zM404.3 315.5l2.6 2.6l-2.6 2.6l-2.6 -2.6zM406.0 315.6l2.6 2.6l-2.6 2.6l-2.6 -2.6zM407.8 316.1l2.6 2.6l-2.6 2.6l-2.6 -2.6zM409.5 316.0l2.6 2.6l-2.6 2.6l-2.6 -2.6zM411.2 316.3l2.6 2.6l-2.6 2.6l-2.6 -2.6zM412.9 316.7l2.6 2.6l-2.6 2.6l-2.6 -2.6zM414.7 317.3l2.6 2.6l-2.6 2.6l-2.6 -2.6zM416.4 319.0l2.6 2.6l-2.6 2.6l-2.6 -2.6zM418.1 317.7l2.6 2.6l-2.6 2.6l-2.6 -2.6zM419.9 318.9l2.6 2.6l-2.6 2.6l-2.6 -2.6zM421.6 318.3l2.6 2.6l-2.6 2.6l-2.6 -2.6zM423.3 318.3l2.6 2.6l-2.6 2.6l-2.6 -2.6zM425.0 319.0l2.6 2.6l-2.6 2.6l-2.6 -2.6zM426.8 319.6l2.6 2.6l-2.6 2.6l-2.6 -2.6zM428.5 319.9l2.6 2.6l-2.6 2.6l-2.6 -2.6zM430.2 320.2l2.6 2.6l-2.6 2.6l-2.6 -2.6zM431.9 320.7l2.6 2.6l-2.6 2.6l-2.6 -2.6zM433.7 321.1l2.6 2.6l-2.6 2.6l-2.6 -2.6zM435.4 321.5l2.6 2.6l-2.6 2.6l-2.6 -2.6zM437.1 321.1l2.6 2.6l-2.6 2.6l-2.6 -2.6zM438.9 321.9l2.6 2.6l-2.6 2.6l-2.6 -2.6z"/>
<polyline fill="none" stroke="#000000" stroke-width="1.2" points="279.9,206.3 281.9,207.7 284.0,209.3 286.0,211.0 288.0,212.9 290.0,215.0 292.0,217.2 294.0,219.7 296.0,222.3 298.0,225.1 300.1,227.7 302.1,230.3 304.1,232.7 306.1,235.1 308.1,237.4 310.1,239.8 312.1,242.1 314.1,244.5 316.2,246.9 318.2,249.3 320.2,251.8 322.2,254.3 324.2,256.8 326.2,259.2 328.2,261.7 330.2,264.2 332.3,266.7 334.3,268.9 336.3,271.0 338.3,272.9 340.3,274.7 342.3,276.4 344.3,278.0 346.3,279.6 348.4,281.1 350.4,282.5 352.4,283.9 354.4,285.2 356.4,286.5 358.4,287.8 360.4,289.0 362.5,290.1 364.5,291.3 366.5,292.4 368.5,293.4 370.5,294.5 372.5,295.5 374.5,296.6 376.5,297.6 378.6,298.7 380.6,299.7 382.6,300.8 384.6,301.8 386.6,302.9 388.6,303.9 390.6,304.8 392.6,305.8 394.7,306.7 396.7,307.6 398.7,308.4 400.7,309.2 402.7,309.9 404.7,310.6 406.7,311.3 408.7,312.0 410.8,312.6 412.8,313.3 414.8,314.0 416.8,314.7 418.8,315.4 420.8,316.2 422.8,316.9 424.8,317.7 426.9,318.5 428.9,319.3 430.9,320.1 432.9,320.8 434.9,321.6 436.9,322.5 438.9,323.3"/>
<polyline fill="none" stroke="#dd0000" stroke-width="1.2" points="279.9,203.0 281.9,204.9 284.0,206.9 286.0,209.1 288.0,211.4 290.0,213.9 292.0,216.6 294.0,219.6 296.0,222.7 298.0,225.8 300.1,228.7 302.1,231.5 304.1,234.1 306.1,236.6 308.1,238.9 310.1,241.3 312.1,243.6 314.1,246.0 316.2,248.3 318.2,250.7 320.2,253.1 322.2,255.5 324.2,257.9 326.2,260.5 328.2,263.1 330.2,265.8 332.3,268.4 334.3,270.9 336.3,273.0 338.3,274.9 340.3,276.6 342.3,278.2 344.3,279.7 346.3,281.1 348.4,282.4 350.4,283.7 352.4,285.0 354.4,286.3 356.4,287.5 358.4,288.8 360.4,290.0 362.5,291.1 364.5,292.3 366.5,293.4 368.5,294.5 370.5,295.5 372.5,296.6 374.5,297.6 376.5,298.6 378.6,299.6 380.6,300.5 382.6,301.5 384.6,302.4 386.6,303.3 388.6,304.2 390.6,305.1 392.6,306.0 394.7,306.8 396.7,307.6 398.7,308.4 400.7,309.1 402.7,309.9 404.7,310.6 406.7,311.3 408.7,312.0 410.8,312.7 412.8,313.3 414.8,314.0 416.8,314.7 418.8,315.4 420.8,316.1 422.8,316.8 424.8,317.5 426.9,318.2 428.9,318.9 430.9,319.6 432.9,320.3 434.9,321.0 436.9,321.7 438.9,322.4"/>
<polyline fill="none" stroke="#0000cc" stroke-width="1.2" points="279.9,210.8 281.9,212.5 284.0,214.3 286.0,216.3 288.0,218.3 290.0,220.5 292.0,222.8 294.0,225.2 296.0,227.7 298.0,230.3 300.1,232.9 302.1,235.5 304.1,238.2 306.1,240.8 308.1,243.4 310.1,246.1 312.1,248.6 314.1,251.2 316.2,253.7 318.2,256.1 320.2,258.4 322.2,260.8 324.2,263.2 326.2,265.7 328.2,268.3 330.2,271.0 332.3,273.6 334.3,276.0 336.3,278.1 338.3,279.9 340.3,281.5 342.3,283.0 344.3,284.4 346.3,285.7 348.4,286.9 350.4,288.1 352.4,289.3 354.4,290.5 356.4,291.7 358.4,292.9 360.4,294.1 362.5,295.3 364.5,296.4 366.5,297.6 368.5,298.7 370.5,299.7 372.5,300.7 374.5,301.7 376.5,302.7 378.6,303.6 380.6,304.5 382.6,305.3 384.6,306.1 386.6,306.9 388.6,307.7 390.6,308.5 392.6,309.2 394.7,310.0 396.7,310.7 398.7,311.5 400.7,312.2 402.7,312.9 404.7,313.6 406.7,314.3 408.7,315.0 410.8,315.7 412.8,316.4 414.8,317.1 416.8,317.8 418.8,318.5 420.8,319.2 422.8,319.9 424.8,320.6 426.9,321.3 428.9,322.0 430.9,322.7 432.9,323.4 434.9,324.1 436.9,324.8 438.9,325.5"/>
<polyline fill="none" stroke="#ee00ee" stroke-width="1.2" points="279.9,226.6 281.9,228.6 284.0,230.7 286.0,232.9 288.0,235.2 290.0,237.5 292.0,239.9 294.0,242.5 296.0,245.0 298.0,247.6 300.1,250.0 302.1,252.4 304.1,254.6 306.1,256.7 308.1,258.7 310.1,260.6 312.1,262.5 314.1,264.3 316.2,266.1 318.2,267.8 320.2,269.4 322.2,271.0 324.2,272.6 326.2,274.1 328.2,275.6 330.2,277.0 332.3,278.4 334.3,279.7 336.3,281.1 338.3,282.3 340.3,283.6 342.3,284.9 344.3,286.1 346.3,287.3 348.4,288.4 350.4,289.6 352.4,290.6 354.4,291.6 356.4,292.6 358.4,293.5 360.4,294.4 362.5,295.3 364.5,296.1 366.5,296.9 368.5,297.7 370.5,298.4 372.5,299.2 374.5,299.9 376.5,300.7 378.6,301.4 380.6,302.2 382.6,303.0 384.6,303.7 386.6,304.4 388.6,305.2 390.6,305.8 392.6,306.5 394.7,307.1 396.7,307.6 398.7,308.1 400.7,308.6 402.7,309.0 404.7,309.4 406.7,309.8 408.7,310.2 410.8,310.6 412.8,311.0 414.8,311.4 416.8,311.8 418.8,312.2 420.8,312.6 422.8,313.1 424.8,313.5 426.9,314.0 428.9,314.4 430.9,314.9 432.9,315.4 434.9,315.8 436.9,316.3 438.9,316.8"/>
<polyline fill="none" stroke="#008000" stroke-width="1.2" points="279.9,239.5 281.9,242.4 284.0,245.2 286.0,247.9 288.0,250.5 290.0,253.0 292.0,255.5 294.0,257.9 296.0,260.2 298.0,262.5 300.1,264.6 302.1,266.7 304.1,268.7 306.1,270.6 308.1,272.5 310.1,274.2 312.1,275.9 314.1,277.4 316.2,278.8 318.2,280.0 320.2,281.2 322.2,282.4 324.2,283.5 326.2,284.8 328.2,286.2 330.2,287.7 332.3,289.2 334.3,290.7 336.3,292.1 338.3,293.4 340.3,294.6 342.3,295.8 344.3,296.9 346.3,298.0 348.4,299.1 350.4,300.1 352.4,301.1 354.4,302.0 356.4,302.9 358.4,303.7 360.4,304.5 362.5,305.2 364.5,306.0 366.5,306.7 368.5,307.3 370.5,308.0 372.5,308.7 374.5,309.3 376.5,310.0 378.6,310.6 380.6,311.3 382.6,311.9 384.6,312.6 386.6,313.2 388.6,313.8 390.6,314.4 392.6,314.9 394.7,315.5 396.7,316.0 398.7,316.5 400.7,316.9 402.7,317.3 404.7,317.8 406.7,318.2 408.7,318.5 410.8,318.9 412.8,319.3 414.8,319.7 416.8,320.1 418.8,320.5 420.8,320.9 422.8,321.3 424.8,321.7 426.9,322.1 428.9,322.5 430.9,322.9 432.9,323.3 434.9,323.7 436.9,324.1 438.9,324.5"/>
</g>
<g clip-path="url(#cpf)">
<path fill="#000000" d="M504.9 206.9h3.7v3.7h-3.7zM506.6 209.8h3.7v3.7h-3.7zM508.4 210.8h3.7v3.7h-3.7zM510.1 212.4h3.7v3.7h-3.7zM511.8 212.9h3.7v3.7h-3.7zM513.6 213.6h3.7v3.7h-3.7zM515.3 215.2h3.7v3.7h-3.7zM517.0 217.1h3.7v3.7h-3.7zM518.8 218.1h3.7v3.7h-3.7zM520.5 216.3h3.7v3.7h-3.7zM522.2 219.2h3.7v3.7h-3.7zM523.9 220.1h3.7v3.7h-3.7zM525.7 219.1h3.7v3.7h-3.7zM527.4 220.4h3.7v3.7h-3.7zM529.1 221.9h3.7v3.7h-3.7zM530.9 223.8h3.7v3.7h-3.7zM532.6 221.9h3.7v3.7h-3.7zM534.3 224.7h3.7v3.7h-3.7zM536.1 225.3h3.7v3.7h-3.7zM537.8 226.7h3.7v3.7h-3.7zM539.5 228.5h3.7v3.7h-3.7zM541.2 229.0h3.7v3.7h-3.7zM543.0 227.9h3.7v3.7h-3.7zM544.7 228.4h3.7v3.7h-3.7zM546.4 229.5h3.7v3.7h-3.7zM548.2 230.9h3.7v3.7h-3.7zM549.9 231.6h3.7v3.7h-3.7zM551.6 231.1h3.7v3.7h-3.7zM553.4 232.6h3.7v3.7h-3.7zM555.1 231.0h3.7v3.7h-3.7zM556.8 231.3h3.7v3.7h-3.7zM558.5 230.3h3.7v3.7h-3.7zM560.3 232.5h3.7v3.7h-3.7zM562.0 234.4h3.7v3.7h-3.7zM563.7 235.1h3.7v3.7h-3.7zM565.5 237.9h3.7v3.7h-3.7zM567.2 236.0h3.7v3.7h-3.7zM568.9 236.2h3.7v3.7h-3.7zM570.7 235.8h3.7v3.7h-3.7zM572.4 236.7h3.7v3.7h-3.7zM574.1 237.3h3.7v3.7h-3.7zM575.8 238.3h3.7v3.7h-3.7zM577.6 238.5h3.7v3.7h-3.7zM579.3 238.5h3.7v3.7h-3.7zM581.0 241.1h3.7v3.7h-3.7zM582.8 241.3h3.7v3.7h-3.7zM584.5 242.6h3.7v3.7h-3.7zM586.2 240.9h3.7v3.7h-3.7zM588.0 241.8h3.7v3.7h-3.7zM589.7 242.8h3.7v3.7h-3.7zM591.4 244.8h3.7v3.7h-3.7zM593.1 244.4h3.7v3.7h-3.7zM594.9 245.3h3.7v3.7h-3.7zM596.6 245.8h3.7v3.7h-3.7zM598.3 246.8h3.7v3.7h-3.7zM600.1 247.1h3.7v3.7h-3.7zM601.8 248.8h3.7v3.7h-3.7zM603.5 249.0h3.7v3.7h-3.7zM605.3 250.7h3.7v3.7h-3.7zM607.0 252.5h3.7v3.7h-3.7zM608.7 253.9h3.7v3.7h-3.7zM610.4 255.7h3.7v3.7h-3.7zM612.2 256.5h3.7v3.7h-3.7zM613.9 258.7h3.7v3.7h-3.7zM615.6 259.7h3.7v3.7h-3.7zM617.4 261.5h3.7v3.7h-3.7zM619.1 263.5h3.7v3.7h-3.7zM620.8 263.3h3.7v3.7h-3.7zM622.6 265.8h3.7v3.7h-3.7zM624.3 266.1h3.7v3.7h-3.7zM626.0 267.5h3.7v3.7h-3.7zM627.7 270.0h3.7v3.7h-3.7zM629.5 270.9h3.7v3.7h-3.7zM631.2 271.9h3.7v3.7h-3.7zM632.9 273.4h3.7v3.7h-3.7zM634.7 274.9h3.7v3.7h-3.7zM636.4 275.2h3.7v3.7h-3.7zM638.1 277.1h3.7v3.7h-3.7zM639.9 278.1h3.7v3.7h-3.7zM641.6 279.9h3.7v3.7h-3.7zM643.3 280.9h3.7v3.7h-3.7zM645.0 282.7h3.7v3.7h-3.7zM646.8 283.5h3.7v3.7h-3.7zM648.5 284.3h3.7v3.7h-3.7zM650.2 285.6h3.7v3.7h-3.7zM652.0 286.9h3.7v3.7h-3.7zM653.7 288.1h3.7v3.7h-3.7zM655.4 288.4h3.7v3.7h-3.7zM657.2 289.2h3.7v3.7h-3.7zM658.9 290.2h3.7v3.7h-3.7zM660.6 291.2h3.7v3.7h-3.7zM662.3 291.3h3.7v3.7h-3.7zM664.1 291.0h3.7v3.7h-3.7z"/>
<path fill="#ee0000" d="M504.8 200.1a2.0 2.0 0 1 0 4.0 0a2.0 2.0 0 1 0 -4.0 0zM506.5 202.2a2.0 2.0 0 1 0 4.0 0a2.0 2.0 0 1 0 -4.0 0zM508.2 204.7a2.0 2.0 0 1 0 4.0 0a2.0 2.0 0 1 0 -4.0 0zM510.0 210.4a2.0 2.0 0 1 0 4.0 0a2.0 2.0 0 1 0 -4.0 0zM511.7 209.5a2.0 2.0 0 1 0 4.0 0a2.0 2.0 0 1 0 -4.0 0zM513.4 212.2a2.0 2.0 0 1 0 4.0 0a2.0 2.0 0 1 0 -4.0 0zM515.1 211.5a2.0 2.0 0 1 0 4.0 0a2.0 2.0 0 1 0 -4.0 0zM516.9 214.7a2.0 2.0 0 1 0 4.0 0a2.0 2.0 0 1 0 -4.0 0zM518.6 216.5a2.0 2.0 0 1 0 4.0 0a2.0 2.0 0 1 0 -4.0 0zM520.3 217.1a2.0 2.0 0 1 0 4.0 0a2.0 2.0 0 1 0 -4.0 0zM522.1 217.9a2.0 2.0 0 1 0 4.0 0a2.0 2.0 0 1 0 -4.0 0zM523.8 219.9a2.0 2.0 0 1 0 4.0 0a2.0 2.0 0 1 0 -4.0 0zM525.5 220.6a2.0 2.0 0 1 0 4.0 0a2.0 2.0 0 1 0 -4.0 0zM527.3 223.2a2.0 2.0 0 1 0 4.0 0a2.0 2.0 0 1 0 -4.0 0zM529.0 223.2a2.0 2.0 0 1 0 4.0 0a2.0 2.0 0 1 0 -4.0 0zM530.7 223.4a2.0 2.0 0 1 0 4.0 0a2.0 2.0 0 1 0 -4.0 0zM532.4 223.4a2.0 2.0 0 1 0 4.0 0a2.0 2.0 0 1 0 -4.0 0zM534.2 225.9a2.0 2.0 0 1 0 4.0 0a2.0 2.0 0 1 0 -4.0 0zM535.9 227.4a2.0 2.0 0 1 0 4.0 0a2.0 2.0 0 1 0 -4.0 0zM537.6 227.6a2.0 2.0 0 1 0 4.0 0a2.0 2.0 0 1 0 -4.0 0zM539.4 228.8a2.0 2.0 0 1 0 4.0 0a2.0 2.0 0 1 0 -4.0 0zM541.1 229.2a2.0 2.0 0 1 0 4.0 0a2.0 2.0 0 1 0 -4.0 0zM542.8 230.8a2.0 2.0 0 1 0 4.0 0a2.0 2.0 0 1 0 -4.0 0zM544.6 233.0a2.0 2.0 0 1 0 4.0 0a2.0 2.0 0 1 0 -4.0 0zM546.3 233.6a2.0 2.0 0 1 0 4.0 0a2.0 2.0 0 1 0 -4.0 0zM548.0 234.8a2.0 2.0 0 1 0 4.0 0a2.0 2.0 0 1 0 -4.0 0zM549.7 235.8a2.0 2.0 0 1 0 4.0 0a2.0 2.0 0 1 0 -4.0 0zM551.5 237.0a2.0 2.0 0 1 0 4.0 0a2.0 2.0 0 1 0 -4.0 0zM553.2 239.1a2.0 2.0 0 1 0 4.0 0a2.0 2.0 0 1 0 -4.0 0zM554.9 241.3a2.0 2.0 0 1 0 4.0 0a2.0 2.0 0 1 0 -4.0 0zM556.7 241.0a2.0 2.0 0 1 0 4.0 0a2.0 2.0 0 1 0 -4.0 0zM558.4 243.2a2.0 2.0 0 1 0 4.0 0a2.0 2.0 0 1 0 -4.0 0zM560.1 242.3a2.0 2.0 0 1 0 4.0 0a2.0 2.0 0 1 0 -4.0 0zM561.9 243.2a2.0 2.0 0 1 0 4.0 0a2.0 2.0 0 1 0 -4.0 0zM563.6 245.5a2.0 2.0 0 1 0 4.0 0a2.0 2.0 0 1 0 -4.0 0zM565.3 244.3a2.0 2.0 0 1 0 4.0 0a2.0 2.0 0 1 0 -4.0 0zM567.0 245.0a2.0 2.0 0 1 0 4.0 0a2.0 2.0 0 1 0 -4.0 0zM568.8 246.4a2.0 2.0 0 1 0 4.0 0a2.0 2.0 0 1 0 -4.0 0zM570.5 245.9a2.0 2.0 0 1 0 4.0 0a2.0 2.0 0 1 0 -4.0 0zM572.2 246.6a2.0 2.0 0 1 0 4.0 0a2.0 2.0 0 1 0 -4.0 0zM574.0 250.0a2.0 2.0 0 1 0 4.0 0a2.0 2.0 0 1 0 -4.0 0zM575.7 249.0a2.0 2.0 0 1 0 4.0 0a2.0 2.0 0 1 0 -4.0 0zM577.4 250.3a2.0 2.0 0 1 0 4.0 0a2.0 2.0 0 1 0 -4.0 0zM579.2 251.2a2.0 2.0 0 1 0 4.0 0a2.0 2.0 0 1 0 -4.0 0zM580.9 251.6a2.0 2.0 0 1 0 4.0 0a2.0 2.0 0 1 0 -4.0 0zM582.6 253.7a2.0 2.0 0 1 0 4.0 0a2.0 2.0 0 1 0 -4.0 0zM584.3 254.5a2.0 2.0 0 1 0 4.0 0a2.0 2.0 0 1 0 -4.0 0zM586.1 255.5a2.0 2.0 0 1 0 4.0 0a2.0 2.0 0 1 0 -4.0 0zM587.8 256.3a2.0 2.0 0 1 0 4.0 0a2.0 2.0 0 1 0 -4.0 0zM589.5 256.7a2.0 2.0 0 1 0 4.0 0a2.0 2.0 0 1 0 -4.0 0zM591.3 258.6a2.0 2.0 0 1 0 4.0 0a2.0 2.0 0 1 0 -4.0 0zM593.0 259.2a2.0 2.0 0 1 0 4.0 0a2.0 2.0 0 1 0 -4.0 0zM594.7 259.0a2.0 2.0 0 1 0 4.0 0a2.0 2.0 0 1 0 -4.0 0zM596.5 260.5a2.0 2.0 0 1 0 4.0 0a2.0 2.0 0 1 0 -4.0 0zM598.2 261.3a2.0 2.0 0 1 0 4.0 0a2.0 2.0 0 1 0 -4.0 0zM599.9 264.1a2.0 2.0 0 1 0 4.0 0a2.0 2.0 0 1 0 -4.0 0zM601.6 264.4a2.0 2.0 0 1 0 4.0 0a2.0 2.0 0 1 0 -4.0 0zM603.4 265.5a2.0 2.0 0 1 0 4.0 0a2.0 2.0 0 1 0 -4.0 0zM605.1 266.3a2.0 2.0 0 1 0 4.0 0a2.0 2.0 0 1 0 -4.0 0zM606.8 267.9a2.0 2.0 0 1 0 4.0 0a2.0 2.0 0 1 0 -4.0 0zM608.6 268.1a2.0 2.0 0 1 0 4.0 0a2.0 2.0 0 1 0 -4.0 0zM610.3 269.9a2.0 2.0 0 1 0 4.0 0a2.0 2.0 0 1 0 -4.0 0zM612.0 271.0a2.0 2.0 0 1 0 4.0 0a2.0 2.0 0 1 0 -4.0 0zM613.8 272.0a2.0 2.0 0 1 0 4.0 0a2.0 2.0 0 1 0 -4.0 0zM615.5 272.7a2.0 2.0 0 1 0 4.0 0a2.0 2.0 0 1 0 -4.0 0zM617.2 274.4a2.0 2.0 0 1 0 4.0 0a2.0 2.0 0 1 0 -4.0 0zM618.9 274.4a2.0 2.0 0 1 0 4.0 0a2.0 2.0 0 1 0 -4.0 0zM620.7 275.8a2.0 2.0 0 1 0 4.0 0a2.0 2.0 0 1 0 -4.0 0zM622.4 277.0a2.0 2.0 0 1 0 4.0 0a2.0 2.0 0 1 0 -4.0 0zM624.1 278.0a2.0 2.0 0 1 0 4.0 0a2.0 2.0 0 1 0 -4.0 0zM625.9 278.7a2.0 2.0 0 1 0 4.0 0a2.0 2.0 0 1 0 -4.0 0zM627.6 279.4a2.0 2.0 0 1 0 4.0 0a2.0 2.0 0 1 0 -4.0 0zM629.3 280.4a2.0 2.0 0 1 0 4.0 0a2.0 2.0 0 1 0 -4.0 0zM631.1 281.7a2.0 2.0 0 1 0 4.0 0a2.0 2.0 0 1 0 -4.0 0zM632.8 282.4a2.0 2.0 0 1 0 4.0 0a2.0 2.0 0 1 0 -4.0 0zM634.5 283.8a2.0 2.0 0 1 0 4.0 0a2.0 2.0 0 1 0 -4.0 0zM636.2 284.2a2.0 2.0 0 1 0 4.0 0a2.0 2.0 0 1 0 -4.0 0zM638.0 285.9a2.0 2.0 0 1 0 4.0 0a2.0 2.0 0 1 0 -4.0 0zM639.7 288.0a2.0 2.0 0 1 0 4.0 0a2.0 2.0 0 1 0 -4.0 0zM641.4 287.1a2.0 2.0 0 1 0 4.0 0a2.0 2.0 0 1 0 -4.0 0zM643.2 288.7a2.0 2.0 0 1 0 4.0 0a2.0 2.0 0 1 0 -4.0 0zM644.9 290.3a2.0 2.0 0 1 0 4.0 0a2.0 2.0 0 1 0 -4.0 0zM646.6 290.8a2.0 2.0 0 1 0 4.0 0a2.0 2.0 0 1 0 -4.0 0zM648.4 292.0a2.0 2.0 0 1 0 4.0 0a2.0 2.0 0 1 0 -4.0 0zM650.1 291.5a2.0 2.0 0 1 0 4.0 0a2.0 2.0 0 1 0 -4.0 0zM651.8 293.2a2.0 2.0 0 1 0 4.0 0a2.0 2.0 0 1 0 -4.0 0zM653.5 295.0a2.0 2.0 0 1 0 4.0 0a2.0 2.0 0 1 0 -4.0 0zM655.3 294.9a2.0 2.0 0 1 0 4.0 0a2.0 2.0 0 1 0 -4.0 0zM657.0 296.2a2.0 2.0 0 1 0 4.0 0a2.0 2.0 0 1 0 -4.0 0zM658.7 296.1a2.0 2.0 0 1 0 4.0 0a2.0 2.0 0 1 0 -4.0 0zM660.5 298.2a2.0 2.0 0 1 0 4.0 0a2.0 2.0 0 1 0 -4.0 0zM662.2 299.6a2.0 2.0 0 1 0 4.0 0a2.0 2.0 0 1 0 -4.0 0zM663.9 299.4a2.0 2.0 0 1 0 4.0 0a2.0 2.0 0 1 0 -4.0 0z"/>
<path fill="#0000ee" d="M506.8 192.7l2.5 4.4h-5.0zM508.5 197.0l2.5 4.4h-5.0zM510.2 202.9l2.5 4.4h-5.0zM512.0 203.7l2.5 4.4h-5.0zM513.7 205.7l2.5 4.4h-5.0zM515.4 212.7l2.5 4.4h-5.0zM517.1 212.2l2.5 4.4h-5.0zM518.9 216.7l2.5 4.4h-5.0zM520.6 216.0l2.5 4.4h-5.0zM522.3 220.2l2.5 4.4h-5.0zM524.1 222.8l2.5 4.4h-5.0zM525.8 223.1l2.5 4.4h-5.0zM527.5 225.2l2.5 4.4h-5.0zM529.3 227.6l2.5 4.4h-5.0zM531.0 227.5l2.5 4.4h-5.0zM532.7 229.9l2.5 4.4h-5.0zM534.4 232.3l2.5 4.4h-5.0zM536.2 229.6l2.5 4.4h-5.0zM537.9 233.1l2.5 4.4h-5.0zM539.6 234.6l2.5 4.4h-5.0zM541.4 234.9l2.5 4.4h-5.0zM543.1 237.9l2.5 4.4h-5.0zM544.8 238.9l2.5 4.4h-5.0zM546.6 239.3l2.5 4.4h-5.0zM548.3 240.4l2.5 4.4h-5.0zM550.0 241.0l2.5 4.4h-5.0zM551.7 241.2l2.5 4.4h-5.0zM553.5 243.8l2.5 4.4h-5.0zM555.2 244.0l2.5 4.4h-5.0zM556.9 245.0l2.5 4.4h-5.0zM558.7 247.6l2.5 4.4h-5.0zM560.4 247.4l2.5 4.4h-5.0zM562.1 249.4l2.5 4.4h-5.0zM563.9 248.6l2.5 4.4h-5.0zM565.6 250.1l2.5 4.4h-5.0zM567.3 251.4l2.5 4.4h-5.0zM569.0 253.5l2.5 4.4h-5.0zM570.8 253.1l2.5 4.4h-5.0zM572.5 254.7l2.5 4.4h-5.0zM574.2 254.3l2.5 4.4h-5.0zM576.0 255.9l2.5 4.4h-5.0zM577.7 257.2l2.5 4.4h-5.0zM579.4 256.6l2.5 4.4h-5.0zM581.2 257.5l2.5 4.4h-5.0zM582.9 259.3l2.5 4.4h-5.0zM584.6 258.7l2.5 4.4h-5.0zM586.3 260.5l2.5 4.4h-5.0zM588.1 261.3l2.5 4.4h-5.0zM589.8 261.7l2.5 4.4h-5.0zM591.5 263.1l2.5 4.4h-5.0zM593.3 263.7l2.5 4.4h-5.0zM595.0 264.3l2.5 4.4h-5.0zM596.7 264.0l2.5 4.4h-5.0zM598.5 265.0l2.5 4.4h-5.0zM600.2 267.3l2.5 4.4h-5.0zM601.9 267.0l2.5 4.4h-5.0zM603.6 269.3l2.5 4.4h-5.0zM605.4 270.1l2.5 4.4h-5.0zM607.1 270.9l2.5 4.4h-5.0zM608.8 272.4l2.5 4.4h-5.0zM610.6 272.1l2.5 4.4h-5.0zM612.3 274.6l2.5 4.4h-5.0zM614.0 276.6l2.5 4.4h-5.0zM615.8 276.0l2.5 4.4h-5.0zM617.5 278.0l2.5 4.4h-5.0zM619.2 278.9l2.5 4.4h-5.0zM620.9 281.4l2.5 4.4h-5.0zM622.7 279.8l2.5 4.4h-5.0zM624.4 280.8l2.5 4.4h-5.0zM626.1 281.6l2.5 4.4h-5.0zM627.9 282.4l2.5 4.4h-5.0zM629.6 282.8l2.5 4.4h-5.0zM631.3 284.7l2.5 4.4h-5.0zM633.1 285.0l2.5 4.4h-5.0zM634.8 286.8l2.5 4.4h-5.0zM636.5 287.5l2.5 4.4h-5.0zM638.2 287.6l2.5 4.4h-5.0zM640.0 288.8l2.5 4.4h-5.0zM641.7 290.6l2.5 4.4h-5.0zM643.4 290.5l2.5 4.4h-5.0zM645.2 291.7l2.5 4.4h-5.0zM646.9 292.8l2.5 4.4h-5.0zM648.6 293.0l2.5 4.4h-5.0zM650.4 294.2l2.5 4.4h-5.0zM652.1 295.6l2.5 4.4h-5.0zM653.8 296.2l2.5 4.4h-5.0zM655.5 295.6l2.5 4.4h-5.0zM657.3 297.9l2.5 4.4h-5.0zM659.0 297.9l2.5 4.4h-5.0zM660.7 298.5l2.5 4.4h-5.0zM662.5 299.2l2.5 4.4h-5.0zM664.2 300.8l2.5 4.4h-5.0zM665.9 301.2l2.5 4.4h-5.0z"/>
<path fill="#ff00ff" d="M506.8 214.7l2.5 -4.4h-5.0zM508.5 216.8l2.5 -4.4h-5.0zM510.2 221.1l2.5 -4.4h-5.0zM512.0 224.3l2.5 -4.4h-5.0zM513.7 224.5l2.5 -4.4h-5.0zM515.4 226.8l2.5 -4.4h-5.0zM517.1 230.0l2.5 -4.4h-5.0zM518.9 233.3l2.5 -4.4h-5.0zM520.6 234.4l2.5 -4.4h-5.0zM522.3 236.8l2.5 -4.4h-5.0zM524.1 238.0l2.5 -4.4h-5.0zM525.8 242.0l2.5 -4.4h-5.0zM527.5 242.3l2.5 -4.4h-5.0zM529.3 244.3l2.5 -4.4h-5.0zM531.0 246.8l2.5 -4.4h-5.0zM532.7 247.0l2.5 -4.4h-5.0zM534.4 248.7l2.5 -4.4h-5.0zM536.2 250.5l2.5 -4.4h-5.0zM537.9 251.0l2.5 -4.4h-5.0zM539.6 254.1l2.5 -4.4h-5.0zM541.4 254.0l2.5 -4.4h-5.0zM543.1 254.7l2.5 -4.4h-5.0zM544.8 256.0l2.5 -4.4h-5.0zM546.6 256.4l2.5 -4.4h-5.0zM548.3 259.8l2.5 -4.4h-5.0zM550.0 261.4l2.5 -4.4h-5.0zM551.7 261.2l2.5 -4.4h-5.0zM553.5 262.4l2.5 -4.4h-5.0zM555.2 262.4l2.5 -4.4h-5.0zM556.9 265.1l2.5 -4.4h-5.0zM558.7 267.6l2.5 -4.4h-5.0zM560.4 267.2l2.5 -4.4h-5.0zM562.1 269.7l2.5 -4.4h-5.0zM563.9 271.1l2.5 -4.4h-5.0zM565.6 268.4l2.5 -4.4h-5.0zM567.3 271.2l2.5 -4.4h-5.0zM569.0 271.6l2.5 -4.4h-5.0zM570.8 272.5l2.5 -4.4h-5.0zM572.5 272.3l2.5 -4.4h-5.0zM574.2 274.3l2.5 -4.4h-5.0zM576.0 274.3l2.5 -4.4h-5.0zM577.7 276.8l2.5 -4.4h-5.0zM579.4 277.8l2.5 -4.4h-5.0zM581.2 276.2l2.5 -4.4h-5.0zM582.9 276.9l2.5 -4.4h-5.0zM584.6 278.3l2.5 -4.4h-5.0zM586.3 279.2l2.5 -4.4h-5.0zM588.1 279.9l2.5 -4.4h-5.0zM589.8 281.2l2.5 -4.4h-5.0zM591.5 280.2l2.5 -4.4h-5.0zM593.3 281.6l2.5 -4.4h-5.0zM595.0 282.4l2.5 -4.4h-5.0zM596.7 283.3l2.5 -4.4h-5.0zM598.5 283.6l2.5 -4.4h-5.0zM600.2 284.8l2.5 -4.4h-5.0zM601.9 285.5l2.5 -4.4h-5.0zM603.6 287.7l2.5 -4.4h-5.0zM605.4 287.4l2.5 -4.4h-5.0zM607.1 287.1l2.5 -4.4h-5.0zM608.8 289.9l2.5 -4.4h-5.0zM610.6 290.5l2.5 -4.4h-5.0zM612.3 290.7l2.5 -4.4h-5.0zM614.0 291.6l2.5 -4.4h-5.0zM615.8 292.7l2.5 -4.4h-5.0zM617.5 295.1l2.5 -4.4h-5.0zM619.2 294.6l2.5 -4.4h-5.0zM620.9 296.6l2.5 -4.4h-5.0zM622.7 297.3l2.5 -4.4h-5.0zM624.4 297.4l2.5 -4.4h-5.0zM626.1 298.8l2.5 -4.4h-5.0zM627.9 299.0l2.5 -4.4h-5.0zM629.6 298.5l2.5 -4.4h-5.0zM631.3 300.6l2.5 -4.4h-5.0zM633.1 301.3l2.5 -4.4h-5.0zM634.8 302.8l2.5 -4.4h-5.0zM636.5 303.2l2.5 -4.4h-5.0zM638.2 304.0l2.5 -4.4h-5.0zM640.0 304.2l2.5 -4.4h-5.0zM641.7 305.0l2.5 -4.4h-5.0zM643.4 305.2l2.5 -4.4h-5.0zM645.2 305.5l2.5 -4.4h-5.0zM646.9 306.5l2.5 -4.4h-5.0zM648.6 307.2l2.5 -4.4h-5.0zM650.4 307.7l2.5 -4.4h-5.0zM652.1 307.4l2.5 -4.4h-5.0zM653.8 308.2l2.5 -4.4h-5.0zM655.5 308.4l2.5 -4.4h-5.0zM657.3 309.0l2.5 -4.4h-5.0zM659.0 310.2l2.5 -4.4h-5.0zM660.7 310.4l2.5 -4.4h-5.0zM662.5 312.0l2.5 -4.4h-5.0zM664.2 311.0l2.5 -4.4h-5.0zM665.9 312.1l2.5 -4.4h-5.0z"/>
<path fill="#0a850a" d="M506.8 222.3l2.6 2.6l-2.6 2.6l-2.6 -2.6zM508.5 226.6l2.6 2.6l-2.6 2.6l-2.6 -2.6zM510.2 228.0l2.6 2.6l-2.6 2.6l-2.6 -2.6zM512.0 233.4l2.6 2.6l-2.6 2.6l-2.6 -2.6zM513.7 234.9l2.6 2.6l-2.6 2.6l-2.6 -2.6zM515.4 235.8l2.6 2.6l-2.6 2.6l-2.6 -2.6zM517.1 239.0l2.6 2.6l-2.6 2.6l-2.6 -2.6zM518.9 241.8l2.6 2.6l-2.6 2.6l-2.6 -2.6zM520.6 242.5l2.6 2.6l-2.6 2.6l-2.6 -2.6zM522.3 246.6l2.6 2.6l-2.6 2.6l-2.6 -2.6zM524.1 247.2l2.6 2.6l-2.6 2.6l-2.6 -2.6zM525.8 249.8l2.6 2.6l-2.6 2.6l-2.6 -2.6zM527.5 252.0l2.6 2.6l-2.6 2.6l-2.6 -2.6zM529.3 252.3l2.6 2.6l-2.6 2.6l-2.6 -2.6zM531.0 255.4l2.6 2.6l-2.6 2.6l-2.6 -2.6zM532.7 254.0l2.6 2.6l-2.6 2.6l-2.6 -2.6zM534.4 258.0l2.6 2.6l-2.6 2.6l-2.6 -2.6zM536.2 256.7l2.6 2.6l-2.6 2.6l-2.6 -2.6zM537.9 261.1l2.6 2.6l-2.6 2.6l-2.6 -2.6zM539.6 260.5l2.6 2.6l-2.6 2.6l-2.6 -2.6zM541.4 263.4l2.6 2.6l-2.6 2.6l-2.6 -2.6zM543.1 264.5l2.6 2.6l-2.6 2.6l-2.6 -2.6zM544.8 264.1l2.6 2.6l-2.6 2.6l-2.6 -2.6zM546.6 264.5l2.6 2.6l-2.6 2.6l-2.6 -2.6zM548.3 267.3l2.6 2.6l-2.6 2.6l-2.6 -2.6zM550.0 266.0l2.6 2.6l-2.6 2.6l-2.6 -2.6zM551.7 268.9l2.6 2.6l-2.6 2.6l-2.6 -2.6zM553.5 269.0l2.6 2.6l-2.6 2.6l-2.6 -2.6zM555.2 269.8l2.6 2.6l-2.6 2.6l-2.6 -2.6zM556.9 270.7l2.6 2.6l-2.6 2.6l-2.6 -2.6zM558.7 274.0l2.6 2.6l-2.6 2.6l-2.6 -2.6zM560.4 272.0l2.6 2.6l-2.6 2.6l-2.6 -2.6zM562.1 274.1l2.6 2.6l-2.6 2.6l-2.6 -2.6zM563.9 276.1l2.6 2.6l-2.6 2.6l-2.6 -2.6zM565.6 277.8l2.6 2.6l-2.6 2.6l-2.6 -2.6zM567.3 279.4l2.6 2.6l-2.6 2.6l-2.6 -2.6zM569.0 280.2l2.6 2.6l-2.6 2.6l-2.6 -2.6zM570.8 279.5l2.6 2.6l-2.6 2.6l-2.6 -2.6zM572.5 281.2l2.6 2.6l-2.6 2.6l-2.6 -2.6zM574.2 282.7l2.6 2.6l-2.6 2.6l-2.6 -2.6zM576.0 282.9l2.6 2.6l-2.6 2.6l-2.6 -2.6zM577.7 281.9l2.6 2.6l-2.6 2.6l-2.6 -2.6zM579.4 284.0l2.6 2.6l-2.6 2.6l-2.6 -2.6zM581.2 284.8l2.6 2.6l-2.6 2.6l-2.6 -2.6zM582.9 283.8l2.6 2.6l-2.6 2.6l-2.6 -2.6zM584.6 285.0l2.6 2.6l-2.6 2.6l-2.6 -2.6zM586.3 285.8l2.6 2.6l-2.6 2.6l-2.6 -2.6zM588.1 286.8l2.6 2.6l-2.6 2.6l-2.6 -2.6zM589.8 288.0l2.6 2.6l-2.6 2.6l-2.6 -2.6zM591.5 288.2l2.6 2.6l-2.6 2.6l-2.6 -2.6zM593.3 288.1l2.6 2.6l-2.6 2.6l-2.6 -2.6zM595.0 288.4l2.6 2.6l-2.6 2.6l-2.6 -2.6zM596.7 288.6l2.6 2.6l-2.6 2.6l-2.6 -2.6zM598.5 289.0l2.6 2.6l-2.6 2.6l-2.6 -2.6zM600.2 289.7l2.6 2.6l-2.6 2.6l-2.6 -2.6zM601.9 290.3l2.6 2.6l-2.6 2.6l-2.6 -2.6zM603.6 291.7l2.6 2.6l-2.6 2.6l-2.6 -2.6zM605.4 293.1l2.6 2.6l-2.6 2.6l-2.6 -2.6zM607.1 292.5l2.6 2.6l-2.6 2.6l-2.6 -2.6zM608.8 293.4l2.6 2.6l-2.6 2.6l-2.6 -2.6zM610.6 293.8l2.6 2.6l-2.6 2.6l-2.6 -2.6zM612.3 294.2l2.6 2.6l-2.6 2.6l-2.6 -2.6zM614.0 295.4l2.6 2.6l-2.6 2.6l-2.6 -2.6zM615.8 296.1l2.6 2.6l-2.6 2.6l-2.6 -2.6zM617.5 296.2l2.6 2.6l-2.6 2.6l-2.6 -2.6zM619.2 296.9l2.6 2.6l-2.6 2.6l-2.6 -2.6zM620.9 298.2l2.6 2.6l-2.6 2.6l-2.6 -2.6zM622.7 298.5l2.6 2.6l-2.6 2.6l-2.6 -2.6zM624.4 299.8l2.6 2.6l-2.6 2.6l-2.6 -2.6zM626.1 301.2l2.6 2.6l-2.6 2.6l-2.6 -2.6zM627.9 301.5l2.6 2.6l-2.6 2.6l-2.6 -2.6zM629.6 301.3l2.6 2.6l-2.6 2.6l-2.6 -2.6zM631.3 303.5l2.6 2.6l-2.6 2.6l-2.6 -2.6zM633.1 303.1l2.6 2.6l-2.6 2.6l-2.6 -2.6zM634.8 303.7l2.6 2.6l-2.6 2.6l-2.6 -2.6zM636.5 304.2l2.6 2.6l-2.6 2.6l-2.6 -2.6zM638.2 306.0l2.6 2.6l-2.6 2.6l-2.6 -2.6zM640.0 305.0l2.6 2.6l-2.6 2.6l-2.6 -2.6zM641.7 306.6l2.6 2.6l-2.6 2.6l-2.6 -2.6zM643.4 307.3l2.6 2.6l-2.6 2.6l-2.6 -2.6zM645.2 307.8l2.6 2.6l-2.6 2.6l-2.6 -2.6zM646.9 307.8l2.6 2.6l-2.6 2.6l-2.6 -2.6zM648.6 308.6l2.6 2.6l-2.6 2.6l-2.6 -2.6zM650.4 309.2l2.6 2.6l-2.6 2.6l-2.6 -2.6zM652.1 309.0l2.6 2.6l-2.6 2.6l-2.6 -2.6zM653.8 310.4l2.6 2.6l-2.6 2.6l-2.6 -2.6zM655.5 311.1l2.6 2.6l-2.6 2.6l-2.6 -2.6zM657.3 310.7l2.6 2.6l-2.6 2.6l-2.6 -2.6zM659.0 311.2l2.6 2.6l-2.6 2.6l-2.6 -2.6zM660.7 311.5l2.6 2.6l-2.6 2.6l-2.6 -2.6zM662.5 312.9l2.6 2.6l-2.6 2.6l-2.6 -2.6zM664.2 312.4l2.6 2.6l-2.6 2.6l-2.6 -2.6zM665.9 313.1l2.6 2.6l-2.6 2.6l-2.6 -2.6z"/>
<polyline fill="none" stroke="#000000" stroke-width="1.2" points="506.8,209.9 508.8,211.6 510.8,213.2 512.8,214.7 514.8,216.0 516.8,217.2 518.9,218.2 520.9,219.2 522.9,220.2 524.9,221.2 526.9,222.2 528.9,223.2 530.9,224.3 533.0,225.4 535.0,226.4 537.0,227.3 539.0,228.2 541.0,228.9 543.0,229.6 545.1,230.2 547.1,230.8 549.1,231.4 551.1,232.0 553.1,232.5 555.1,233.1 557.2,233.7 559.2,234.3 561.2,234.9 563.2,235.5 565.2,236.1 567.2,236.7 569.2,237.4 571.3,238.1 573.3,238.7 575.3,239.4 577.3,240.1 579.3,240.9 581.3,241.6 583.4,242.3 585.4,243.1 587.4,243.8 589.4,244.5 591.4,245.2 593.4,245.8 595.5,246.6 597.5,247.3 599.5,248.2 601.5,249.1 603.5,250.3 605.5,251.6 607.5,253.1 609.6,254.8 611.6,256.6 613.6,258.5 615.6,260.2 617.6,261.9 619.6,263.5 621.7,265.0 623.7,266.5 625.7,268.0 627.7,269.5 629.7,271.0 631.7,272.5 633.8,274.0 635.8,275.5 637.8,277.1 639.8,278.6 641.8,280.2 643.8,281.8 645.8,283.4 647.9,284.8 649.9,286.2 651.9,287.4 653.9,288.5 655.9,289.6 657.9,290.7 660.0,291.6 662.0,292.5 664.0,293.3 666.0,293.9"/>
<polyline fill="none" stroke="#dd0000" stroke-width="1.2" points="506.8,199.8 508.8,203.0 510.8,206.0 512.8,208.6 514.8,210.8 516.8,212.7 518.9,214.4 520.9,215.9 522.9,217.3 524.9,218.7 526.9,220.1 528.9,221.6 530.9,223.0 533.0,224.4 535.0,225.8 537.0,227.1 539.0,228.4 541.0,229.6 543.0,230.8 545.1,232.0 547.1,233.2 549.1,234.4 551.1,235.7 553.1,237.0 555.1,238.3 557.2,239.6 559.2,240.7 561.2,241.8 563.2,242.9 565.2,243.9 567.2,244.8 569.2,245.8 571.3,246.7 573.3,247.7 575.3,248.7 577.3,249.7 579.3,250.6 581.3,251.6 583.4,252.6 585.4,253.5 587.4,254.5 589.4,255.5 591.4,256.5 593.4,257.6 595.5,258.7 597.5,259.9 599.5,261.1 601.5,262.4 603.5,263.8 605.5,265.2 607.5,266.6 609.6,268.0 611.6,269.4 613.6,270.7 615.6,272.0 617.6,273.2 619.6,274.4 621.7,275.5 623.7,276.7 625.7,277.8 627.7,278.9 629.7,280.0 631.7,281.2 633.8,282.3 635.8,283.5 637.8,284.6 639.8,285.8 641.8,286.9 643.8,288.0 645.8,289.2 647.9,290.2 649.9,291.3 651.9,292.4 653.9,293.4 655.9,294.5 657.9,295.5 660.0,296.5 662.0,297.5 664.0,298.5 666.0,299.5"/>
<polyline fill="none" stroke="#0000cc" stroke-width="1.2" points="506.8,194.8 508.8,199.7 510.8,204.2 512.8,208.4 514.8,212.1 516.8,215.5 518.9,218.6 520.9,221.4 522.9,223.8 524.9,225.9 526.9,227.7 528.9,229.3 530.9,230.7 533.0,232.0 535.0,233.3 537.0,234.7 539.0,236.1 541.0,237.5 543.0,238.9 545.1,240.3 547.1,241.6 549.1,243.0 551.1,244.3 553.1,245.6 555.1,246.9 557.2,248.2 559.2,249.4 561.2,250.6 563.2,251.7 565.2,252.8 567.2,253.9 569.2,254.9 571.3,256.0 573.3,257.0 575.3,257.9 577.3,258.9 579.3,259.8 581.3,260.7 583.4,261.6 585.4,262.4 587.4,263.3 589.4,264.1 591.4,265.0 593.4,266.0 595.5,267.0 597.5,268.0 599.5,269.2 601.5,270.4 603.5,271.7 605.5,273.0 607.5,274.3 609.6,275.6 611.6,276.9 613.6,278.1 615.6,279.2 617.6,280.3 619.6,281.4 621.7,282.4 623.7,283.4 625.7,284.4 627.7,285.4 629.7,286.4 631.7,287.4 633.8,288.4 635.8,289.4 637.8,290.4 639.8,291.4 641.8,292.4 643.8,293.4 645.8,294.4 647.9,295.4 649.9,296.3 651.9,297.3 653.9,298.2 655.9,299.1 657.9,300.0 660.0,300.9 662.0,301.8 664.0,302.7 666.0,303.6"/>
<polyline fill="none" stroke="#ee00ee" stroke-width="1.2" points="506.8,212.3 508.8,215.6 510.8,218.8 512.8,221.8 514.8,224.7 516.8,227.5 518.9,230.1 520.9,232.6 522.9,235.0 524.9,237.2 526.9,239.3 528.9,241.3 530.9,243.2 533.0,244.9 535.0,246.6 537.0,248.2 539.0,249.8 541.0,251.2 543.0,252.5 545.1,253.9 547.1,255.3 549.1,256.8 551.1,258.4 553.1,260.1 555.1,261.8 557.2,263.3 559.2,264.7 561.2,265.9 563.2,267.0 565.2,268.0 567.2,268.9 569.2,269.8 571.3,270.7 573.3,271.6 575.3,272.5 577.3,273.3 579.3,274.2 581.3,275.0 583.4,275.7 585.4,276.5 587.4,277.3 589.4,278.0 591.4,278.8 593.4,279.7 595.5,280.5 597.5,281.4 599.5,282.4 601.5,283.3 603.5,284.3 605.5,285.3 607.5,286.4 609.6,287.4 611.6,288.5 613.6,289.5 615.6,290.5 617.6,291.6 619.6,292.7 621.7,293.8 623.7,294.9 625.7,295.9 627.7,296.9 629.7,297.9 631.7,298.7 633.8,299.4 635.8,300.1 637.8,300.8 639.8,301.4 641.8,301.9 643.8,302.5 645.8,303.1 647.9,303.8 649.9,304.4 651.9,305.1 653.9,305.8 655.9,306.5 657.9,307.2 660.0,307.9 662.0,308.6 664.0,309.4 666.0,310.1"/>
<polyline fill="none" stroke="#008000" stroke-width="1.2" points="506.8,224.7 508.8,228.4 510.8,232.0 512.8,235.3 514.8,238.4 516.8,241.2 518.9,243.9 520.9,246.4 522.9,248.8 524.9,251.0 526.9,253.1 528.9,255.1 530.9,257.0 533.0,258.7 535.0,260.4 537.0,261.9 539.0,263.3 541.0,264.6 543.0,265.8 545.1,266.9 547.1,268.1 549.1,269.2 551.1,270.4 553.1,271.5 555.1,272.8 557.2,274.0 559.2,275.3 561.2,276.6 563.2,277.9 565.2,279.2 567.2,280.5 569.2,281.7 571.3,282.9 573.3,283.9 575.3,284.8 577.3,285.6 579.3,286.3 581.3,287.0 583.4,287.6 585.4,288.2 587.4,288.7 589.4,289.3 591.4,289.8 593.4,290.4 595.5,291.0 597.5,291.6 599.5,292.3 601.5,292.9 603.5,293.6 605.5,294.2 607.5,294.9 609.6,295.6 611.6,296.3 613.6,297.1 615.6,297.9 617.6,298.8 619.6,299.8 621.7,300.8 623.7,301.9 625.7,303.0 627.7,304.0 629.7,305.0 631.7,305.9 633.8,306.7 635.8,307.4 637.8,308.0 639.8,308.7 641.8,309.3 643.8,309.9 645.8,310.4 647.9,311.0 649.9,311.6 651.9,312.2 653.9,312.7 655.9,313.3 657.9,313.8 660.0,314.4 662.0,314.9 664.0,315.4 666.0,315.9"/>
</g>
<rect x="38.8" y="4.3" width="196.6" height="158.0" fill="none" stroke="#111" stroke-width="1.45"/>
<path stroke="#111" stroke-width="1.2" fill="none" d="M58.5 162.3v-3.5M58.5 4.3v3.5M78.1 162.3v-1.8M78.1 4.3v1.8M97.8 162.3v-3.5M97.8 4.3v3.5M117.4 162.3v-1.8M117.4 4.3v1.8M137.1 162.3v-3.5M137.1 4.3v3.5M156.8 162.3v-1.8M156.8 4.3v1.8M176.4 162.3v-3.5M176.4 4.3v3.5M196.1 162.3v-1.8M196.1 4.3v1.8M215.7 162.3v-3.5M215.7 4.3v3.5M38.8 142.6h1.8M235.4 142.6h-1.8M38.8 122.8h3.5M235.4 122.8h-3.5M38.8 103.1h1.8M235.4 103.1h-1.8M38.8 83.3h3.5M235.4 83.3h-3.5M38.8 63.6h1.8M235.4 63.6h-1.8M38.8 43.8h3.5M235.4 43.8h-3.5M38.8 24.1h1.8M235.4 24.1h-1.8"/>
<text x="35.6" y="165.3" text-anchor="end" font-size="9" font-family="Liberation Serif, serif" font-weight="bold">-1000</text>
<text x="35.6" y="125.8" text-anchor="end" font-size="9" font-family="Liberation Serif, serif" font-weight="bold">0</text>
<text x="35.6" y="86.3" text-anchor="end" font-size="9" font-family="Liberation Serif, serif" font-weight="bold">1000</text>
<text x="35.6" y="46.8" text-anchor="end" font-size="9" font-family="Liberation Serif, serif" font-weight="bold">2000</text>
<text x="35.6" y="7.3" text-anchor="end" font-size="9" font-family="Liberation Serif, serif" font-weight="bold">3000</text>
<text x="46.8" y="16.8" font-size="8.8" font-family="Liberation Serif, serif" font-weight="bold">(a)</text>
<rect x="261.0" y="4.2" width="196.2" height="158.1" fill="none" stroke="#111" stroke-width="1.45"/>
<path stroke="#111" stroke-width="1.2" fill="none" d="M280.6 162.3v-3.5M280.6 4.2v3.5M300.2 162.3v-1.8M300.2 4.2v1.8M319.9 162.3v-3.5M319.9 4.2v3.5M339.5 162.3v-1.8M339.5 4.2v1.8M359.1 162.3v-3.5M359.1 4.2v3.5M378.7 162.3v-1.8M378.7 4.2v1.8M398.3 162.3v-3.5M398.3 4.2v3.5M418.0 162.3v-1.8M418.0 4.2v1.8M437.6 162.3v-3.5M437.6 4.2v3.5M261.0 142.5h1.8M457.2 142.5h-1.8M261.0 122.8h3.5M457.2 122.8h-3.5M261.0 103.0h1.8M457.2 103.0h-1.8M261.0 83.2h3.5M457.2 83.2h-3.5M261.0 63.5h1.8M457.2 63.5h-1.8M261.0 43.7h3.5M457.2 43.7h-3.5M261.0 24.0h1.8M457.2 24.0h-1.8"/>
<text x="257.8" y="165.3" text-anchor="end" font-size="9" font-family="Liberation Serif, serif" font-weight="bold">-1000</text>
<text x="257.8" y="125.8" text-anchor="end" font-size="9" font-family="Liberation Serif, serif" font-weight="bold">0</text>
<text x="257.8" y="86.2" text-anchor="end" font-size="9" font-family="Liberation Serif, serif" font-weight="bold">1000</text>
<text x="257.8" y="46.7" text-anchor="end" font-size="9" font-family="Liberation Serif, serif" font-weight="bold">2000</text>
<text x="257.8" y="7.2" text-anchor="end" font-size="9" font-family="Liberation Serif, serif" font-weight="bold">3000</text>
<text x="266.9" y="15.0" font-size="8.8" font-family="Liberation Serif, serif" font-weight="bold">(b)</text>
<rect x="486.5" y="4.3" width="196.5" height="158.0" fill="none" stroke="#111" stroke-width="1.45"/>
<path stroke="#111" stroke-width="1.2" fill="none" d="M506.1 162.3v-3.5M506.1 4.3v3.5M525.8 162.3v-1.8M525.8 4.3v1.8M545.5 162.3v-3.5M545.5 4.3v3.5M565.1 162.3v-1.8M565.1 4.3v1.8M584.8 162.3v-3.5M584.8 4.3v3.5M604.4 162.3v-1.8M604.4 4.3v1.8M624.0 162.3v-3.5M624.0 4.3v3.5M643.7 162.3v-1.8M643.7 4.3v1.8M663.4 162.3v-3.5M663.4 4.3v3.5M486.5 142.6h1.8M683.0 142.6h-1.8M486.5 122.8h3.5M683.0 122.8h-3.5M486.5 103.1h1.8M683.0 103.1h-1.8M486.5 83.3h3.5M683.0 83.3h-3.5M486.5 63.6h1.8M683.0 63.6h-1.8M486.5 43.8h3.5M683.0 43.8h-3.5M486.5 24.1h1.8M683.0 24.1h-1.8"/>
<text x="483.3" y="165.3" text-anchor="end" font-size="9" font-family="Liberation Serif, serif" font-weight="bold">-1000</text>
<text x="483.3" y="125.8" text-anchor="end" font-size="9" font-family="Liberation Serif, serif" font-weight="bold">0</text>
<text x="483.3" y="86.3" text-anchor="end" font-size="9" font-family="Liberation Serif, serif" font-weight="bold">1000</text>
<text x="483.3" y="46.8" text-anchor="end" font-size="9" font-family="Liberation Serif, serif" font-weight="bold">2000</text>
<text x="483.3" y="7.3" text-anchor="end" font-size="9" font-family="Liberation Serif, serif" font-weight="bold">3000</text>
<text x="494.6" y="14.8" font-size="8.8" font-family="Liberation Serif, serif" font-weight="bold">(c)</text>
<rect x="38.2" y="171.5" width="196.1" height="157.7" fill="none" stroke="#111" stroke-width="1.45"/>
<path stroke="#111" stroke-width="1.2" fill="none" d="M57.8 329.2v-3.5M57.8 171.5v3.5M77.4 329.2v-1.8M77.4 171.5v1.8M97.0 329.2v-3.5M97.0 171.5v3.5M116.6 329.2v-1.8M116.6 171.5v1.8M136.2 329.2v-3.5M136.2 171.5v3.5M155.9 329.2v-1.8M155.9 171.5v1.8M175.5 329.2v-3.5M175.5 171.5v3.5M195.1 329.2v-1.8M195.1 171.5v1.8M214.7 329.2v-3.5M214.7 171.5v3.5M38.2 313.4h1.8M234.3 313.4h-1.8M38.2 297.7h3.5M234.3 297.7h-3.5M38.2 281.9h1.8M234.3 281.9h-1.8M38.2 266.1h3.5M234.3 266.1h-3.5M38.2 250.3h1.8M234.3 250.3h-1.8M38.2 234.6h3.5M234.3 234.6h-3.5M38.2 218.8h1.8M234.3 218.8h-1.8M38.2 203.0h3.5M234.3 203.0h-3.5M38.2 187.3h1.8M234.3 187.3h-1.8"/>
<text x="35.0" y="332.2" text-anchor="end" font-size="9" font-family="Liberation Serif, serif" font-weight="bold">0</text>
<text x="35.0" y="300.7" text-anchor="end" font-size="9" font-family="Liberation Serif, serif" font-weight="bold">1000</text>
<text x="35.0" y="269.1" text-anchor="end" font-size="9" font-family="Liberation Serif, serif" font-weight="bold">2000</text>
<text x="35.0" y="237.6" text-anchor="end" font-size="9" font-family="Liberation Serif, serif" font-weight="bold">3000</text>
<text x="35.0" y="206.0" text-anchor="end" font-size="9" font-family="Liberation Serif, serif" font-weight="bold">4000</text>
<text x="35.0" y="174.5" text-anchor="end" font-size="9" font-family="Liberation Serif, serif" font-weight="bold">5000</text>
<text x="57.8" y="339.8" text-anchor="middle" font-size="8.7" font-family="Liberation Serif, serif" font-weight="bold">0.2</text>
<text x="97.0" y="339.8" text-anchor="middle" font-size="8.7" font-family="Liberation Serif, serif" font-weight="bold">0.4</text>
<text x="136.2" y="339.8" text-anchor="middle" font-size="8.7" font-family="Liberation Serif, serif" font-weight="bold">0.6</text>
<text x="175.5" y="339.8" text-anchor="middle" font-size="8.7" font-family="Liberation Serif, serif" font-weight="bold">0.8</text>
<text x="214.7" y="339.8" text-anchor="middle" font-size="8.7" font-family="Liberation Serif, serif" font-weight="bold">1.0</text>
<text x="136.2" y="358.2" text-anchor="middle" font-size="14" textLength="97.5" lengthAdjust="spacingAndGlyphs" font-family="Liberation Serif, serif" font-weight="bold">Frequency (THz)</text>
<text x="43.0" y="181.9" font-size="8.8" font-family="Liberation Serif, serif" font-weight="bold">(d)</text>
<rect x="260.3" y="171.5" width="196.3" height="157.6" fill="none" stroke="#111" stroke-width="1.45"/>
<path stroke="#111" stroke-width="1.2" fill="none" d="M279.9 329.1v-3.5M279.9 171.5v3.5M299.6 329.1v-1.8M299.6 171.5v1.8M319.2 329.1v-3.5M319.2 171.5v3.5M338.8 329.1v-1.8M338.8 171.5v1.8M358.5 329.1v-3.5M358.5 171.5v3.5M378.1 329.1v-1.8M378.1 171.5v1.8M397.7 329.1v-3.5M397.7 171.5v3.5M417.3 329.1v-1.8M417.3 171.5v1.8M437.0 329.1v-3.5M437.0 171.5v3.5M260.3 313.3h1.8M456.6 313.3h-1.8M260.3 297.6h3.5M456.6 297.6h-3.5M260.3 281.8h1.8M456.6 281.8h-1.8M260.3 266.1h3.5M456.6 266.1h-3.5M260.3 250.3h1.8M456.6 250.3h-1.8M260.3 234.5h3.5M456.6 234.5h-3.5M260.3 218.8h1.8M456.6 218.8h-1.8M260.3 203.0h3.5M456.6 203.0h-3.5M260.3 187.3h1.8M456.6 187.3h-1.8"/>
<text x="257.1" y="332.1" text-anchor="end" font-size="9" font-family="Liberation Serif, serif" font-weight="bold">0</text>
<text x="257.1" y="300.6" text-anchor="end" font-size="9" font-family="Liberation Serif, serif" font-weight="bold">1000</text>
<text x="257.1" y="269.1" text-anchor="end" font-size="9" font-family="Liberation Serif, serif" font-weight="bold">2000</text>
<text x="257.1" y="237.5" text-anchor="end" font-size="9" font-family="Liberation Serif, serif" font-weight="bold">3000</text>
<text x="257.1" y="206.0" text-anchor="end" font-size="9" font-family="Liberation Serif, serif" font-weight="bold">4000</text>
<text x="257.1" y="174.5" text-anchor="end" font-size="9" font-family="Liberation Serif, serif" font-weight="bold">5000</text>
<text x="279.9" y="339.7" text-anchor="middle" font-size="8.7" font-family="Liberation Serif, serif" font-weight="bold">0.2</text>
<text x="319.2" y="339.7" text-anchor="middle" font-size="8.7" font-family="Liberation Serif, serif" font-weight="bold">0.4</text>
<text x="358.5" y="339.7" text-anchor="middle" font-size="8.7" font-family="Liberation Serif, serif" font-weight="bold">0.6</text>
<text x="397.7" y="339.7" text-anchor="middle" font-size="8.7" font-family="Liberation Serif, serif" font-weight="bold">0.8</text>
<text x="437.0" y="339.7" text-anchor="middle" font-size="8.7" font-family="Liberation Serif, serif" font-weight="bold">1.0</text>
<text x="358.5" y="358.2" text-anchor="middle" font-size="14" textLength="97.5" lengthAdjust="spacingAndGlyphs" font-family="Liberation Serif, serif" font-weight="bold">Frequency (THz)</text>
<text x="266.9" y="181.0" font-size="8.8" font-family="Liberation Serif, serif" font-weight="bold">(e)</text>
<rect x="487.1" y="171.7" width="196.6" height="157.5" fill="none" stroke="#111" stroke-width="1.45"/>
<path stroke="#111" stroke-width="1.2" fill="none" d="M506.8 329.2v-3.5M506.8 171.7v3.5M526.4 329.2v-1.8M526.4 171.7v1.8M546.1 329.2v-3.5M546.1 171.7v3.5M565.7 329.2v-1.8M565.7 171.7v1.8M585.4 329.2v-3.5M585.4 171.7v3.5M605.1 329.2v-1.8M605.1 171.7v1.8M624.7 329.2v-3.5M624.7 171.7v3.5M644.4 329.2v-1.8M644.4 171.7v1.8M664.0 329.2v-3.5M664.0 171.7v3.5M487.1 313.4h1.8M683.7 313.4h-1.8M487.1 297.7h3.5M683.7 297.7h-3.5M487.1 281.9h1.8M683.7 281.9h-1.8M487.1 266.2h3.5M683.7 266.2h-3.5M487.1 250.4h1.8M683.7 250.4h-1.8M487.1 234.7h3.5M683.7 234.7h-3.5M487.1 218.9h1.8M683.7 218.9h-1.8M487.1 203.2h3.5M683.7 203.2h-3.5M487.1 187.4h1.8M683.7 187.4h-1.8"/>
<text x="483.9" y="332.2" text-anchor="end" font-size="9" font-family="Liberation Serif, serif" font-weight="bold">0</text>
<text x="483.9" y="300.7" text-anchor="end" font-size="9" font-family="Liberation Serif, serif" font-weight="bold">1000</text>
<text x="483.9" y="269.2" text-anchor="end" font-size="9" font-family="Liberation Serif, serif" font-weight="bold">2000</text>
<text x="483.9" y="237.7" text-anchor="end" font-size="9" font-family="Liberation Serif, serif" font-weight="bold">3000</text>
<text x="483.9" y="206.2" text-anchor="end" font-size="9" font-family="Liberation Serif, serif" font-weight="bold">4000</text>
<text x="483.9" y="174.7" text-anchor="end" font-size="9" font-family="Liberation Serif, serif" font-weight="bold">5000</text>
<text x="506.8" y="339.8" text-anchor="middle" font-size="8.7" font-family="Liberation Serif, serif" font-weight="bold">0.2</text>
<text x="546.1" y="339.8" text-anchor="middle" font-size="8.7" font-family="Liberation Serif, serif" font-weight="bold">0.4</text>
<text x="585.4" y="339.8" text-anchor="middle" font-size="8.7" font-family="Liberation Serif, serif" font-weight="bold">0.6</text>
<text x="624.7" y="339.8" text-anchor="middle" font-size="8.7" font-family="Liberation Serif, serif" font-weight="bold">0.8</text>
<text x="664.0" y="339.8" text-anchor="middle" font-size="8.7" font-family="Liberation Serif, serif" font-weight="bold">1.0</text>
<text x="585.4" y="358.2" text-anchor="middle" font-size="14" textLength="97.5" lengthAdjust="spacingAndGlyphs" font-family="Liberation Serif, serif" font-weight="bold">Frequency (THz)</text>
<text x="494.3" y="182.8" font-size="8.8" font-family="Liberation Serif, serif" font-weight="bold">(f)</text>
<path fill="#000000" d="M196.2 14.5h3.5v3.5h-3.5z"/>
<text x="228.5" y="19.0" text-anchor="end" font-size="8.6" font-family="Liberation Serif, serif" font-weight="bold">-40 V</text>
<path fill="#ee0000" d="M196.1 27.4a1.9 1.9 0 1 0 3.8 0a1.9 1.9 0 1 0 -3.8 0z"/>
<text x="228.5" y="30.1" text-anchor="end" font-size="8.6" font-family="Liberation Serif, serif" font-weight="bold">-20 V</text>
<path fill="#0000ee" d="M198.0 36.0l2.4 4.2h-4.8z"/>
<text x="228.5" y="41.1" text-anchor="end" font-size="8.6" font-family="Liberation Serif, serif" font-weight="bold">0 V</text>
<path fill="#ff00ff" d="M198.0 51.8l2.4 -4.2h-4.8z"/>
<text x="228.5" y="52.2" text-anchor="end" font-size="8.6" font-family="Liberation Serif, serif" font-weight="bold">20 V</text>
<path fill="#0a850a" d="M198.0 58.0l2.5 2.5l-2.5 2.5l-2.5 -2.5z"/>
<text x="228.5" y="63.2" text-anchor="end" font-size="8.6" font-family="Liberation Serif, serif" font-weight="bold">40 V</text>
<path fill="#000000" d="M414.8 104.5h3.5v3.5h-3.5z"/>
<text x="447.2" y="109.0" text-anchor="end" font-size="8.6" font-family="Liberation Serif, serif" font-weight="bold">-40 V</text>
<path fill="#ee0000" d="M414.7 117.3a1.9 1.9 0 1 0 3.8 0a1.9 1.9 0 1 0 -3.8 0z"/>
<text x="447.2" y="120.0" text-anchor="end" font-size="8.6" font-family="Liberation Serif, serif" font-weight="bold">-20 V</text>
<path fill="#0000ee" d="M416.6 126.0l2.4 4.2h-4.8z"/>
<text x="447.2" y="131.1" text-anchor="end" font-size="8.6" font-family="Liberation Serif, serif" font-weight="bold">0 V</text>
<path fill="#ff00ff" d="M416.6 141.8l2.4 -4.2h-4.8z"/>
<text x="447.2" y="142.1" text-anchor="end" font-size="8.6" font-family="Liberation Serif, serif" font-weight="bold">20 V</text>
<path fill="#0a850a" d="M416.6 148.0l2.5 2.5l-2.5 2.5l-2.5 -2.5z"/>
<text x="447.2" y="153.2" text-anchor="end" font-size="8.6" font-family="Liberation Serif, serif" font-weight="bold">40 V</text>
<path fill="#000000" d="M643.1 14.5h3.5v3.5h-3.5z"/>
<text x="674.9" y="19.0" text-anchor="end" font-size="8.6" font-family="Liberation Serif, serif" font-weight="bold">-40 V</text>
<path fill="#ee0000" d="M643.0 27.4a1.9 1.9 0 1 0 3.8 0a1.9 1.9 0 1 0 -3.8 0z"/>
<text x="674.9" y="30.1" text-anchor="end" font-size="8.6" font-family="Liberation Serif, serif" font-weight="bold">-20 V</text>
<path fill="#0000ee" d="M644.9 36.0l2.4 4.2h-4.8z"/>
<text x="674.9" y="41.1" text-anchor="end" font-size="8.6" font-family="Liberation Serif, serif" font-weight="bold">0 V</text>
<path fill="#ff00ff" d="M644.9 51.8l2.4 -4.2h-4.8z"/>
<text x="674.9" y="52.2" text-anchor="end" font-size="8.6" font-family="Liberation Serif, serif" font-weight="bold">20 V</text>
<path fill="#0a850a" d="M644.9 58.0l2.5 2.5l-2.5 2.5l-2.5 -2.5z"/>
<text x="674.9" y="63.2" text-anchor="end" font-size="8.6" font-family="Liberation Serif, serif" font-weight="bold">40 V</text>
<text transform="translate(10.8 84.0) rotate(-90)" text-anchor="middle" font-size="14" textLength="32" lengthAdjust="spacingAndGlyphs" font-family="Liberation Serif, serif" font-weight="bold">Re(ε)</text>
<text transform="translate(12.4 249.3) rotate(-90)" text-anchor="middle" font-size="13.2" font-family="Liberation Serif, serif" font-weight="bold">Im(ε)</text>
<rect x="99.4" y="159.6" width="69.1" height="24.2" fill="#000"/>
<rect x="97.2" y="157.4" width="69.1" height="24.2" fill="#fff" stroke="#444" stroke-width="0.8"/>
<text x="131.8" y="175.8" text-anchor="middle" font-size="18.5" textLength="45.0" lengthAdjust="spacingAndGlyphs" font-family="Liberation Serif, serif" font-weight="bold">0 mW</text>
<rect x="321.7" y="160.6" width="67.9" height="24.6" fill="#000"/>
<rect x="319.5" y="158.4" width="67.9" height="24.6" fill="#fff" stroke="#444" stroke-width="0.8"/>
<text x="353.4" y="176.5" text-anchor="middle" font-size="18.5" textLength="62.8" lengthAdjust="spacingAndGlyphs" font-family="Liberation Serif, serif" font-weight="bold">200 mW</text>
<rect x="549.7" y="158.6" width="68.6" height="24.1" fill="#000"/>
<rect x="547.5" y="156.4" width="68.6" height="24.1" fill="#fff" stroke="#444" stroke-width="0.8"/>
<text x="581.8" y="175.0" text-anchor="middle" font-size="18.5" textLength="63.5" lengthAdjust="spacingAndGlyphs" font-family="Liberation Serif, serif" font-weight="bold">400 mW</text>
<rect x="101.5" y="188.4" width="124.8" height="76.4" fill="#fff" stroke="#222" stroke-width="0.9"/>
<path stroke="#222" stroke-width="0.8" fill="none" d="M101.5 264.8v-2.2M101.5 188.4v2.2M114.0 264.8v-1.2M114.0 188.4v1.2M126.5 264.8v-2.2M126.5 188.4v2.2M138.9 264.8v-1.2M138.9 188.4v1.2M151.4 264.8v-2.2M151.4 188.4v2.2M163.9 264.8v-1.2M163.9 188.4v1.2M176.4 264.8v-2.2M176.4 188.4v2.2M188.9 264.8v-1.2M188.9 188.4v1.2M201.3 264.8v-2.2M201.3 188.4v2.2M213.8 264.8v-1.2M213.8 188.4v1.2M226.3 264.8v-2.2M226.3 188.4v2.2M101.5 258.4h1.2M226.3 258.4h-1.2M101.5 252.1h2.2M226.3 252.1h-2.2M101.5 245.7h1.2M226.3 245.7h-1.2M101.5 239.3h1.2M226.3 239.3h-1.2M101.5 233.0h1.2M226.3 233.0h-1.2M101.5 226.6h2.2M226.3 226.6h-2.2M101.5 220.2h1.2M226.3 220.2h-1.2M101.5 213.9h1.2M226.3 213.9h-1.2M101.5 207.5h1.2M226.3 207.5h-1.2M101.5 201.1h2.2M226.3 201.1h-2.2M101.5 194.8h1.2M226.3 194.8h-1.2"/>
<text x="99.5" y="253.9" text-anchor="end" font-size="5.3" font-family="Liberation Serif, serif" font-weight="bold">600</text>
<text x="99.5" y="228.4" text-anchor="end" font-size="5.3" font-family="Liberation Serif, serif" font-weight="bold">800</text>
<text x="99.5" y="202.9" text-anchor="end" font-size="5.3" font-family="Liberation Serif, serif" font-weight="bold">1000</text>
<text x="101.5" y="271.1" text-anchor="middle" font-size="5.3" font-family="Liberation Serif, serif" font-weight="bold">0.40</text>
<text x="126.5" y="271.1" text-anchor="middle" font-size="5.3" font-family="Liberation Serif, serif" font-weight="bold">0.42</text>
<text x="151.4" y="271.1" text-anchor="middle" font-size="5.3" font-family="Liberation Serif, serif" font-weight="bold">0.44</text>
<text x="176.4" y="271.1" text-anchor="middle" font-size="5.3" font-family="Liberation Serif, serif" font-weight="bold">0.46</text>
<text x="201.3" y="271.1" text-anchor="middle" font-size="5.3" font-family="Liberation Serif, serif" font-weight="bold">0.48</text>
<text x="226.3" y="271.1" text-anchor="middle" font-size="5.3" font-family="Liberation Serif, serif" font-weight="bold">0.50</text>
<g clip-path="url(#cpi)">
<path fill="#000000" d="M108.7 229.7h2.0v2.0h-2.0zM119.7 235.6h2.0v2.0h-2.0zM130.7 234.6h2.0v2.0h-2.0zM141.7 236.7h2.0v2.0h-2.0zM152.6 239.9h2.0v2.0h-2.0zM163.6 239.9h2.0v2.0h-2.0zM174.6 238.3h2.0v2.0h-2.0zM185.6 242.1h2.0v2.0h-2.0zM196.6 243.7h2.0v2.0h-2.0zM207.6 242.6h2.0v2.0h-2.0zM218.5 243.7h2.0v2.0h-2.0z"/>
<line x1="101.5" y1="232.5" x2="226.3" y2="247.0" stroke="#000000" stroke-width="0.9"/>
<path fill="#ee0000" d="M108.6 206.8a1.1 1.1 0 1 0 2.2 0a1.1 1.1 0 1 0 -2.2 0zM119.6 210.6a1.1 1.1 0 1 0 2.2 0a1.1 1.1 0 1 0 -2.2 0zM130.6 210.6a1.1 1.1 0 1 0 2.2 0a1.1 1.1 0 1 0 -2.2 0zM141.6 210.0a1.1 1.1 0 1 0 2.2 0a1.1 1.1 0 1 0 -2.2 0zM152.6 213.7a1.1 1.1 0 1 0 2.2 0a1.1 1.1 0 1 0 -2.2 0zM163.5 215.0a1.1 1.1 0 1 0 2.2 0a1.1 1.1 0 1 0 -2.2 0zM174.5 213.6a1.1 1.1 0 1 0 2.2 0a1.1 1.1 0 1 0 -2.2 0zM185.5 213.6a1.1 1.1 0 1 0 2.2 0a1.1 1.1 0 1 0 -2.2 0zM196.5 218.9a1.1 1.1 0 1 0 2.2 0a1.1 1.1 0 1 0 -2.2 0zM207.5 222.2a1.1 1.1 0 1 0 2.2 0a1.1 1.1 0 1 0 -2.2 0zM218.5 221.5a1.1 1.1 0 1 0 2.2 0a1.1 1.1 0 1 0 -2.2 0z"/>
<line x1="101.5" y1="207.5" x2="226.3" y2="220.0" stroke="#dd0000" stroke-width="0.9"/>
<path fill="#0000ee" d="M109.7 204.7l1.4 2.4h-2.8zM120.7 204.9l1.4 2.4h-2.8zM131.7 205.3l1.4 2.4h-2.8zM142.7 208.0l1.4 2.4h-2.8zM153.7 210.4l1.4 2.4h-2.8zM164.6 210.6l1.4 2.4h-2.8zM175.6 213.9l1.4 2.4h-2.8zM186.6 214.0l1.4 2.4h-2.8zM197.6 216.5l1.4 2.4h-2.8zM208.6 212.9l1.4 2.4h-2.8zM219.6 217.3l1.4 2.4h-2.8z"/>
<line x1="101.5" y1="203.4" x2="226.3" y2="220.9" stroke="#0000cc" stroke-width="0.9"/>
<path fill="#ff00ff" d="M109.7 220.9l1.4 -2.4h-2.8zM120.7 223.6l1.4 -2.4h-2.8zM131.7 225.2l1.4 -2.4h-2.8zM142.7 229.5l1.4 -2.4h-2.8zM153.7 230.6l1.4 -2.4h-2.8zM164.6 233.1l1.4 -2.4h-2.8zM175.6 233.1l1.4 -2.4h-2.8zM186.6 237.5l1.4 -2.4h-2.8zM197.6 240.6l1.4 -2.4h-2.8zM208.6 243.9l1.4 -2.4h-2.8zM219.6 246.1l1.4 -2.4h-2.8z"/>
<line x1="101.5" y1="216.4" x2="226.3" y2="244.4" stroke="#ee00ee" stroke-width="0.9"/>
<path fill="#0a850a" d="M109.7 225.6l1.4 1.4l-1.4 1.4l-1.4 -1.4zM120.7 228.7l1.4 1.4l-1.4 1.4l-1.4 -1.4zM131.7 229.4l1.4 1.4l-1.4 1.4l-1.4 -1.4zM142.7 234.9l1.4 1.4l-1.4 1.4l-1.4 -1.4zM153.7 235.2l1.4 1.4l-1.4 1.4l-1.4 -1.4zM164.6 239.2l1.4 1.4l-1.4 1.4l-1.4 -1.4zM175.6 242.5l1.4 1.4l-1.4 1.4l-1.4 -1.4zM186.6 248.3l1.4 1.4l-1.4 1.4l-1.4 -1.4zM197.6 250.1l1.4 1.4l-1.4 1.4l-1.4 -1.4zM208.6 249.8l1.4 1.4l-1.4 1.4l-1.4 -1.4zM219.6 251.6l1.4 1.4l-1.4 1.4l-1.4 -1.4z"/>
<line x1="101.5" y1="224.8" x2="226.3" y2="256.9" stroke="#008000" stroke-width="0.9"/>
</g>
<rect x="99.5" y="289.5" width="19" height="28.6" fill="none" stroke="#000" stroke-width="1.15" stroke-dasharray="4 1.6 1.2 1.6"/>
<line x1="120.6" y1="292.3" x2="142.5" y2="276.5" stroke="#000" stroke-width="1.1"/>
<path d="M146.2 273.9 L139.6 275.6 L142.9 279.4 Z" fill="#000"/>
</svg>
</body></html>
